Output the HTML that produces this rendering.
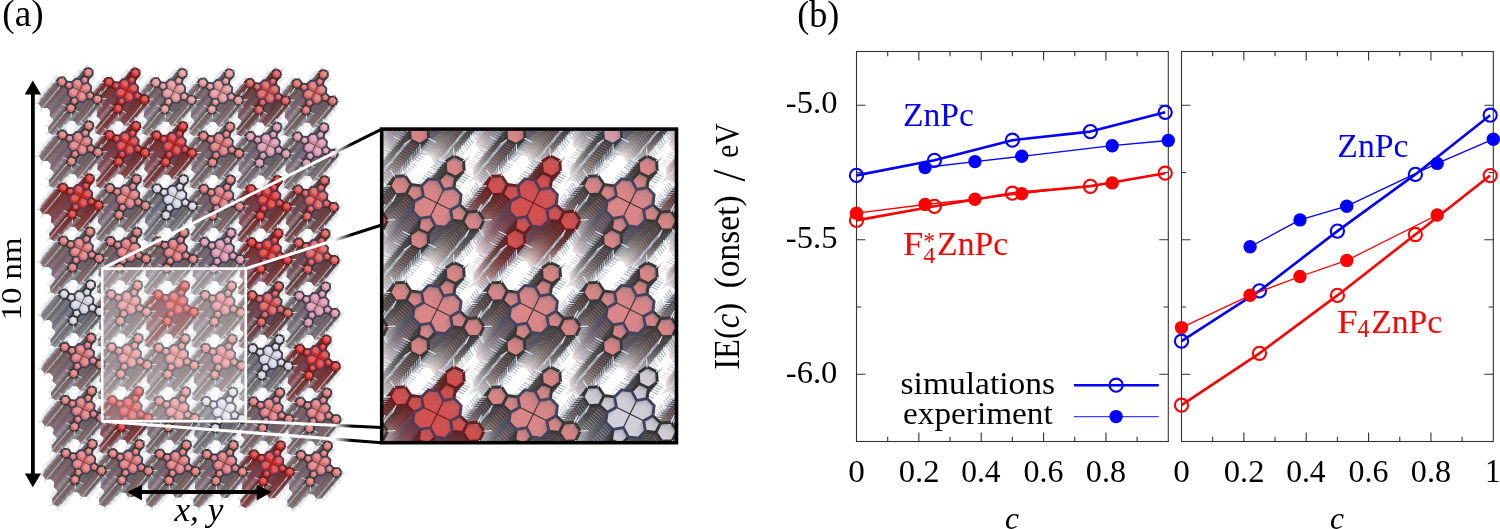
<!DOCTYPE html><html><head><meta charset="utf-8"><style>html,body{margin:0;padding:0;background:#fff;overflow:hidden}svg{display:block;will-change:transform}</style></head><body><svg width="1500" height="529" viewBox="0 0 1500 529" font-family='"Liberation Serif", serif'><defs><g id="bT"><path d="M6.63,3.24L11.19,0.81L14.91,4.40L12.65,9.04L7.53,8.32ZM14.91,4.40L20.06,4.04L22.95,8.32L20.69,12.96L15.53,13.32L12.65,9.04ZM0.00,0.00L6.63,3.24L7.53,8.32L4.06,11.79L-0.81,11.19L-3.24,6.63ZM-3.24,6.63L-0.81,11.19L-4.40,14.91L-9.04,12.65L-8.32,7.53ZM-4.40,14.91L-4.04,20.06L-8.32,22.95L-12.96,20.69L-13.32,15.53L-9.04,12.65ZM-0.00,0.00L-3.24,6.63L-8.32,7.53L-11.79,4.06L-11.19,-0.81L-6.63,-3.24ZM-6.63,-3.24L-11.19,-0.81L-14.91,-4.40L-12.65,-9.04L-7.53,-8.32ZM-14.91,-4.40L-20.06,-4.04L-22.95,-8.32L-20.69,-12.96L-15.53,-13.32L-12.65,-9.04ZM0.00,-0.00L-6.63,-3.24L-7.53,-8.32L-4.06,-11.79L0.81,-11.19L3.24,-6.63ZM3.24,-6.63L0.81,-11.19L4.40,-14.91L9.04,-12.65L8.32,-7.53ZM4.40,-14.91L4.04,-20.06L8.32,-22.95L12.96,-20.69L13.32,-15.53L9.04,-12.65ZM0.00,0.00L3.24,-6.63L8.32,-7.53L11.79,-4.06L11.19,0.81L6.63,3.24Z" style="fill:var(--f)" fill-opacity="0.6" stroke="none"/><path d="M9.03,2.87L11.86,1.36L14.17,3.59L12.76,6.47L9.59,6.02ZM16.91,4.93L20.10,4.70L21.89,7.36L20.49,10.24L17.30,10.46L15.50,7.80ZM1.80,1.51L5.91,3.51L6.47,6.67L4.32,8.82L1.30,8.45L-0.21,5.62ZM-3.07,7.03L-1.56,9.86L-3.79,12.17L-6.67,10.76L-6.22,7.59ZM-5.13,14.91L-4.90,18.10L-7.56,19.89L-10.44,18.49L-10.66,15.30L-8.00,13.50ZM-1.71,-0.20L-3.71,3.91L-6.87,4.47L-9.02,2.32L-8.65,-0.70L-5.82,-2.21ZM-7.23,-5.07L-10.06,-3.56L-12.37,-5.79L-10.96,-8.67L-7.79,-8.22ZM-15.11,-7.13L-18.30,-6.90L-20.09,-9.56L-18.69,-12.44L-15.50,-12.66L-13.70,-10.00ZM0.00,-3.71L-4.11,-5.71L-4.67,-8.87L-2.52,-11.02L0.50,-10.65L2.01,-7.82ZM4.87,-9.23L3.36,-12.06L5.59,-14.37L8.47,-12.96L8.02,-9.79ZM6.93,-17.11L6.70,-20.30L9.36,-22.09L12.24,-20.69L12.46,-17.50L9.80,-15.70ZM3.51,-2.00L5.51,-6.11L8.67,-6.67L10.82,-4.52L10.45,-1.50L7.62,0.01Z" style="fill:var(--l)" fill-opacity="0.55" stroke="none"/><path d="M0.00,0.00L6.63,3.24M0.00,0.00L-3.24,6.63M0.00,0.00L-6.63,-3.24M0.00,0.00L3.24,-6.63" fill="none" style="stroke:var(--c)" stroke-width="0.72"/><path d="M11.19,0.81L14.91,4.40M14.91,4.40L12.65,9.04M12.65,9.04L7.53,8.32M14.91,4.40L20.06,4.04M20.06,4.04L22.95,8.32M22.95,8.32L20.69,12.96M20.69,12.96L15.53,13.32M15.53,13.32L12.65,9.04M12.65,9.04L14.91,4.40M-0.81,11.19L-4.40,14.91M-4.40,14.91L-9.04,12.65M-9.04,12.65L-8.32,7.53M-4.40,14.91L-4.04,20.06M-4.04,20.06L-8.32,22.95M-8.32,22.95L-12.96,20.69M-12.96,20.69L-13.32,15.53M-13.32,15.53L-9.04,12.65M-9.04,12.65L-4.40,14.91M-11.19,-0.81L-14.91,-4.40M-14.91,-4.40L-12.65,-9.04M-12.65,-9.04L-7.53,-8.32M-14.91,-4.40L-20.06,-4.04M-20.06,-4.04L-22.95,-8.32M-22.95,-8.32L-20.69,-12.96M-20.69,-12.96L-15.53,-13.32M-15.53,-13.32L-12.65,-9.04M-12.65,-9.04L-14.91,-4.40M0.81,-11.19L4.40,-14.91M4.40,-14.91L9.04,-12.65M9.04,-12.65L8.32,-7.53M4.40,-14.91L4.04,-20.06M4.04,-20.06L8.32,-22.95M8.32,-22.95L12.96,-20.69M12.96,-20.69L13.32,-15.53M13.32,-15.53L9.04,-12.65M9.04,-12.65L4.40,-14.91" fill="none" style="stroke:var(--c)" stroke-width="1.8" stroke-linecap="round" stroke-linejoin="round"/><path d="M6.63,3.24L11.19,0.81M6.63,3.24L7.53,8.32M7.53,8.32L4.06,11.79M4.06,11.79L-0.81,11.19M-3.24,6.63L-0.81,11.19M-3.24,6.63L-8.32,7.53M-8.32,7.53L-11.79,4.06M-11.79,4.06L-11.19,-0.81M-6.63,-3.24L-11.19,-0.81M-6.63,-3.24L-7.53,-8.32M-7.53,-8.32L-4.06,-11.79M-4.06,-11.79L0.81,-11.19M3.24,-6.63L0.81,-11.19M3.24,-6.63L8.32,-7.53M8.32,-7.53L11.79,-4.06M11.79,-4.06L11.19,0.81" fill="none" style="stroke:var(--n)" stroke-width="1.8" stroke-linecap="round" stroke-linejoin="round"/><path d="M20.06,4.04L21.68,0.72M22.95,8.32L26.63,8.06M20.69,12.96L22.75,16.02M15.53,13.32L13.92,16.64M-4.04,20.06L-0.72,21.68M-8.32,22.95L-8.06,26.63M-12.96,20.69L-16.02,22.75M-13.32,15.53L-16.64,13.92M-20.06,-4.04L-21.68,-0.72M-22.95,-8.32L-26.63,-8.06M-20.69,-12.96L-22.75,-16.02M-15.53,-13.32L-13.92,-16.64M4.04,-20.06L0.72,-21.68M8.32,-22.95L8.06,-26.63M12.96,-20.69L16.02,-22.75M13.32,-15.53L16.64,-13.92" fill="none" style="stroke:var(--h)" stroke-width="0.9" stroke-linecap="round"/></g><g id="bD"><path d="M6.63,3.24L11.19,0.81L14.91,4.40L12.65,9.04L7.53,8.32ZM14.91,4.40L20.06,4.04L22.95,8.32L20.69,12.96L15.53,13.32L12.65,9.04ZM0.00,0.00L6.63,3.24L7.53,8.32L4.06,11.79L-0.81,11.19L-3.24,6.63ZM-3.24,6.63L-0.81,11.19L-4.40,14.91L-9.04,12.65L-8.32,7.53ZM-4.40,14.91L-4.04,20.06L-8.32,22.95L-12.96,20.69L-13.32,15.53L-9.04,12.65ZM-0.00,0.00L-3.24,6.63L-8.32,7.53L-11.79,4.06L-11.19,-0.81L-6.63,-3.24ZM-6.63,-3.24L-11.19,-0.81L-14.91,-4.40L-12.65,-9.04L-7.53,-8.32ZM-14.91,-4.40L-20.06,-4.04L-22.95,-8.32L-20.69,-12.96L-15.53,-13.32L-12.65,-9.04ZM0.00,-0.00L-6.63,-3.24L-7.53,-8.32L-4.06,-11.79L0.81,-11.19L3.24,-6.63ZM3.24,-6.63L0.81,-11.19L4.40,-14.91L9.04,-12.65L8.32,-7.53ZM4.40,-14.91L4.04,-20.06L8.32,-22.95L12.96,-20.69L13.32,-15.53L9.04,-12.65ZM0.00,0.00L3.24,-6.63L8.32,-7.53L11.79,-4.06L11.19,0.81L6.63,3.24Z" style="fill:var(--f)" fill-opacity="1.0" stroke="none"/><path d="M11.19,0.81L14.91,4.40M14.91,4.40L12.65,9.04M12.65,9.04L7.53,8.32M14.91,4.40L20.06,4.04M20.06,4.04L22.95,8.32M22.95,8.32L20.69,12.96M20.69,12.96L15.53,13.32M15.53,13.32L12.65,9.04M12.65,9.04L14.91,4.40M-0.81,11.19L-4.40,14.91M-4.40,14.91L-9.04,12.65M-9.04,12.65L-8.32,7.53M-4.40,14.91L-4.04,20.06M-4.04,20.06L-8.32,22.95M-8.32,22.95L-12.96,20.69M-12.96,20.69L-13.32,15.53M-13.32,15.53L-9.04,12.65M-9.04,12.65L-4.40,14.91M-11.19,-0.81L-14.91,-4.40M-14.91,-4.40L-12.65,-9.04M-12.65,-9.04L-7.53,-8.32M-14.91,-4.40L-20.06,-4.04M-20.06,-4.04L-22.95,-8.32M-22.95,-8.32L-20.69,-12.96M-20.69,-12.96L-15.53,-13.32M-15.53,-13.32L-12.65,-9.04M-12.65,-9.04L-14.91,-4.40M0.81,-11.19L4.40,-14.91M4.40,-14.91L9.04,-12.65M9.04,-12.65L8.32,-7.53M4.40,-14.91L4.04,-20.06M4.04,-20.06L8.32,-22.95M8.32,-22.95L12.96,-20.69M12.96,-20.69L13.32,-15.53M13.32,-15.53L9.04,-12.65M9.04,-12.65L4.40,-14.91" fill="none" style="stroke:var(--c)" stroke-width="1.0" stroke-linecap="round" stroke-linejoin="round"/><path d="M6.63,3.24L11.19,0.81M6.63,3.24L7.53,8.32M7.53,8.32L4.06,11.79M4.06,11.79L-0.81,11.19M-3.24,6.63L-0.81,11.19M-3.24,6.63L-8.32,7.53M-8.32,7.53L-11.79,4.06M-11.79,4.06L-11.19,-0.81M-6.63,-3.24L-11.19,-0.81M-6.63,-3.24L-7.53,-8.32M-7.53,-8.32L-4.06,-11.79M-4.06,-11.79L0.81,-11.19M3.24,-6.63L0.81,-11.19M3.24,-6.63L8.32,-7.53M8.32,-7.53L11.79,-4.06M11.79,-4.06L11.19,0.81" fill="none" style="stroke:var(--n)" stroke-width="1.0" stroke-linecap="round" stroke-linejoin="round"/><path d="M20.06,4.04L21.68,0.72M22.95,8.32L26.63,8.06M20.69,12.96L22.75,16.02M15.53,13.32L13.92,16.64M-4.04,20.06L-0.72,21.68M-8.32,22.95L-8.06,26.63M-12.96,20.69L-16.02,22.75M-13.32,15.53L-16.64,13.92M-20.06,-4.04L-21.68,-0.72M-22.95,-8.32L-26.63,-8.06M-20.69,-12.96L-22.75,-16.02M-15.53,-13.32L-13.92,-16.64M4.04,-20.06L0.72,-21.68M8.32,-22.95L8.06,-26.63M12.96,-20.69L16.02,-22.75M13.32,-15.53L16.64,-13.92" fill="none" style="stroke:var(--h)" stroke-width="0.45" stroke-linecap="round"/></g><g id="iT"><path d="M6.63,3.24L11.19,0.81L14.91,4.40L12.65,9.04L7.53,8.32ZM14.91,4.40L20.06,4.04L22.95,8.32L20.69,12.96L15.53,13.32L12.65,9.04ZM0.00,0.00L6.63,3.24L7.53,8.32L4.06,11.79L-0.81,11.19L-3.24,6.63ZM-3.24,6.63L-0.81,11.19L-4.40,14.91L-9.04,12.65L-8.32,7.53ZM-4.40,14.91L-4.04,20.06L-8.32,22.95L-12.96,20.69L-13.32,15.53L-9.04,12.65ZM-0.00,0.00L-3.24,6.63L-8.32,7.53L-11.79,4.06L-11.19,-0.81L-6.63,-3.24ZM-6.63,-3.24L-11.19,-0.81L-14.91,-4.40L-12.65,-9.04L-7.53,-8.32ZM-14.91,-4.40L-20.06,-4.04L-22.95,-8.32L-20.69,-12.96L-15.53,-13.32L-12.65,-9.04ZM0.00,-0.00L-6.63,-3.24L-7.53,-8.32L-4.06,-11.79L0.81,-11.19L3.24,-6.63ZM3.24,-6.63L0.81,-11.19L4.40,-14.91L9.04,-12.65L8.32,-7.53ZM4.40,-14.91L4.04,-20.06L8.32,-22.95L12.96,-20.69L13.32,-15.53L9.04,-12.65ZM0.00,0.00L3.24,-6.63L8.32,-7.53L11.79,-4.06L11.19,0.81L6.63,3.24Z" style="fill:var(--f)" fill-opacity="0.62" stroke="none"/><path d="M0.00,0.00L6.63,3.24M0.00,0.00L-3.24,6.63M0.00,0.00L-6.63,-3.24M0.00,0.00L3.24,-6.63" fill="none" style="stroke:var(--c)" stroke-width="0.56"/><path d="M11.19,0.81L14.91,4.40M14.91,4.40L12.65,9.04M12.65,9.04L7.53,8.32M14.91,4.40L20.06,4.04M20.06,4.04L22.95,8.32M22.95,8.32L20.69,12.96M20.69,12.96L15.53,13.32M15.53,13.32L12.65,9.04M12.65,9.04L14.91,4.40M-0.81,11.19L-4.40,14.91M-4.40,14.91L-9.04,12.65M-9.04,12.65L-8.32,7.53M-4.40,14.91L-4.04,20.06M-4.04,20.06L-8.32,22.95M-8.32,22.95L-12.96,20.69M-12.96,20.69L-13.32,15.53M-13.32,15.53L-9.04,12.65M-9.04,12.65L-4.40,14.91M-11.19,-0.81L-14.91,-4.40M-14.91,-4.40L-12.65,-9.04M-12.65,-9.04L-7.53,-8.32M-14.91,-4.40L-20.06,-4.04M-20.06,-4.04L-22.95,-8.32M-22.95,-8.32L-20.69,-12.96M-20.69,-12.96L-15.53,-13.32M-15.53,-13.32L-12.65,-9.04M-12.65,-9.04L-14.91,-4.40M0.81,-11.19L4.40,-14.91M4.40,-14.91L9.04,-12.65M9.04,-12.65L8.32,-7.53M4.40,-14.91L4.04,-20.06M4.04,-20.06L8.32,-22.95M8.32,-22.95L12.96,-20.69M12.96,-20.69L13.32,-15.53M13.32,-15.53L9.04,-12.65M9.04,-12.65L4.40,-14.91" fill="none" style="stroke:var(--c)" stroke-width="1.4" stroke-linecap="round" stroke-linejoin="round"/><path d="M6.63,3.24L11.19,0.81M6.63,3.24L7.53,8.32M7.53,8.32L4.06,11.79M4.06,11.79L-0.81,11.19M-3.24,6.63L-0.81,11.19M-3.24,6.63L-8.32,7.53M-8.32,7.53L-11.79,4.06M-11.79,4.06L-11.19,-0.81M-6.63,-3.24L-11.19,-0.81M-6.63,-3.24L-7.53,-8.32M-7.53,-8.32L-4.06,-11.79M-4.06,-11.79L0.81,-11.19M3.24,-6.63L0.81,-11.19M3.24,-6.63L8.32,-7.53M8.32,-7.53L11.79,-4.06M11.79,-4.06L11.19,0.81" fill="none" style="stroke:var(--n)" stroke-width="1.4" stroke-linecap="round" stroke-linejoin="round"/><path d="M20.06,4.04L21.68,0.72M22.95,8.32L26.63,8.06M20.69,12.96L22.75,16.02M15.53,13.32L13.92,16.64M-4.04,20.06L-0.72,21.68M-8.32,22.95L-8.06,26.63M-12.96,20.69L-16.02,22.75M-13.32,15.53L-16.64,13.92M-20.06,-4.04L-21.68,-0.72M-22.95,-8.32L-26.63,-8.06M-20.69,-12.96L-22.75,-16.02M-15.53,-13.32L-13.92,-16.64M4.04,-20.06L0.72,-21.68M8.32,-22.95L8.06,-26.63M12.96,-20.69L16.02,-22.75M13.32,-15.53L16.64,-13.92" fill="none" style="stroke:var(--h)" stroke-width="0.6" stroke-linecap="round"/></g><g id="iD"><path d="M6.63,3.24L11.19,0.81L14.91,4.40L12.65,9.04L7.53,8.32ZM14.91,4.40L20.06,4.04L22.95,8.32L20.69,12.96L15.53,13.32L12.65,9.04ZM0.00,0.00L6.63,3.24L7.53,8.32L4.06,11.79L-0.81,11.19L-3.24,6.63ZM-3.24,6.63L-0.81,11.19L-4.40,14.91L-9.04,12.65L-8.32,7.53ZM-4.40,14.91L-4.04,20.06L-8.32,22.95L-12.96,20.69L-13.32,15.53L-9.04,12.65ZM-0.00,0.00L-3.24,6.63L-8.32,7.53L-11.79,4.06L-11.19,-0.81L-6.63,-3.24ZM-6.63,-3.24L-11.19,-0.81L-14.91,-4.40L-12.65,-9.04L-7.53,-8.32ZM-14.91,-4.40L-20.06,-4.04L-22.95,-8.32L-20.69,-12.96L-15.53,-13.32L-12.65,-9.04ZM0.00,-0.00L-6.63,-3.24L-7.53,-8.32L-4.06,-11.79L0.81,-11.19L3.24,-6.63ZM3.24,-6.63L0.81,-11.19L4.40,-14.91L9.04,-12.65L8.32,-7.53ZM4.40,-14.91L4.04,-20.06L8.32,-22.95L12.96,-20.69L13.32,-15.53L9.04,-12.65ZM0.00,0.00L3.24,-6.63L8.32,-7.53L11.79,-4.06L11.19,0.81L6.63,3.24Z" style="fill:var(--f)" fill-opacity="0.5" stroke="none"/><path d="M11.19,0.81L14.91,4.40M14.91,4.40L12.65,9.04M12.65,9.04L7.53,8.32M14.91,4.40L20.06,4.04M20.06,4.04L22.95,8.32M22.95,8.32L20.69,12.96M20.69,12.96L15.53,13.32M15.53,13.32L12.65,9.04M12.65,9.04L14.91,4.40M-0.81,11.19L-4.40,14.91M-4.40,14.91L-9.04,12.65M-9.04,12.65L-8.32,7.53M-4.40,14.91L-4.04,20.06M-4.04,20.06L-8.32,22.95M-8.32,22.95L-12.96,20.69M-12.96,20.69L-13.32,15.53M-13.32,15.53L-9.04,12.65M-9.04,12.65L-4.40,14.91M-11.19,-0.81L-14.91,-4.40M-14.91,-4.40L-12.65,-9.04M-12.65,-9.04L-7.53,-8.32M-14.91,-4.40L-20.06,-4.04M-20.06,-4.04L-22.95,-8.32M-22.95,-8.32L-20.69,-12.96M-20.69,-12.96L-15.53,-13.32M-15.53,-13.32L-12.65,-9.04M-12.65,-9.04L-14.91,-4.40M0.81,-11.19L4.40,-14.91M4.40,-14.91L9.04,-12.65M9.04,-12.65L8.32,-7.53M4.40,-14.91L4.04,-20.06M4.04,-20.06L8.32,-22.95M8.32,-22.95L12.96,-20.69M12.96,-20.69L13.32,-15.53M13.32,-15.53L9.04,-12.65M9.04,-12.65L4.40,-14.91" fill="none" style="stroke:var(--c)" stroke-width="1.1" stroke-linecap="round" stroke-linejoin="round"/><path d="M6.63,3.24L11.19,0.81M6.63,3.24L7.53,8.32M7.53,8.32L4.06,11.79M4.06,11.79L-0.81,11.19M-3.24,6.63L-0.81,11.19M-3.24,6.63L-8.32,7.53M-8.32,7.53L-11.79,4.06M-11.79,4.06L-11.19,-0.81M-6.63,-3.24L-11.19,-0.81M-6.63,-3.24L-7.53,-8.32M-7.53,-8.32L-4.06,-11.79M-4.06,-11.79L0.81,-11.19M3.24,-6.63L0.81,-11.19M3.24,-6.63L8.32,-7.53M8.32,-7.53L11.79,-4.06M11.79,-4.06L11.19,0.81" fill="none" style="stroke:var(--n)" stroke-width="1.1" stroke-linecap="round" stroke-linejoin="round"/><path d="M20.06,4.04L21.68,0.72M22.95,8.32L26.63,8.06M20.69,12.96L22.75,16.02M15.53,13.32L13.92,16.64M-4.04,20.06L-0.72,21.68M-8.32,22.95L-8.06,26.63M-12.96,20.69L-16.02,22.75M-13.32,15.53L-16.64,13.92M-20.06,-4.04L-21.68,-0.72M-22.95,-8.32L-26.63,-8.06M-20.69,-12.96L-22.75,-16.02M-15.53,-13.32L-13.92,-16.64M4.04,-20.06L0.72,-21.68M8.32,-22.95L8.06,-26.63M12.96,-20.69L16.02,-22.75M13.32,-15.53L16.64,-13.92" fill="none" style="stroke:var(--h)" stroke-width="0.5" stroke-linecap="round"/></g><clipPath id="insclip"><rect x="383" y="131" width="292" height="310"/></clipPath></defs><g id="blk"><use href="#bD" x="61.90" y="111.67" style="--f:#bf777b;--c:#6e6b6b;--h:#b8bac5;--n:#716f7c"/><use href="#bD" x="108.93" y="112.05" style="--f:#b84a4a;--c:#734747;--h:#b8bac5;--n:#755662"/><use href="#bD" x="155.96" y="112.44" style="--f:#c2878b;--c:#6e6b6b;--h:#b8bac5;--n:#716f7c"/><use href="#bD" x="202.99" y="112.81" style="--f:#c2878b;--c:#6e6b6b;--h:#b8bac5;--n:#716f7c"/><use href="#bD" x="250.02" y="113.19" style="--f:#b85f5f;--c:#644f4f;--h:#b8bac5;--n:#6a5b68"/><use href="#bD" x="297.05" y="113.58" style="--f:#bb6d6d;--c:#6e6b6b;--h:#b8bac5;--n:#716f7c"/><use href="#bD" x="62.48" y="164.74" style="--f:#bf777b;--c:#6e6b6b;--h:#b8bac5;--n:#716f7c"/><use href="#bD" x="109.51" y="165.12" style="--f:#b84a4a;--c:#734747;--h:#b8bac5;--n:#755662"/><use href="#bD" x="156.54" y="165.50" style="--f:#b84a4a;--c:#734747;--h:#b8bac5;--n:#755662"/><use href="#bD" x="203.57" y="165.88" style="--f:#bf777b;--c:#6e6b6b;--h:#b8bac5;--n:#716f7c"/><use href="#bD" x="250.60" y="166.25" style="--f:#b48794;--c:#6e6b6b;--h:#b8bac5;--n:#716f7c"/><use href="#bD" x="297.63" y="166.64" style="--f:#b48794;--c:#6e6b6b;--h:#b8bac5;--n:#716f7c"/><use href="#bD" x="63.06" y="217.80" style="--f:#b84a4a;--c:#734747;--h:#b8bac5;--n:#755662"/><use href="#bD" x="110.09" y="218.18" style="--f:#bf777b;--c:#6e6b6b;--h:#b8bac5;--n:#716f7c"/><use href="#bD" x="157.12" y="218.56" style="--f:#aaa5b3;--c:#6e6b6b;--h:#b8bac5;--n:#716f7c"/><use href="#bD" x="204.15" y="218.94" style="--f:#bf777b;--c:#6e6b6b;--h:#b8bac5;--n:#716f7c"/><use href="#bD" x="251.18" y="219.31" style="--f:#b84a4a;--c:#734747;--h:#b8bac5;--n:#755662"/><use href="#bD" x="298.21" y="219.70" style="--f:#b85f5f;--c:#644f4f;--h:#b8bac5;--n:#6a5b68"/><use href="#bD" x="63.64" y="270.86" style="--f:#bf777b;--c:#6e6b6b;--h:#b8bac5;--n:#716f7c"/><use href="#bD" x="110.67" y="271.24" style="--f:#bf777b;--c:#6e6b6b;--h:#b8bac5;--n:#716f7c"/><use href="#bD" x="157.70" y="271.62" style="--f:#bf777b;--c:#6e6b6b;--h:#b8bac5;--n:#716f7c"/><use href="#bD" x="204.73" y="272.00" style="--f:#b48794;--c:#6e6b6b;--h:#b8bac5;--n:#716f7c"/><use href="#bD" x="251.76" y="272.38" style="--f:#b84a4a;--c:#734747;--h:#b8bac5;--n:#755662"/><use href="#bD" x="298.79" y="272.75" style="--f:#b85f5f;--c:#644f4f;--h:#b8bac5;--n:#6a5b68"/><use href="#bD" x="64.22" y="323.92" style="--f:#aaa5b3;--c:#6e6b6b;--h:#b8bac5;--n:#716f7c"/><use href="#bD" x="111.25" y="324.30" style="--f:#bf777b;--c:#6e6b6b;--h:#b8bac5;--n:#716f7c"/><use href="#bD" x="158.28" y="324.68" style="--f:#b84a4a;--c:#734747;--h:#b8bac5;--n:#755662"/><use href="#bD" x="205.31" y="325.06" style="--f:#bf777b;--c:#6e6b6b;--h:#b8bac5;--n:#716f7c"/><use href="#bD" x="252.34" y="325.44" style="--f:#b85f5f;--c:#644f4f;--h:#b8bac5;--n:#6a5b68"/><use href="#bD" x="299.37" y="325.81" style="--f:#b48794;--c:#6e6b6b;--h:#b8bac5;--n:#716f7c"/><use href="#bD" x="64.80" y="376.98" style="--f:#bf777b;--c:#6e6b6b;--h:#b8bac5;--n:#716f7c"/><use href="#bD" x="111.83" y="377.36" style="--f:#bf777b;--c:#6e6b6b;--h:#b8bac5;--n:#716f7c"/><use href="#bD" x="158.86" y="377.74" style="--f:#bf777b;--c:#6e6b6b;--h:#b8bac5;--n:#716f7c"/><use href="#bD" x="205.89" y="378.12" style="--f:#bf777b;--c:#6e6b6b;--h:#b8bac5;--n:#716f7c"/><use href="#bD" x="252.92" y="378.50" style="--f:#aaa5b3;--c:#6e6b6b;--h:#b8bac5;--n:#716f7c"/><use href="#bD" x="299.95" y="378.88" style="--f:#b84a4a;--c:#734747;--h:#b8bac5;--n:#755662"/><use href="#bD" x="65.38" y="430.04" style="--f:#bf777b;--c:#6e6b6b;--h:#b8bac5;--n:#716f7c"/><use href="#bD" x="112.41" y="430.42" style="--f:#b84a4a;--c:#734747;--h:#b8bac5;--n:#755662"/><use href="#bD" x="159.44" y="430.80" style="--f:#bf777b;--c:#6e6b6b;--h:#b8bac5;--n:#716f7c"/><use href="#bD" x="206.47" y="431.18" style="--f:#aaa5b3;--c:#6e6b6b;--h:#b8bac5;--n:#716f7c"/><use href="#bD" x="253.50" y="431.56" style="--f:#bf777b;--c:#6e6b6b;--h:#b8bac5;--n:#716f7c"/><use href="#bD" x="300.53" y="431.94" style="--f:#bf777b;--c:#6e6b6b;--h:#b8bac5;--n:#716f7c"/><use href="#bD" x="65.96" y="483.10" style="--f:#bf777b;--c:#6e6b6b;--h:#b8bac5;--n:#716f7c"/><use href="#bD" x="112.99" y="483.48" style="--f:#bf777b;--c:#6e6b6b;--h:#b8bac5;--n:#716f7c"/><use href="#bD" x="160.02" y="483.86" style="--f:#bf777b;--c:#6e6b6b;--h:#b8bac5;--n:#716f7c"/><use href="#bD" x="207.05" y="484.24" style="--f:#bf777b;--c:#6e6b6b;--h:#b8bac5;--n:#716f7c"/><use href="#bD" x="254.08" y="484.62" style="--f:#b84a4a;--c:#734747;--h:#b8bac5;--n:#755662"/><use href="#bD" x="301.11" y="485.00" style="--f:#bf777b;--c:#6e6b6b;--h:#b8bac5;--n:#716f7c"/><use href="#bD" x="62.70" y="110.71" style="--f:#be767a;--c:#6d6a6a;--h:#b7bac4;--n:#706e7b"/><use href="#bD" x="109.73" y="111.09" style="--f:#b74848;--c:#724545;--h:#b7bac4;--n:#745561"/><use href="#bD" x="156.76" y="111.47" style="--f:#c2868a;--c:#6d6a6a;--h:#b7bac4;--n:#706e7b"/><use href="#bD" x="203.79" y="111.85" style="--f:#c2868a;--c:#6d6a6a;--h:#b7bac4;--n:#706e7b"/><use href="#bD" x="250.82" y="112.23" style="--f:#b75d5d;--c:#634d4d;--h:#b7bac4;--n:#695a66"/><use href="#bD" x="297.85" y="112.61" style="--f:#bb6c6c;--c:#6d6a6a;--h:#b7bac4;--n:#706e7b"/><use href="#bD" x="63.28" y="163.77" style="--f:#be767a;--c:#6d6a6a;--h:#b7bac4;--n:#706e7b"/><use href="#bD" x="110.31" y="164.15" style="--f:#b74848;--c:#724545;--h:#b7bac4;--n:#745561"/><use href="#bD" x="157.34" y="164.53" style="--f:#b74848;--c:#724545;--h:#b7bac4;--n:#745561"/><use href="#bD" x="204.37" y="164.91" style="--f:#be767a;--c:#6d6a6a;--h:#b7bac4;--n:#706e7b"/><use href="#bD" x="251.40" y="165.29" style="--f:#b48693;--c:#6d6a6a;--h:#b7bac4;--n:#706e7b"/><use href="#bD" x="298.43" y="165.67" style="--f:#b48693;--c:#6d6a6a;--h:#b7bac4;--n:#706e7b"/><use href="#bD" x="63.86" y="216.83" style="--f:#b74848;--c:#724545;--h:#b7bac4;--n:#745561"/><use href="#bD" x="110.89" y="217.21" style="--f:#be767a;--c:#6d6a6a;--h:#b7bac4;--n:#706e7b"/><use href="#bD" x="157.92" y="217.59" style="--f:#a9a5b3;--c:#6d6a6a;--h:#b7bac4;--n:#706e7b"/><use href="#bD" x="204.95" y="217.97" style="--f:#be767a;--c:#6d6a6a;--h:#b7bac4;--n:#706e7b"/><use href="#bD" x="251.98" y="218.35" style="--f:#b74848;--c:#724545;--h:#b7bac4;--n:#745561"/><use href="#bD" x="299.01" y="218.73" style="--f:#b75d5d;--c:#634d4d;--h:#b7bac4;--n:#695a66"/><use href="#bD" x="64.44" y="269.89" style="--f:#be767a;--c:#6d6a6a;--h:#b7bac4;--n:#706e7b"/><use href="#bD" x="111.47" y="270.27" style="--f:#be767a;--c:#6d6a6a;--h:#b7bac4;--n:#706e7b"/><use href="#bD" x="158.50" y="270.65" style="--f:#be767a;--c:#6d6a6a;--h:#b7bac4;--n:#706e7b"/><use href="#bD" x="205.53" y="271.03" style="--f:#b48693;--c:#6d6a6a;--h:#b7bac4;--n:#706e7b"/><use href="#bD" x="252.56" y="271.41" style="--f:#b74848;--c:#724545;--h:#b7bac4;--n:#745561"/><use href="#bD" x="299.59" y="271.79" style="--f:#b75d5d;--c:#634d4d;--h:#b7bac4;--n:#695a66"/><use href="#bD" x="65.02" y="322.95" style="--f:#a9a5b3;--c:#6d6a6a;--h:#b7bac4;--n:#706e7b"/><use href="#bD" x="112.05" y="323.33" style="--f:#be767a;--c:#6d6a6a;--h:#b7bac4;--n:#706e7b"/><use href="#bD" x="159.08" y="323.71" style="--f:#b74848;--c:#724545;--h:#b7bac4;--n:#745561"/><use href="#bD" x="206.11" y="324.09" style="--f:#be767a;--c:#6d6a6a;--h:#b7bac4;--n:#706e7b"/><use href="#bD" x="253.14" y="324.47" style="--f:#b75d5d;--c:#634d4d;--h:#b7bac4;--n:#695a66"/><use href="#bD" x="300.17" y="324.85" style="--f:#b48693;--c:#6d6a6a;--h:#b7bac4;--n:#706e7b"/><use href="#bD" x="65.60" y="376.01" style="--f:#be767a;--c:#6d6a6a;--h:#b7bac4;--n:#706e7b"/><use href="#bD" x="112.63" y="376.39" style="--f:#be767a;--c:#6d6a6a;--h:#b7bac4;--n:#706e7b"/><use href="#bD" x="159.66" y="376.77" style="--f:#be767a;--c:#6d6a6a;--h:#b7bac4;--n:#706e7b"/><use href="#bD" x="206.69" y="377.15" style="--f:#be767a;--c:#6d6a6a;--h:#b7bac4;--n:#706e7b"/><use href="#bD" x="253.72" y="377.53" style="--f:#a9a5b3;--c:#6d6a6a;--h:#b7bac4;--n:#706e7b"/><use href="#bD" x="300.75" y="377.91" style="--f:#b74848;--c:#724545;--h:#b7bac4;--n:#745561"/><use href="#bD" x="66.18" y="429.07" style="--f:#be767a;--c:#6d6a6a;--h:#b7bac4;--n:#706e7b"/><use href="#bD" x="113.21" y="429.45" style="--f:#b74848;--c:#724545;--h:#b7bac4;--n:#745561"/><use href="#bD" x="160.24" y="429.83" style="--f:#be767a;--c:#6d6a6a;--h:#b7bac4;--n:#706e7b"/><use href="#bD" x="207.27" y="430.21" style="--f:#a9a5b3;--c:#6d6a6a;--h:#b7bac4;--n:#706e7b"/><use href="#bD" x="254.30" y="430.59" style="--f:#be767a;--c:#6d6a6a;--h:#b7bac4;--n:#706e7b"/><use href="#bD" x="301.33" y="430.97" style="--f:#be767a;--c:#6d6a6a;--h:#b7bac4;--n:#706e7b"/><use href="#bD" x="66.76" y="482.13" style="--f:#be767a;--c:#6d6a6a;--h:#b7bac4;--n:#706e7b"/><use href="#bD" x="113.79" y="482.51" style="--f:#be767a;--c:#6d6a6a;--h:#b7bac4;--n:#706e7b"/><use href="#bD" x="160.82" y="482.89" style="--f:#be767a;--c:#6d6a6a;--h:#b7bac4;--n:#706e7b"/><use href="#bD" x="207.85" y="483.27" style="--f:#be767a;--c:#6d6a6a;--h:#b7bac4;--n:#706e7b"/><use href="#bD" x="254.88" y="483.65" style="--f:#b74848;--c:#724545;--h:#b7bac4;--n:#745561"/><use href="#bD" x="301.91" y="484.03" style="--f:#be767a;--c:#6d6a6a;--h:#b7bac4;--n:#706e7b"/><use href="#bD" x="63.50" y="109.75" style="--f:#be7579;--c:#6b6969;--h:#dfe4ed;--n:#6f6d7a"/><use href="#bD" x="110.53" y="110.13" style="--f:#b74747;--c:#714444;--h:#dfe4ed;--n:#735360"/><use href="#bD" x="157.56" y="110.51" style="--f:#c18589;--c:#6b6969;--h:#dfe4ed;--n:#6f6d7a"/><use href="#bD" x="204.59" y="110.89" style="--f:#c18589;--c:#6b6969;--h:#dfe4ed;--n:#6f6d7a"/><use href="#bD" x="251.62" y="111.27" style="--f:#b75c5c;--c:#624c4c;--h:#dfe4ed;--n:#685965"/><use href="#bD" x="298.65" y="111.65" style="--f:#ba6b6b;--c:#6b6969;--h:#dfe4ed;--n:#6f6d7a"/><use href="#bD" x="64.08" y="162.81" style="--f:#be7579;--c:#6b6969;--h:#dfe4ed;--n:#6f6d7a"/><use href="#bD" x="111.11" y="163.19" style="--f:#b74747;--c:#714444;--h:#dfe4ed;--n:#735360"/><use href="#bD" x="158.14" y="163.57" style="--f:#b74747;--c:#714444;--h:#dfe4ed;--n:#735360"/><use href="#bD" x="205.17" y="163.95" style="--f:#be7579;--c:#6b6969;--h:#dfe4ed;--n:#6f6d7a"/><use href="#bD" x="252.20" y="164.33" style="--f:#b38592;--c:#6b6969;--h:#dfe4ed;--n:#6f6d7a"/><use href="#bD" x="299.23" y="164.71" style="--f:#b38592;--c:#6b6969;--h:#dfe4ed;--n:#6f6d7a"/><use href="#bD" x="64.66" y="215.87" style="--f:#b74747;--c:#714444;--h:#dfe4ed;--n:#735360"/><use href="#bD" x="111.69" y="216.25" style="--f:#be7579;--c:#6b6969;--h:#dfe4ed;--n:#6f6d7a"/><use href="#bD" x="158.72" y="216.63" style="--f:#a8a4b2;--c:#6b6969;--h:#dfe4ed;--n:#6f6d7a"/><use href="#bD" x="205.75" y="217.01" style="--f:#be7579;--c:#6b6969;--h:#dfe4ed;--n:#6f6d7a"/><use href="#bD" x="252.78" y="217.39" style="--f:#b74747;--c:#714444;--h:#dfe4ed;--n:#735360"/><use href="#bD" x="299.81" y="217.77" style="--f:#b75c5c;--c:#624c4c;--h:#dfe4ed;--n:#685965"/><use href="#bD" x="65.24" y="268.93" style="--f:#be7579;--c:#6b6969;--h:#dfe4ed;--n:#6f6d7a"/><use href="#bD" x="112.27" y="269.31" style="--f:#be7579;--c:#6b6969;--h:#dfe4ed;--n:#6f6d7a"/><use href="#bD" x="159.30" y="269.69" style="--f:#be7579;--c:#6b6969;--h:#dfe4ed;--n:#6f6d7a"/><use href="#bD" x="206.33" y="270.07" style="--f:#b38592;--c:#6b6969;--h:#dfe4ed;--n:#6f6d7a"/><use href="#bD" x="253.36" y="270.45" style="--f:#b74747;--c:#714444;--h:#dfe4ed;--n:#735360"/><use href="#bD" x="300.39" y="270.83" style="--f:#b75c5c;--c:#624c4c;--h:#dfe4ed;--n:#685965"/><use href="#bD" x="65.82" y="321.99" style="--f:#a8a4b2;--c:#6b6969;--h:#dfe4ed;--n:#6f6d7a"/><use href="#bD" x="112.85" y="322.37" style="--f:#be7579;--c:#6b6969;--h:#dfe4ed;--n:#6f6d7a"/><use href="#bD" x="159.88" y="322.75" style="--f:#b74747;--c:#714444;--h:#dfe4ed;--n:#735360"/><use href="#bD" x="206.91" y="323.13" style="--f:#be7579;--c:#6b6969;--h:#dfe4ed;--n:#6f6d7a"/><use href="#bD" x="253.94" y="323.51" style="--f:#b75c5c;--c:#624c4c;--h:#dfe4ed;--n:#685965"/><use href="#bD" x="300.97" y="323.89" style="--f:#b38592;--c:#6b6969;--h:#dfe4ed;--n:#6f6d7a"/><use href="#bD" x="66.40" y="375.05" style="--f:#be7579;--c:#6b6969;--h:#dfe4ed;--n:#6f6d7a"/><use href="#bD" x="113.43" y="375.43" style="--f:#be7579;--c:#6b6969;--h:#dfe4ed;--n:#6f6d7a"/><use href="#bD" x="160.46" y="375.81" style="--f:#be7579;--c:#6b6969;--h:#dfe4ed;--n:#6f6d7a"/><use href="#bD" x="207.49" y="376.19" style="--f:#be7579;--c:#6b6969;--h:#dfe4ed;--n:#6f6d7a"/><use href="#bD" x="254.52" y="376.57" style="--f:#a8a4b2;--c:#6b6969;--h:#dfe4ed;--n:#6f6d7a"/><use href="#bD" x="301.55" y="376.95" style="--f:#b74747;--c:#714444;--h:#dfe4ed;--n:#735360"/><use href="#bD" x="66.98" y="428.11" style="--f:#be7579;--c:#6b6969;--h:#dfe4ed;--n:#6f6d7a"/><use href="#bD" x="114.01" y="428.49" style="--f:#b74747;--c:#714444;--h:#dfe4ed;--n:#735360"/><use href="#bD" x="161.04" y="428.87" style="--f:#be7579;--c:#6b6969;--h:#dfe4ed;--n:#6f6d7a"/><use href="#bD" x="208.07" y="429.25" style="--f:#a8a4b2;--c:#6b6969;--h:#dfe4ed;--n:#6f6d7a"/><use href="#bD" x="255.10" y="429.63" style="--f:#be7579;--c:#6b6969;--h:#dfe4ed;--n:#6f6d7a"/><use href="#bD" x="302.13" y="430.01" style="--f:#be7579;--c:#6b6969;--h:#dfe4ed;--n:#6f6d7a"/><use href="#bD" x="67.56" y="481.17" style="--f:#be7579;--c:#6b6969;--h:#dfe4ed;--n:#6f6d7a"/><use href="#bD" x="114.59" y="481.55" style="--f:#be7579;--c:#6b6969;--h:#dfe4ed;--n:#6f6d7a"/><use href="#bD" x="161.62" y="481.93" style="--f:#be7579;--c:#6b6969;--h:#dfe4ed;--n:#6f6d7a"/><use href="#bD" x="208.65" y="482.31" style="--f:#be7579;--c:#6b6969;--h:#dfe4ed;--n:#6f6d7a"/><use href="#bD" x="255.68" y="482.69" style="--f:#b74747;--c:#714444;--h:#dfe4ed;--n:#735360"/><use href="#bD" x="302.71" y="483.07" style="--f:#be7579;--c:#6b6969;--h:#dfe4ed;--n:#6f6d7a"/><use href="#bD" x="64.30" y="108.79" style="--f:#bd7478;--c:#6a6868;--h:#b6b9c4;--n:#6e6c79"/><use href="#bD" x="111.33" y="109.17" style="--f:#b64545;--c:#704343;--h:#b6b9c4;--n:#71525f"/><use href="#bD" x="158.36" y="109.55" style="--f:#c18588;--c:#6a6868;--h:#b6b9c4;--n:#6e6c79"/><use href="#bD" x="205.39" y="109.93" style="--f:#c18588;--c:#6a6868;--h:#b6b9c4;--n:#6e6c79"/><use href="#bD" x="252.42" y="110.31" style="--f:#b65b5b;--c:#604b4b;--h:#b6b9c4;--n:#675764"/><use href="#bD" x="299.45" y="110.69" style="--f:#ba6969;--c:#6a6868;--h:#b6b9c4;--n:#6e6c79"/><use href="#bD" x="64.88" y="161.85" style="--f:#bd7478;--c:#6a6868;--h:#b6b9c4;--n:#6e6c79"/><use href="#bD" x="111.91" y="162.23" style="--f:#b64545;--c:#704343;--h:#b6b9c4;--n:#71525f"/><use href="#bD" x="158.94" y="162.61" style="--f:#b64545;--c:#704343;--h:#b6b9c4;--n:#71525f"/><use href="#bD" x="205.97" y="162.99" style="--f:#bd7478;--c:#6a6868;--h:#b6b9c4;--n:#6e6c79"/><use href="#bD" x="253.00" y="163.37" style="--f:#b38591;--c:#6a6868;--h:#b6b9c4;--n:#6e6c79"/><use href="#bD" x="300.03" y="163.75" style="--f:#b38591;--c:#6a6868;--h:#b6b9c4;--n:#6e6c79"/><use href="#bD" x="65.46" y="214.91" style="--f:#b64545;--c:#704343;--h:#b6b9c4;--n:#71525f"/><use href="#bD" x="112.49" y="215.29" style="--f:#bd7478;--c:#6a6868;--h:#b6b9c4;--n:#6e6c79"/><use href="#bD" x="159.52" y="215.67" style="--f:#a8a3b2;--c:#6a6868;--h:#b6b9c4;--n:#6e6c79"/><use href="#bD" x="206.55" y="216.05" style="--f:#bd7478;--c:#6a6868;--h:#b6b9c4;--n:#6e6c79"/><use href="#bD" x="253.58" y="216.43" style="--f:#b64545;--c:#704343;--h:#b6b9c4;--n:#71525f"/><use href="#bD" x="300.61" y="216.81" style="--f:#b65b5b;--c:#604b4b;--h:#b6b9c4;--n:#675764"/><use href="#bD" x="66.04" y="267.97" style="--f:#bd7478;--c:#6a6868;--h:#b6b9c4;--n:#6e6c79"/><use href="#bD" x="113.07" y="268.35" style="--f:#bd7478;--c:#6a6868;--h:#b6b9c4;--n:#6e6c79"/><use href="#bD" x="160.10" y="268.73" style="--f:#bd7478;--c:#6a6868;--h:#b6b9c4;--n:#6e6c79"/><use href="#bD" x="207.13" y="269.11" style="--f:#b38591;--c:#6a6868;--h:#b6b9c4;--n:#6e6c79"/><use href="#bD" x="254.16" y="269.49" style="--f:#b64545;--c:#704343;--h:#b6b9c4;--n:#71525f"/><use href="#bD" x="301.19" y="269.87" style="--f:#b65b5b;--c:#604b4b;--h:#b6b9c4;--n:#675764"/><use href="#bD" x="66.62" y="321.03" style="--f:#a8a3b2;--c:#6a6868;--h:#b6b9c4;--n:#6e6c79"/><use href="#bD" x="113.65" y="321.41" style="--f:#bd7478;--c:#6a6868;--h:#b6b9c4;--n:#6e6c79"/><use href="#bD" x="160.68" y="321.79" style="--f:#b64545;--c:#704343;--h:#b6b9c4;--n:#71525f"/><use href="#bD" x="207.71" y="322.17" style="--f:#bd7478;--c:#6a6868;--h:#b6b9c4;--n:#6e6c79"/><use href="#bD" x="254.74" y="322.55" style="--f:#b65b5b;--c:#604b4b;--h:#b6b9c4;--n:#675764"/><use href="#bD" x="301.77" y="322.93" style="--f:#b38591;--c:#6a6868;--h:#b6b9c4;--n:#6e6c79"/><use href="#bD" x="67.20" y="374.09" style="--f:#bd7478;--c:#6a6868;--h:#b6b9c4;--n:#6e6c79"/><use href="#bD" x="114.23" y="374.47" style="--f:#bd7478;--c:#6a6868;--h:#b6b9c4;--n:#6e6c79"/><use href="#bD" x="161.26" y="374.85" style="--f:#bd7478;--c:#6a6868;--h:#b6b9c4;--n:#6e6c79"/><use href="#bD" x="208.29" y="375.23" style="--f:#bd7478;--c:#6a6868;--h:#b6b9c4;--n:#6e6c79"/><use href="#bD" x="255.32" y="375.61" style="--f:#a8a3b2;--c:#6a6868;--h:#b6b9c4;--n:#6e6c79"/><use href="#bD" x="302.35" y="375.99" style="--f:#b64545;--c:#704343;--h:#b6b9c4;--n:#71525f"/><use href="#bD" x="67.78" y="427.15" style="--f:#bd7478;--c:#6a6868;--h:#b6b9c4;--n:#6e6c79"/><use href="#bD" x="114.81" y="427.53" style="--f:#b64545;--c:#704343;--h:#b6b9c4;--n:#71525f"/><use href="#bD" x="161.84" y="427.91" style="--f:#bd7478;--c:#6a6868;--h:#b6b9c4;--n:#6e6c79"/><use href="#bD" x="208.87" y="428.29" style="--f:#a8a3b2;--c:#6a6868;--h:#b6b9c4;--n:#6e6c79"/><use href="#bD" x="255.90" y="428.67" style="--f:#bd7478;--c:#6a6868;--h:#b6b9c4;--n:#6e6c79"/><use href="#bD" x="302.93" y="429.05" style="--f:#bd7478;--c:#6a6868;--h:#b6b9c4;--n:#6e6c79"/><use href="#bD" x="68.36" y="480.21" style="--f:#bd7478;--c:#6a6868;--h:#b6b9c4;--n:#6e6c79"/><use href="#bD" x="115.39" y="480.59" style="--f:#bd7478;--c:#6a6868;--h:#b6b9c4;--n:#6e6c79"/><use href="#bD" x="162.42" y="480.97" style="--f:#bd7478;--c:#6a6868;--h:#b6b9c4;--n:#6e6c79"/><use href="#bD" x="209.45" y="481.35" style="--f:#bd7478;--c:#6a6868;--h:#b6b9c4;--n:#6e6c79"/><use href="#bD" x="256.48" y="481.73" style="--f:#b64545;--c:#704343;--h:#b6b9c4;--n:#71525f"/><use href="#bD" x="303.51" y="482.11" style="--f:#bd7478;--c:#6a6868;--h:#b6b9c4;--n:#6e6c79"/><use href="#bD" x="65.10" y="107.83" style="--f:#bd7377;--c:#696767;--h:#b6b9c4;--n:#6d6b78"/><use href="#bD" x="112.13" y="108.20" style="--f:#b64444;--c:#6f4141;--h:#b6b9c4;--n:#70515d"/><use href="#bD" x="159.16" y="108.59" style="--f:#c18487;--c:#696767;--h:#b6b9c4;--n:#6d6b78"/><use href="#bD" x="206.19" y="108.97" style="--f:#c18487;--c:#696767;--h:#b6b9c4;--n:#6d6b78"/><use href="#bD" x="253.22" y="109.34" style="--f:#b65a5a;--c:#5f4949;--h:#b6b9c4;--n:#655663"/><use href="#bD" x="300.25" y="109.73" style="--f:#b96868;--c:#696767;--h:#b6b9c4;--n:#6d6b78"/><use href="#bD" x="65.68" y="160.88" style="--f:#bd7377;--c:#696767;--h:#b6b9c4;--n:#6d6b78"/><use href="#bD" x="112.71" y="161.26" style="--f:#b64444;--c:#6f4141;--h:#b6b9c4;--n:#70515d"/><use href="#bD" x="159.74" y="161.64" style="--f:#b64444;--c:#6f4141;--h:#b6b9c4;--n:#70515d"/><use href="#bD" x="206.77" y="162.02" style="--f:#bd7377;--c:#696767;--h:#b6b9c4;--n:#6d6b78"/><use href="#bD" x="253.80" y="162.40" style="--f:#b28491;--c:#696767;--h:#b6b9c4;--n:#6d6b78"/><use href="#bD" x="300.83" y="162.78" style="--f:#b28491;--c:#696767;--h:#b6b9c4;--n:#6d6b78"/><use href="#bD" x="66.26" y="213.94" style="--f:#b64444;--c:#6f4141;--h:#b6b9c4;--n:#70515d"/><use href="#bD" x="113.29" y="214.32" style="--f:#bd7377;--c:#696767;--h:#b6b9c4;--n:#6d6b78"/><use href="#bD" x="160.32" y="214.70" style="--f:#a7a3b1;--c:#696767;--h:#b6b9c4;--n:#6d6b78"/><use href="#bD" x="207.35" y="215.08" style="--f:#bd7377;--c:#696767;--h:#b6b9c4;--n:#6d6b78"/><use href="#bD" x="254.38" y="215.46" style="--f:#b64444;--c:#6f4141;--h:#b6b9c4;--n:#70515d"/><use href="#bD" x="301.41" y="215.84" style="--f:#b65a5a;--c:#5f4949;--h:#b6b9c4;--n:#655663"/><use href="#bD" x="66.84" y="267.00" style="--f:#bd7377;--c:#696767;--h:#b6b9c4;--n:#6d6b78"/><use href="#bD" x="113.87" y="267.38" style="--f:#bd7377;--c:#696767;--h:#b6b9c4;--n:#6d6b78"/><use href="#bD" x="160.90" y="267.76" style="--f:#bd7377;--c:#696767;--h:#b6b9c4;--n:#6d6b78"/><use href="#bD" x="207.93" y="268.14" style="--f:#b28491;--c:#696767;--h:#b6b9c4;--n:#6d6b78"/><use href="#bD" x="254.96" y="268.52" style="--f:#b64444;--c:#6f4141;--h:#b6b9c4;--n:#70515d"/><use href="#bD" x="301.99" y="268.91" style="--f:#b65a5a;--c:#5f4949;--h:#b6b9c4;--n:#655663"/><use href="#bD" x="67.42" y="320.06" style="--f:#a7a3b1;--c:#696767;--h:#b6b9c4;--n:#6d6b78"/><use href="#bD" x="114.45" y="320.44" style="--f:#bd7377;--c:#696767;--h:#b6b9c4;--n:#6d6b78"/><use href="#bD" x="161.48" y="320.82" style="--f:#b64444;--c:#6f4141;--h:#b6b9c4;--n:#70515d"/><use href="#bD" x="208.51" y="321.20" style="--f:#bd7377;--c:#696767;--h:#b6b9c4;--n:#6d6b78"/><use href="#bD" x="255.54" y="321.58" style="--f:#b65a5a;--c:#5f4949;--h:#b6b9c4;--n:#655663"/><use href="#bD" x="302.57" y="321.96" style="--f:#b28491;--c:#696767;--h:#b6b9c4;--n:#6d6b78"/><use href="#bD" x="68.00" y="373.12" style="--f:#bd7377;--c:#696767;--h:#b6b9c4;--n:#6d6b78"/><use href="#bD" x="115.03" y="373.50" style="--f:#bd7377;--c:#696767;--h:#b6b9c4;--n:#6d6b78"/><use href="#bD" x="162.06" y="373.88" style="--f:#bd7377;--c:#696767;--h:#b6b9c4;--n:#6d6b78"/><use href="#bD" x="209.09" y="374.26" style="--f:#bd7377;--c:#696767;--h:#b6b9c4;--n:#6d6b78"/><use href="#bD" x="256.12" y="374.64" style="--f:#a7a3b1;--c:#696767;--h:#b6b9c4;--n:#6d6b78"/><use href="#bD" x="303.15" y="375.03" style="--f:#b64444;--c:#6f4141;--h:#b6b9c4;--n:#70515d"/><use href="#bD" x="68.58" y="426.19" style="--f:#bd7377;--c:#696767;--h:#b6b9c4;--n:#6d6b78"/><use href="#bD" x="115.61" y="426.56" style="--f:#b64444;--c:#6f4141;--h:#b6b9c4;--n:#70515d"/><use href="#bD" x="162.64" y="426.94" style="--f:#bd7377;--c:#696767;--h:#b6b9c4;--n:#6d6b78"/><use href="#bD" x="209.67" y="427.32" style="--f:#a7a3b1;--c:#696767;--h:#b6b9c4;--n:#6d6b78"/><use href="#bD" x="256.70" y="427.70" style="--f:#bd7377;--c:#696767;--h:#b6b9c4;--n:#6d6b78"/><use href="#bD" x="303.73" y="428.08" style="--f:#bd7377;--c:#696767;--h:#b6b9c4;--n:#6d6b78"/><use href="#bD" x="69.16" y="479.25" style="--f:#bd7377;--c:#696767;--h:#b6b9c4;--n:#6d6b78"/><use href="#bD" x="116.19" y="479.62" style="--f:#bd7377;--c:#696767;--h:#b6b9c4;--n:#6d6b78"/><use href="#bD" x="163.22" y="480.00" style="--f:#bd7377;--c:#696767;--h:#b6b9c4;--n:#6d6b78"/><use href="#bD" x="210.25" y="480.38" style="--f:#bd7377;--c:#696767;--h:#b6b9c4;--n:#6d6b78"/><use href="#bD" x="257.28" y="480.76" style="--f:#b64444;--c:#6f4141;--h:#b6b9c4;--n:#70515d"/><use href="#bD" x="304.31" y="481.15" style="--f:#bd7377;--c:#696767;--h:#b6b9c4;--n:#6d6b78"/><use href="#bD" x="65.90" y="106.86" style="--f:#bd7276;--c:#686666;--h:#b5b8c3;--n:#6c6a77"/><use href="#bD" x="112.93" y="107.24" style="--f:#b54343;--c:#6e4040;--h:#b5b8c3;--n:#6f505c"/><use href="#bD" x="159.96" y="107.62" style="--f:#c08387;--c:#686666;--h:#b5b8c3;--n:#6c6a77"/><use href="#bD" x="206.99" y="108.00" style="--f:#c08387;--c:#686666;--h:#b5b8c3;--n:#6c6a77"/><use href="#bD" x="254.02" y="108.38" style="--f:#b55959;--c:#5e4848;--h:#b5b8c3;--n:#645562"/><use href="#bD" x="301.05" y="108.76" style="--f:#b96767;--c:#686666;--h:#b5b8c3;--n:#6c6a77"/><use href="#bD" x="66.48" y="159.92" style="--f:#bd7276;--c:#686666;--h:#b5b8c3;--n:#6c6a77"/><use href="#bD" x="113.51" y="160.30" style="--f:#b54343;--c:#6e4040;--h:#b5b8c3;--n:#6f505c"/><use href="#bD" x="160.54" y="160.68" style="--f:#b54343;--c:#6e4040;--h:#b5b8c3;--n:#6f505c"/><use href="#bD" x="207.57" y="161.06" style="--f:#bd7276;--c:#686666;--h:#b5b8c3;--n:#6c6a77"/><use href="#bD" x="254.60" y="161.44" style="--f:#b28390;--c:#686666;--h:#b5b8c3;--n:#6c6a77"/><use href="#bD" x="301.63" y="161.82" style="--f:#b28390;--c:#686666;--h:#b5b8c3;--n:#6c6a77"/><use href="#bD" x="67.06" y="212.98" style="--f:#b54343;--c:#6e4040;--h:#b5b8c3;--n:#6f505c"/><use href="#bD" x="114.09" y="213.36" style="--f:#bd7276;--c:#686666;--h:#b5b8c3;--n:#6c6a77"/><use href="#bD" x="161.12" y="213.74" style="--f:#a7a2b1;--c:#686666;--h:#b5b8c3;--n:#6c6a77"/><use href="#bD" x="208.15" y="214.12" style="--f:#bd7276;--c:#686666;--h:#b5b8c3;--n:#6c6a77"/><use href="#bD" x="255.18" y="214.50" style="--f:#b54343;--c:#6e4040;--h:#b5b8c3;--n:#6f505c"/><use href="#bD" x="302.21" y="214.88" style="--f:#b55959;--c:#5e4848;--h:#b5b8c3;--n:#645562"/><use href="#bD" x="67.64" y="266.04" style="--f:#bd7276;--c:#686666;--h:#b5b8c3;--n:#6c6a77"/><use href="#bD" x="114.67" y="266.42" style="--f:#bd7276;--c:#686666;--h:#b5b8c3;--n:#6c6a77"/><use href="#bD" x="161.70" y="266.80" style="--f:#bd7276;--c:#686666;--h:#b5b8c3;--n:#6c6a77"/><use href="#bD" x="208.73" y="267.18" style="--f:#b28390;--c:#686666;--h:#b5b8c3;--n:#6c6a77"/><use href="#bD" x="255.76" y="267.56" style="--f:#b54343;--c:#6e4040;--h:#b5b8c3;--n:#6f505c"/><use href="#bD" x="302.79" y="267.94" style="--f:#b55959;--c:#5e4848;--h:#b5b8c3;--n:#645562"/><use href="#bD" x="68.22" y="319.10" style="--f:#a7a2b1;--c:#686666;--h:#b5b8c3;--n:#6c6a77"/><use href="#bD" x="115.25" y="319.48" style="--f:#bd7276;--c:#686666;--h:#b5b8c3;--n:#6c6a77"/><use href="#bD" x="162.28" y="319.86" style="--f:#b54343;--c:#6e4040;--h:#b5b8c3;--n:#6f505c"/><use href="#bD" x="209.31" y="320.24" style="--f:#bd7276;--c:#686666;--h:#b5b8c3;--n:#6c6a77"/><use href="#bD" x="256.34" y="320.62" style="--f:#b55959;--c:#5e4848;--h:#b5b8c3;--n:#645562"/><use href="#bD" x="303.37" y="321.00" style="--f:#b28390;--c:#686666;--h:#b5b8c3;--n:#6c6a77"/><use href="#bD" x="68.80" y="372.16" style="--f:#bd7276;--c:#686666;--h:#b5b8c3;--n:#6c6a77"/><use href="#bD" x="115.83" y="372.54" style="--f:#bd7276;--c:#686666;--h:#b5b8c3;--n:#6c6a77"/><use href="#bD" x="162.86" y="372.92" style="--f:#bd7276;--c:#686666;--h:#b5b8c3;--n:#6c6a77"/><use href="#bD" x="209.89" y="373.30" style="--f:#bd7276;--c:#686666;--h:#b5b8c3;--n:#6c6a77"/><use href="#bD" x="256.92" y="373.68" style="--f:#a7a2b1;--c:#686666;--h:#b5b8c3;--n:#6c6a77"/><use href="#bD" x="303.95" y="374.06" style="--f:#b54343;--c:#6e4040;--h:#b5b8c3;--n:#6f505c"/><use href="#bD" x="69.38" y="425.22" style="--f:#bd7276;--c:#686666;--h:#b5b8c3;--n:#6c6a77"/><use href="#bD" x="116.41" y="425.60" style="--f:#b54343;--c:#6e4040;--h:#b5b8c3;--n:#6f505c"/><use href="#bD" x="163.44" y="425.98" style="--f:#bd7276;--c:#686666;--h:#b5b8c3;--n:#6c6a77"/><use href="#bD" x="210.47" y="426.36" style="--f:#a7a2b1;--c:#686666;--h:#b5b8c3;--n:#6c6a77"/><use href="#bD" x="257.50" y="426.74" style="--f:#bd7276;--c:#686666;--h:#b5b8c3;--n:#6c6a77"/><use href="#bD" x="304.53" y="427.12" style="--f:#bd7276;--c:#686666;--h:#b5b8c3;--n:#6c6a77"/><use href="#bD" x="69.96" y="478.28" style="--f:#bd7276;--c:#686666;--h:#b5b8c3;--n:#6c6a77"/><use href="#bD" x="116.99" y="478.66" style="--f:#bd7276;--c:#686666;--h:#b5b8c3;--n:#6c6a77"/><use href="#bD" x="164.02" y="479.04" style="--f:#bd7276;--c:#686666;--h:#b5b8c3;--n:#6c6a77"/><use href="#bD" x="211.05" y="479.42" style="--f:#bd7276;--c:#686666;--h:#b5b8c3;--n:#6c6a77"/><use href="#bD" x="258.08" y="479.80" style="--f:#b54343;--c:#6e4040;--h:#b5b8c3;--n:#6f505c"/><use href="#bD" x="305.11" y="480.18" style="--f:#bd7276;--c:#686666;--h:#b5b8c3;--n:#6c6a77"/><use href="#bD" x="66.70" y="105.90" style="--f:#bc7275;--c:#676565;--h:#b5b8c3;--n:#6b6976"/><use href="#bD" x="113.73" y="106.28" style="--f:#b54141;--c:#6d3f3f;--h:#b5b8c3;--n:#6e4e5b"/><use href="#bD" x="160.76" y="106.66" style="--f:#c08286;--c:#676565;--h:#b5b8c3;--n:#6b6976"/><use href="#bD" x="207.79" y="107.04" style="--f:#c08286;--c:#676565;--h:#b5b8c3;--n:#6b6976"/><use href="#bD" x="254.82" y="107.42" style="--f:#b55858;--c:#5d4747;--h:#b5b8c3;--n:#635461"/><use href="#bD" x="301.85" y="107.80" style="--f:#b86666;--c:#676565;--h:#b5b8c3;--n:#6b6976"/><use href="#bD" x="67.28" y="158.96" style="--f:#bc7275;--c:#676565;--h:#b5b8c3;--n:#6b6976"/><use href="#bD" x="114.31" y="159.34" style="--f:#b54141;--c:#6d3f3f;--h:#b5b8c3;--n:#6e4e5b"/><use href="#bD" x="161.34" y="159.72" style="--f:#b54141;--c:#6d3f3f;--h:#b5b8c3;--n:#6e4e5b"/><use href="#bD" x="208.37" y="160.10" style="--f:#bc7275;--c:#676565;--h:#b5b8c3;--n:#6b6976"/><use href="#bD" x="255.40" y="160.48" style="--f:#b1828f;--c:#676565;--h:#b5b8c3;--n:#6b6976"/><use href="#bD" x="302.43" y="160.86" style="--f:#b1828f;--c:#676565;--h:#b5b8c3;--n:#6b6976"/><use href="#bD" x="67.86" y="212.02" style="--f:#b54141;--c:#6d3f3f;--h:#b5b8c3;--n:#6e4e5b"/><use href="#bD" x="114.89" y="212.40" style="--f:#bc7275;--c:#676565;--h:#b5b8c3;--n:#6b6976"/><use href="#bD" x="161.92" y="212.78" style="--f:#a6a2b0;--c:#676565;--h:#b5b8c3;--n:#6b6976"/><use href="#bD" x="208.95" y="213.16" style="--f:#bc7275;--c:#676565;--h:#b5b8c3;--n:#6b6976"/><use href="#bD" x="255.98" y="213.54" style="--f:#b54141;--c:#6d3f3f;--h:#b5b8c3;--n:#6e4e5b"/><use href="#bD" x="303.01" y="213.92" style="--f:#b55858;--c:#5d4747;--h:#b5b8c3;--n:#635461"/><use href="#bD" x="68.44" y="265.08" style="--f:#bc7275;--c:#676565;--h:#b5b8c3;--n:#6b6976"/><use href="#bD" x="115.47" y="265.46" style="--f:#bc7275;--c:#676565;--h:#b5b8c3;--n:#6b6976"/><use href="#bD" x="162.50" y="265.84" style="--f:#bc7275;--c:#676565;--h:#b5b8c3;--n:#6b6976"/><use href="#bD" x="209.53" y="266.22" style="--f:#b1828f;--c:#676565;--h:#b5b8c3;--n:#6b6976"/><use href="#bD" x="256.56" y="266.60" style="--f:#b54141;--c:#6d3f3f;--h:#b5b8c3;--n:#6e4e5b"/><use href="#bD" x="303.59" y="266.98" style="--f:#b55858;--c:#5d4747;--h:#b5b8c3;--n:#635461"/><use href="#bD" x="69.02" y="318.14" style="--f:#a6a2b0;--c:#676565;--h:#b5b8c3;--n:#6b6976"/><use href="#bD" x="116.05" y="318.52" style="--f:#bc7275;--c:#676565;--h:#b5b8c3;--n:#6b6976"/><use href="#bD" x="163.08" y="318.90" style="--f:#b54141;--c:#6d3f3f;--h:#b5b8c3;--n:#6e4e5b"/><use href="#bD" x="210.11" y="319.28" style="--f:#bc7275;--c:#676565;--h:#b5b8c3;--n:#6b6976"/><use href="#bD" x="257.14" y="319.66" style="--f:#b55858;--c:#5d4747;--h:#b5b8c3;--n:#635461"/><use href="#bD" x="304.17" y="320.04" style="--f:#b1828f;--c:#676565;--h:#b5b8c3;--n:#6b6976"/><use href="#bD" x="69.60" y="371.20" style="--f:#bc7275;--c:#676565;--h:#b5b8c3;--n:#6b6976"/><use href="#bD" x="116.63" y="371.58" style="--f:#bc7275;--c:#676565;--h:#b5b8c3;--n:#6b6976"/><use href="#bD" x="163.66" y="371.96" style="--f:#bc7275;--c:#676565;--h:#b5b8c3;--n:#6b6976"/><use href="#bD" x="210.69" y="372.34" style="--f:#bc7275;--c:#676565;--h:#b5b8c3;--n:#6b6976"/><use href="#bD" x="257.72" y="372.72" style="--f:#a6a2b0;--c:#676565;--h:#b5b8c3;--n:#6b6976"/><use href="#bD" x="304.75" y="373.10" style="--f:#b54141;--c:#6d3f3f;--h:#b5b8c3;--n:#6e4e5b"/><use href="#bD" x="70.18" y="424.26" style="--f:#bc7275;--c:#676565;--h:#b5b8c3;--n:#6b6976"/><use href="#bD" x="117.21" y="424.64" style="--f:#b54141;--c:#6d3f3f;--h:#b5b8c3;--n:#6e4e5b"/><use href="#bD" x="164.24" y="425.02" style="--f:#bc7275;--c:#676565;--h:#b5b8c3;--n:#6b6976"/><use href="#bD" x="211.27" y="425.40" style="--f:#a6a2b0;--c:#676565;--h:#b5b8c3;--n:#6b6976"/><use href="#bD" x="258.30" y="425.78" style="--f:#bc7275;--c:#676565;--h:#b5b8c3;--n:#6b6976"/><use href="#bD" x="305.33" y="426.16" style="--f:#bc7275;--c:#676565;--h:#b5b8c3;--n:#6b6976"/><use href="#bD" x="70.76" y="477.32" style="--f:#bc7275;--c:#676565;--h:#b5b8c3;--n:#6b6976"/><use href="#bD" x="117.79" y="477.70" style="--f:#bc7275;--c:#676565;--h:#b5b8c3;--n:#6b6976"/><use href="#bD" x="164.82" y="478.08" style="--f:#bc7275;--c:#676565;--h:#b5b8c3;--n:#6b6976"/><use href="#bD" x="211.85" y="478.46" style="--f:#bc7275;--c:#676565;--h:#b5b8c3;--n:#6b6976"/><use href="#bD" x="258.88" y="478.84" style="--f:#b54141;--c:#6d3f3f;--h:#b5b8c3;--n:#6e4e5b"/><use href="#bD" x="305.91" y="479.22" style="--f:#bc7275;--c:#676565;--h:#b5b8c3;--n:#6b6976"/><use href="#bD" x="67.50" y="104.94" style="--f:#bc7174;--c:#666464;--h:#dee4ee;--n:#6a6875"/><use href="#bD" x="114.53" y="105.32" style="--f:#b44040;--c:#6c3d3d;--h:#dee4ee;--n:#6d4d5a"/><use href="#bD" x="161.56" y="105.70" style="--f:#c08185;--c:#666464;--h:#dee4ee;--n:#6a6875"/><use href="#bD" x="208.59" y="106.08" style="--f:#c08185;--c:#666464;--h:#dee4ee;--n:#6a6875"/><use href="#bD" x="255.62" y="106.46" style="--f:#b45757;--c:#5c4646;--h:#dee4ee;--n:#625360"/><use href="#bD" x="302.65" y="106.84" style="--f:#b86565;--c:#666464;--h:#dee4ee;--n:#6a6875"/><use href="#bD" x="68.08" y="158.00" style="--f:#bc7174;--c:#666464;--h:#dee4ee;--n:#6a6875"/><use href="#bD" x="115.11" y="158.38" style="--f:#b44040;--c:#6c3d3d;--h:#dee4ee;--n:#6d4d5a"/><use href="#bD" x="162.14" y="158.76" style="--f:#b44040;--c:#6c3d3d;--h:#dee4ee;--n:#6d4d5a"/><use href="#bD" x="209.17" y="159.14" style="--f:#bc7174;--c:#666464;--h:#dee4ee;--n:#6a6875"/><use href="#bD" x="256.20" y="159.52" style="--f:#b1818e;--c:#666464;--h:#dee4ee;--n:#6a6875"/><use href="#bD" x="303.23" y="159.90" style="--f:#b1818e;--c:#666464;--h:#dee4ee;--n:#6a6875"/><use href="#bD" x="68.66" y="211.06" style="--f:#b44040;--c:#6c3d3d;--h:#dee4ee;--n:#6d4d5a"/><use href="#bD" x="115.69" y="211.44" style="--f:#bc7174;--c:#666464;--h:#dee4ee;--n:#6a6875"/><use href="#bD" x="162.72" y="211.82" style="--f:#a5a1b0;--c:#666464;--h:#dee4ee;--n:#6a6875"/><use href="#bD" x="209.75" y="212.20" style="--f:#bc7174;--c:#666464;--h:#dee4ee;--n:#6a6875"/><use href="#bD" x="256.78" y="212.58" style="--f:#b44040;--c:#6c3d3d;--h:#dee4ee;--n:#6d4d5a"/><use href="#bD" x="303.81" y="212.96" style="--f:#b45757;--c:#5c4646;--h:#dee4ee;--n:#625360"/><use href="#bD" x="69.24" y="264.12" style="--f:#bc7174;--c:#666464;--h:#dee4ee;--n:#6a6875"/><use href="#bD" x="116.27" y="264.50" style="--f:#bc7174;--c:#666464;--h:#dee4ee;--n:#6a6875"/><use href="#bD" x="163.30" y="264.88" style="--f:#bc7174;--c:#666464;--h:#dee4ee;--n:#6a6875"/><use href="#bD" x="210.33" y="265.26" style="--f:#b1818e;--c:#666464;--h:#dee4ee;--n:#6a6875"/><use href="#bD" x="257.36" y="265.64" style="--f:#b44040;--c:#6c3d3d;--h:#dee4ee;--n:#6d4d5a"/><use href="#bD" x="304.39" y="266.02" style="--f:#b45757;--c:#5c4646;--h:#dee4ee;--n:#625360"/><use href="#bD" x="69.82" y="317.18" style="--f:#a5a1b0;--c:#666464;--h:#dee4ee;--n:#6a6875"/><use href="#bD" x="116.85" y="317.56" style="--f:#bc7174;--c:#666464;--h:#dee4ee;--n:#6a6875"/><use href="#bD" x="163.88" y="317.94" style="--f:#b44040;--c:#6c3d3d;--h:#dee4ee;--n:#6d4d5a"/><use href="#bD" x="210.91" y="318.32" style="--f:#bc7174;--c:#666464;--h:#dee4ee;--n:#6a6875"/><use href="#bD" x="257.94" y="318.70" style="--f:#b45757;--c:#5c4646;--h:#dee4ee;--n:#625360"/><use href="#bD" x="304.97" y="319.08" style="--f:#b1818e;--c:#666464;--h:#dee4ee;--n:#6a6875"/><use href="#bD" x="70.40" y="370.24" style="--f:#bc7174;--c:#666464;--h:#dee4ee;--n:#6a6875"/><use href="#bD" x="117.43" y="370.62" style="--f:#bc7174;--c:#666464;--h:#dee4ee;--n:#6a6875"/><use href="#bD" x="164.46" y="371.00" style="--f:#bc7174;--c:#666464;--h:#dee4ee;--n:#6a6875"/><use href="#bD" x="211.49" y="371.38" style="--f:#bc7174;--c:#666464;--h:#dee4ee;--n:#6a6875"/><use href="#bD" x="258.52" y="371.76" style="--f:#a5a1b0;--c:#666464;--h:#dee4ee;--n:#6a6875"/><use href="#bD" x="305.55" y="372.14" style="--f:#b44040;--c:#6c3d3d;--h:#dee4ee;--n:#6d4d5a"/><use href="#bD" x="70.98" y="423.30" style="--f:#bc7174;--c:#666464;--h:#dee4ee;--n:#6a6875"/><use href="#bD" x="118.01" y="423.68" style="--f:#b44040;--c:#6c3d3d;--h:#dee4ee;--n:#6d4d5a"/><use href="#bD" x="165.04" y="424.06" style="--f:#bc7174;--c:#666464;--h:#dee4ee;--n:#6a6875"/><use href="#bD" x="212.07" y="424.44" style="--f:#a5a1b0;--c:#666464;--h:#dee4ee;--n:#6a6875"/><use href="#bD" x="259.10" y="424.82" style="--f:#bc7174;--c:#666464;--h:#dee4ee;--n:#6a6875"/><use href="#bD" x="306.13" y="425.20" style="--f:#bc7174;--c:#666464;--h:#dee4ee;--n:#6a6875"/><use href="#bD" x="71.56" y="476.36" style="--f:#bc7174;--c:#666464;--h:#dee4ee;--n:#6a6875"/><use href="#bD" x="118.59" y="476.74" style="--f:#bc7174;--c:#666464;--h:#dee4ee;--n:#6a6875"/><use href="#bD" x="165.62" y="477.12" style="--f:#bc7174;--c:#666464;--h:#dee4ee;--n:#6a6875"/><use href="#bD" x="212.65" y="477.50" style="--f:#bc7174;--c:#666464;--h:#dee4ee;--n:#6a6875"/><use href="#bD" x="259.68" y="477.88" style="--f:#b44040;--c:#6c3d3d;--h:#dee4ee;--n:#6d4d5a"/><use href="#bD" x="306.71" y="478.26" style="--f:#bc7174;--c:#666464;--h:#dee4ee;--n:#6a6875"/><use href="#bD" x="68.30" y="103.97" style="--f:#bb7074;--c:#656363;--h:#b4b7c2;--n:#696774"/><use href="#bD" x="115.33" y="104.35" style="--f:#b43f3f;--c:#6b3c3c;--h:#b4b7c2;--n:#6d4c59"/><use href="#bD" x="162.36" y="104.73" style="--f:#bf8184;--c:#656363;--h:#b4b7c2;--n:#696774"/><use href="#bD" x="209.39" y="105.11" style="--f:#bf8184;--c:#656363;--h:#b4b7c2;--n:#696774"/><use href="#bD" x="256.42" y="105.49" style="--f:#b45656;--c:#5b4545;--h:#b4b7c2;--n:#61525f"/><use href="#bD" x="303.45" y="105.88" style="--f:#b86565;--c:#656363;--h:#b4b7c2;--n:#696774"/><use href="#bD" x="68.88" y="157.03" style="--f:#bb7074;--c:#656363;--h:#b4b7c2;--n:#696774"/><use href="#bD" x="115.91" y="157.41" style="--f:#b43f3f;--c:#6b3c3c;--h:#b4b7c2;--n:#6d4c59"/><use href="#bD" x="162.94" y="157.79" style="--f:#b43f3f;--c:#6b3c3c;--h:#b4b7c2;--n:#6d4c59"/><use href="#bD" x="209.97" y="158.17" style="--f:#bb7074;--c:#656363;--h:#b4b7c2;--n:#696774"/><use href="#bD" x="257.00" y="158.55" style="--f:#b0818e;--c:#656363;--h:#b4b7c2;--n:#696774"/><use href="#bD" x="304.03" y="158.94" style="--f:#b0818e;--c:#656363;--h:#b4b7c2;--n:#696774"/><use href="#bD" x="69.46" y="210.09" style="--f:#b43f3f;--c:#6b3c3c;--h:#b4b7c2;--n:#6d4c59"/><use href="#bD" x="116.49" y="210.47" style="--f:#bb7074;--c:#656363;--h:#b4b7c2;--n:#696774"/><use href="#bD" x="163.52" y="210.85" style="--f:#a5a1b0;--c:#656363;--h:#b4b7c2;--n:#696774"/><use href="#bD" x="210.55" y="211.23" style="--f:#bb7074;--c:#656363;--h:#b4b7c2;--n:#696774"/><use href="#bD" x="257.58" y="211.61" style="--f:#b43f3f;--c:#6b3c3c;--h:#b4b7c2;--n:#6d4c59"/><use href="#bD" x="304.61" y="212.00" style="--f:#b45656;--c:#5b4545;--h:#b4b7c2;--n:#61525f"/><use href="#bD" x="70.04" y="263.16" style="--f:#bb7074;--c:#656363;--h:#b4b7c2;--n:#696774"/><use href="#bD" x="117.07" y="263.54" style="--f:#bb7074;--c:#656363;--h:#b4b7c2;--n:#696774"/><use href="#bD" x="164.10" y="263.92" style="--f:#bb7074;--c:#656363;--h:#b4b7c2;--n:#696774"/><use href="#bD" x="211.13" y="264.30" style="--f:#b0818e;--c:#656363;--h:#b4b7c2;--n:#696774"/><use href="#bD" x="258.16" y="264.68" style="--f:#b43f3f;--c:#6b3c3c;--h:#b4b7c2;--n:#6d4c59"/><use href="#bD" x="305.19" y="265.06" style="--f:#b45656;--c:#5b4545;--h:#b4b7c2;--n:#61525f"/><use href="#bD" x="70.62" y="316.22" style="--f:#a5a1b0;--c:#656363;--h:#b4b7c2;--n:#696774"/><use href="#bD" x="117.65" y="316.60" style="--f:#bb7074;--c:#656363;--h:#b4b7c2;--n:#696774"/><use href="#bD" x="164.68" y="316.98" style="--f:#b43f3f;--c:#6b3c3c;--h:#b4b7c2;--n:#6d4c59"/><use href="#bD" x="211.71" y="317.36" style="--f:#bb7074;--c:#656363;--h:#b4b7c2;--n:#696774"/><use href="#bD" x="258.74" y="317.74" style="--f:#b45656;--c:#5b4545;--h:#b4b7c2;--n:#61525f"/><use href="#bD" x="305.77" y="318.12" style="--f:#b0818e;--c:#656363;--h:#b4b7c2;--n:#696774"/><use href="#bD" x="71.20" y="369.28" style="--f:#bb7074;--c:#656363;--h:#b4b7c2;--n:#696774"/><use href="#bD" x="118.23" y="369.66" style="--f:#bb7074;--c:#656363;--h:#b4b7c2;--n:#696774"/><use href="#bD" x="165.26" y="370.04" style="--f:#bb7074;--c:#656363;--h:#b4b7c2;--n:#696774"/><use href="#bD" x="212.29" y="370.42" style="--f:#bb7074;--c:#656363;--h:#b4b7c2;--n:#696774"/><use href="#bD" x="259.32" y="370.80" style="--f:#a5a1b0;--c:#656363;--h:#b4b7c2;--n:#696774"/><use href="#bD" x="306.35" y="371.18" style="--f:#b43f3f;--c:#6b3c3c;--h:#b4b7c2;--n:#6d4c59"/><use href="#bD" x="71.78" y="422.34" style="--f:#bb7074;--c:#656363;--h:#b4b7c2;--n:#696774"/><use href="#bD" x="118.81" y="422.72" style="--f:#b43f3f;--c:#6b3c3c;--h:#b4b7c2;--n:#6d4c59"/><use href="#bD" x="165.84" y="423.10" style="--f:#bb7074;--c:#656363;--h:#b4b7c2;--n:#696774"/><use href="#bD" x="212.87" y="423.48" style="--f:#a5a1b0;--c:#656363;--h:#b4b7c2;--n:#696774"/><use href="#bD" x="259.90" y="423.86" style="--f:#bb7074;--c:#656363;--h:#b4b7c2;--n:#696774"/><use href="#bD" x="306.93" y="424.24" style="--f:#bb7074;--c:#656363;--h:#b4b7c2;--n:#696774"/><use href="#bD" x="72.36" y="475.40" style="--f:#bb7074;--c:#656363;--h:#b4b7c2;--n:#696774"/><use href="#bD" x="119.39" y="475.78" style="--f:#bb7074;--c:#656363;--h:#b4b7c2;--n:#696774"/><use href="#bD" x="166.42" y="476.16" style="--f:#bb7074;--c:#656363;--h:#b4b7c2;--n:#696774"/><use href="#bD" x="213.45" y="476.54" style="--f:#bb7074;--c:#656363;--h:#b4b7c2;--n:#696774"/><use href="#bD" x="260.48" y="476.92" style="--f:#b43f3f;--c:#6b3c3c;--h:#b4b7c2;--n:#6d4c59"/><use href="#bD" x="307.51" y="477.30" style="--f:#bb7074;--c:#656363;--h:#b4b7c2;--n:#696774"/><use href="#bD" x="69.10" y="103.01" style="--f:#bb6f73;--c:#646262;--h:#b3b7c2;--n:#686674"/><use href="#bD" x="116.13" y="103.39" style="--f:#b33e3e;--c:#6a3b3b;--h:#b3b7c2;--n:#6c4b58"/><use href="#bD" x="163.16" y="103.77" style="--f:#bf8084;--c:#646262;--h:#b3b7c2;--n:#686674"/><use href="#bD" x="210.19" y="104.15" style="--f:#bf8084;--c:#646262;--h:#b3b7c2;--n:#686674"/><use href="#bD" x="257.22" y="104.53" style="--f:#b35555;--c:#5a4343;--h:#b3b7c2;--n:#60515e"/><use href="#bD" x="304.25" y="104.91" style="--f:#b76464;--c:#646262;--h:#b3b7c2;--n:#686674"/><use href="#bD" x="69.68" y="156.07" style="--f:#bb6f73;--c:#646262;--h:#b3b7c2;--n:#686674"/><use href="#bD" x="116.71" y="156.45" style="--f:#b33e3e;--c:#6a3b3b;--h:#b3b7c2;--n:#6c4b58"/><use href="#bD" x="163.74" y="156.83" style="--f:#b33e3e;--c:#6a3b3b;--h:#b3b7c2;--n:#6c4b58"/><use href="#bD" x="210.77" y="157.21" style="--f:#bb6f73;--c:#646262;--h:#b3b7c2;--n:#686674"/><use href="#bD" x="257.80" y="157.59" style="--f:#b0808d;--c:#646262;--h:#b3b7c2;--n:#686674"/><use href="#bD" x="304.83" y="157.97" style="--f:#b0808d;--c:#646262;--h:#b3b7c2;--n:#686674"/><use href="#bD" x="70.26" y="209.13" style="--f:#b33e3e;--c:#6a3b3b;--h:#b3b7c2;--n:#6c4b58"/><use href="#bD" x="117.29" y="209.51" style="--f:#bb6f73;--c:#646262;--h:#b3b7c2;--n:#686674"/><use href="#bD" x="164.32" y="209.89" style="--f:#a4a0af;--c:#646262;--h:#b3b7c2;--n:#686674"/><use href="#bD" x="211.35" y="210.27" style="--f:#bb6f73;--c:#646262;--h:#b3b7c2;--n:#686674"/><use href="#bD" x="258.38" y="210.65" style="--f:#b33e3e;--c:#6a3b3b;--h:#b3b7c2;--n:#6c4b58"/><use href="#bD" x="305.41" y="211.03" style="--f:#b35555;--c:#5a4343;--h:#b3b7c2;--n:#60515e"/><use href="#bD" x="70.84" y="262.19" style="--f:#bb6f73;--c:#646262;--h:#b3b7c2;--n:#686674"/><use href="#bD" x="117.87" y="262.57" style="--f:#bb6f73;--c:#646262;--h:#b3b7c2;--n:#686674"/><use href="#bD" x="164.90" y="262.95" style="--f:#bb6f73;--c:#646262;--h:#b3b7c2;--n:#686674"/><use href="#bD" x="211.93" y="263.33" style="--f:#b0808d;--c:#646262;--h:#b3b7c2;--n:#686674"/><use href="#bD" x="258.96" y="263.71" style="--f:#b33e3e;--c:#6a3b3b;--h:#b3b7c2;--n:#6c4b58"/><use href="#bD" x="305.99" y="264.09" style="--f:#b35555;--c:#5a4343;--h:#b3b7c2;--n:#60515e"/><use href="#bD" x="71.42" y="315.25" style="--f:#a4a0af;--c:#646262;--h:#b3b7c2;--n:#686674"/><use href="#bD" x="118.45" y="315.63" style="--f:#bb6f73;--c:#646262;--h:#b3b7c2;--n:#686674"/><use href="#bD" x="165.48" y="316.01" style="--f:#b33e3e;--c:#6a3b3b;--h:#b3b7c2;--n:#6c4b58"/><use href="#bD" x="212.51" y="316.39" style="--f:#bb6f73;--c:#646262;--h:#b3b7c2;--n:#686674"/><use href="#bD" x="259.54" y="316.77" style="--f:#b35555;--c:#5a4343;--h:#b3b7c2;--n:#60515e"/><use href="#bD" x="306.57" y="317.15" style="--f:#b0808d;--c:#646262;--h:#b3b7c2;--n:#686674"/><use href="#bD" x="72.00" y="368.31" style="--f:#bb6f73;--c:#646262;--h:#b3b7c2;--n:#686674"/><use href="#bD" x="119.03" y="368.69" style="--f:#bb6f73;--c:#646262;--h:#b3b7c2;--n:#686674"/><use href="#bD" x="166.06" y="369.07" style="--f:#bb6f73;--c:#646262;--h:#b3b7c2;--n:#686674"/><use href="#bD" x="213.09" y="369.45" style="--f:#bb6f73;--c:#646262;--h:#b3b7c2;--n:#686674"/><use href="#bD" x="260.12" y="369.83" style="--f:#a4a0af;--c:#646262;--h:#b3b7c2;--n:#686674"/><use href="#bD" x="307.15" y="370.21" style="--f:#b33e3e;--c:#6a3b3b;--h:#b3b7c2;--n:#6c4b58"/><use href="#bD" x="72.58" y="421.37" style="--f:#bb6f73;--c:#646262;--h:#b3b7c2;--n:#686674"/><use href="#bD" x="119.61" y="421.75" style="--f:#b33e3e;--c:#6a3b3b;--h:#b3b7c2;--n:#6c4b58"/><use href="#bD" x="166.64" y="422.13" style="--f:#bb6f73;--c:#646262;--h:#b3b7c2;--n:#686674"/><use href="#bD" x="213.67" y="422.51" style="--f:#a4a0af;--c:#646262;--h:#b3b7c2;--n:#686674"/><use href="#bD" x="260.70" y="422.89" style="--f:#bb6f73;--c:#646262;--h:#b3b7c2;--n:#686674"/><use href="#bD" x="307.73" y="423.27" style="--f:#bb6f73;--c:#646262;--h:#b3b7c2;--n:#686674"/><use href="#bD" x="73.16" y="474.43" style="--f:#bb6f73;--c:#646262;--h:#b3b7c2;--n:#686674"/><use href="#bD" x="120.19" y="474.81" style="--f:#bb6f73;--c:#646262;--h:#b3b7c2;--n:#686674"/><use href="#bD" x="167.22" y="475.19" style="--f:#bb6f73;--c:#646262;--h:#b3b7c2;--n:#686674"/><use href="#bD" x="214.25" y="475.57" style="--f:#bb6f73;--c:#646262;--h:#b3b7c2;--n:#686674"/><use href="#bD" x="261.28" y="475.95" style="--f:#b33e3e;--c:#6a3b3b;--h:#b3b7c2;--n:#6c4b58"/><use href="#bD" x="308.31" y="476.33" style="--f:#bb6f73;--c:#646262;--h:#b3b7c2;--n:#686674"/><use href="#bD" x="69.90" y="102.05" style="--f:#bb6e72;--c:#636161;--h:#b3b7c2;--n:#676673"/><use href="#bD" x="116.93" y="102.43" style="--f:#b33d3d;--c:#693a3a;--h:#b3b7c2;--n:#6b4a57"/><use href="#bD" x="163.96" y="102.81" style="--f:#bf7f83;--c:#636161;--h:#b3b7c2;--n:#676673"/><use href="#bD" x="210.99" y="103.19" style="--f:#bf7f83;--c:#636161;--h:#b3b7c2;--n:#676673"/><use href="#bD" x="258.02" y="103.57" style="--f:#b35454;--c:#594242;--h:#b3b7c2;--n:#5f505d"/><use href="#bD" x="305.05" y="103.95" style="--f:#b76363;--c:#636161;--h:#b3b7c2;--n:#676673"/><use href="#bD" x="70.48" y="155.11" style="--f:#bb6e72;--c:#636161;--h:#b3b7c2;--n:#676673"/><use href="#bD" x="117.51" y="155.49" style="--f:#b33d3d;--c:#693a3a;--h:#b3b7c2;--n:#6b4a57"/><use href="#bD" x="164.54" y="155.87" style="--f:#b33d3d;--c:#693a3a;--h:#b3b7c2;--n:#6b4a57"/><use href="#bD" x="211.57" y="156.25" style="--f:#bb6e72;--c:#636161;--h:#b3b7c2;--n:#676673"/><use href="#bD" x="258.60" y="156.63" style="--f:#af7f8d;--c:#636161;--h:#b3b7c2;--n:#676673"/><use href="#bD" x="305.63" y="157.01" style="--f:#af7f8d;--c:#636161;--h:#b3b7c2;--n:#676673"/><use href="#bD" x="71.06" y="208.17" style="--f:#b33d3d;--c:#693a3a;--h:#b3b7c2;--n:#6b4a57"/><use href="#bD" x="118.09" y="208.55" style="--f:#bb6e72;--c:#636161;--h:#b3b7c2;--n:#676673"/><use href="#bD" x="165.12" y="208.93" style="--f:#a4a0af;--c:#636161;--h:#b3b7c2;--n:#676673"/><use href="#bD" x="212.15" y="209.31" style="--f:#bb6e72;--c:#636161;--h:#b3b7c2;--n:#676673"/><use href="#bD" x="259.18" y="209.69" style="--f:#b33d3d;--c:#693a3a;--h:#b3b7c2;--n:#6b4a57"/><use href="#bD" x="306.21" y="210.07" style="--f:#b35454;--c:#594242;--h:#b3b7c2;--n:#5f505d"/><use href="#bD" x="71.64" y="261.23" style="--f:#bb6e72;--c:#636161;--h:#b3b7c2;--n:#676673"/><use href="#bD" x="118.67" y="261.61" style="--f:#bb6e72;--c:#636161;--h:#b3b7c2;--n:#676673"/><use href="#bD" x="165.70" y="261.99" style="--f:#bb6e72;--c:#636161;--h:#b3b7c2;--n:#676673"/><use href="#bD" x="212.73" y="262.37" style="--f:#af7f8d;--c:#636161;--h:#b3b7c2;--n:#676673"/><use href="#bD" x="259.76" y="262.75" style="--f:#b33d3d;--c:#693a3a;--h:#b3b7c2;--n:#6b4a57"/><use href="#bD" x="306.79" y="263.13" style="--f:#b35454;--c:#594242;--h:#b3b7c2;--n:#5f505d"/><use href="#bD" x="72.22" y="314.29" style="--f:#a4a0af;--c:#636161;--h:#b3b7c2;--n:#676673"/><use href="#bD" x="119.25" y="314.67" style="--f:#bb6e72;--c:#636161;--h:#b3b7c2;--n:#676673"/><use href="#bD" x="166.28" y="315.05" style="--f:#b33d3d;--c:#693a3a;--h:#b3b7c2;--n:#6b4a57"/><use href="#bD" x="213.31" y="315.43" style="--f:#bb6e72;--c:#636161;--h:#b3b7c2;--n:#676673"/><use href="#bD" x="260.34" y="315.81" style="--f:#b35454;--c:#594242;--h:#b3b7c2;--n:#5f505d"/><use href="#bD" x="307.37" y="316.19" style="--f:#af7f8d;--c:#636161;--h:#b3b7c2;--n:#676673"/><use href="#bD" x="72.80" y="367.35" style="--f:#bb6e72;--c:#636161;--h:#b3b7c2;--n:#676673"/><use href="#bD" x="119.83" y="367.73" style="--f:#bb6e72;--c:#636161;--h:#b3b7c2;--n:#676673"/><use href="#bD" x="166.86" y="368.11" style="--f:#bb6e72;--c:#636161;--h:#b3b7c2;--n:#676673"/><use href="#bD" x="213.89" y="368.49" style="--f:#bb6e72;--c:#636161;--h:#b3b7c2;--n:#676673"/><use href="#bD" x="260.92" y="368.87" style="--f:#a4a0af;--c:#636161;--h:#b3b7c2;--n:#676673"/><use href="#bD" x="307.95" y="369.25" style="--f:#b33d3d;--c:#693a3a;--h:#b3b7c2;--n:#6b4a57"/><use href="#bD" x="73.38" y="420.41" style="--f:#bb6e72;--c:#636161;--h:#b3b7c2;--n:#676673"/><use href="#bD" x="120.41" y="420.79" style="--f:#b33d3d;--c:#693a3a;--h:#b3b7c2;--n:#6b4a57"/><use href="#bD" x="167.44" y="421.17" style="--f:#bb6e72;--c:#636161;--h:#b3b7c2;--n:#676673"/><use href="#bD" x="214.47" y="421.55" style="--f:#a4a0af;--c:#636161;--h:#b3b7c2;--n:#676673"/><use href="#bD" x="261.50" y="421.93" style="--f:#bb6e72;--c:#636161;--h:#b3b7c2;--n:#676673"/><use href="#bD" x="308.53" y="422.31" style="--f:#bb6e72;--c:#636161;--h:#b3b7c2;--n:#676673"/><use href="#bD" x="73.96" y="473.47" style="--f:#bb6e72;--c:#636161;--h:#b3b7c2;--n:#676673"/><use href="#bD" x="120.99" y="473.85" style="--f:#bb6e72;--c:#636161;--h:#b3b7c2;--n:#676673"/><use href="#bD" x="168.02" y="474.23" style="--f:#bb6e72;--c:#636161;--h:#b3b7c2;--n:#676673"/><use href="#bD" x="215.05" y="474.61" style="--f:#bb6e72;--c:#636161;--h:#b3b7c2;--n:#676673"/><use href="#bD" x="262.08" y="474.99" style="--f:#b33d3d;--c:#693a3a;--h:#b3b7c2;--n:#6b4a57"/><use href="#bD" x="309.11" y="475.37" style="--f:#bb6e72;--c:#636161;--h:#b3b7c2;--n:#676673"/><use href="#bD" x="70.70" y="101.09" style="--f:#ba6d71;--c:#626060;--h:#b3b6c2;--n:#666572"/><use href="#bD" x="117.73" y="101.47" style="--f:#b33c3c;--c:#683939;--h:#b3b6c2;--n:#6a4956"/><use href="#bD" x="164.76" y="101.85" style="--f:#be7f82;--c:#626060;--h:#b3b6c2;--n:#666572"/><use href="#bD" x="211.79" y="102.23" style="--f:#be7f82;--c:#626060;--h:#b3b6c2;--n:#666572"/><use href="#bD" x="258.82" y="102.61" style="--f:#b35353;--c:#584141;--h:#b3b6c2;--n:#5e4f5c"/><use href="#bD" x="305.85" y="102.99" style="--f:#b76262;--c:#626060;--h:#b3b6c2;--n:#666572"/><use href="#bD" x="71.28" y="154.15" style="--f:#ba6d71;--c:#626060;--h:#b3b6c2;--n:#666572"/><use href="#bD" x="118.31" y="154.53" style="--f:#b33c3c;--c:#683939;--h:#b3b6c2;--n:#6a4956"/><use href="#bD" x="165.34" y="154.91" style="--f:#b33c3c;--c:#683939;--h:#b3b6c2;--n:#6a4956"/><use href="#bD" x="212.37" y="155.29" style="--f:#ba6d71;--c:#626060;--h:#b3b6c2;--n:#666572"/><use href="#bD" x="259.40" y="155.67" style="--f:#af7f8c;--c:#626060;--h:#b3b6c2;--n:#666572"/><use href="#bD" x="306.43" y="156.05" style="--f:#af7f8c;--c:#626060;--h:#b3b6c2;--n:#666572"/><use href="#bD" x="71.86" y="207.21" style="--f:#b33c3c;--c:#683939;--h:#b3b6c2;--n:#6a4956"/><use href="#bD" x="118.89" y="207.59" style="--f:#ba6d71;--c:#626060;--h:#b3b6c2;--n:#666572"/><use href="#bD" x="165.92" y="207.97" style="--f:#a39faf;--c:#626060;--h:#b3b6c2;--n:#666572"/><use href="#bD" x="212.95" y="208.35" style="--f:#ba6d71;--c:#626060;--h:#b3b6c2;--n:#666572"/><use href="#bD" x="259.98" y="208.73" style="--f:#b33c3c;--c:#683939;--h:#b3b6c2;--n:#6a4956"/><use href="#bD" x="307.01" y="209.11" style="--f:#b35353;--c:#584141;--h:#b3b6c2;--n:#5e4f5c"/><use href="#bD" x="72.44" y="260.27" style="--f:#ba6d71;--c:#626060;--h:#b3b6c2;--n:#666572"/><use href="#bD" x="119.47" y="260.65" style="--f:#ba6d71;--c:#626060;--h:#b3b6c2;--n:#666572"/><use href="#bD" x="166.50" y="261.03" style="--f:#ba6d71;--c:#626060;--h:#b3b6c2;--n:#666572"/><use href="#bD" x="213.53" y="261.41" style="--f:#af7f8c;--c:#626060;--h:#b3b6c2;--n:#666572"/><use href="#bD" x="260.56" y="261.79" style="--f:#b33c3c;--c:#683939;--h:#b3b6c2;--n:#6a4956"/><use href="#bD" x="307.59" y="262.17" style="--f:#b35353;--c:#584141;--h:#b3b6c2;--n:#5e4f5c"/><use href="#bD" x="73.02" y="313.33" style="--f:#a39faf;--c:#626060;--h:#b3b6c2;--n:#666572"/><use href="#bD" x="120.05" y="313.71" style="--f:#ba6d71;--c:#626060;--h:#b3b6c2;--n:#666572"/><use href="#bD" x="167.08" y="314.09" style="--f:#b33c3c;--c:#683939;--h:#b3b6c2;--n:#6a4956"/><use href="#bD" x="214.11" y="314.47" style="--f:#ba6d71;--c:#626060;--h:#b3b6c2;--n:#666572"/><use href="#bD" x="261.14" y="314.85" style="--f:#b35353;--c:#584141;--h:#b3b6c2;--n:#5e4f5c"/><use href="#bD" x="308.17" y="315.23" style="--f:#af7f8c;--c:#626060;--h:#b3b6c2;--n:#666572"/><use href="#bD" x="73.60" y="366.39" style="--f:#ba6d71;--c:#626060;--h:#b3b6c2;--n:#666572"/><use href="#bD" x="120.63" y="366.77" style="--f:#ba6d71;--c:#626060;--h:#b3b6c2;--n:#666572"/><use href="#bD" x="167.66" y="367.15" style="--f:#ba6d71;--c:#626060;--h:#b3b6c2;--n:#666572"/><use href="#bD" x="214.69" y="367.53" style="--f:#ba6d71;--c:#626060;--h:#b3b6c2;--n:#666572"/><use href="#bD" x="261.72" y="367.91" style="--f:#a39faf;--c:#626060;--h:#b3b6c2;--n:#666572"/><use href="#bD" x="308.75" y="368.29" style="--f:#b33c3c;--c:#683939;--h:#b3b6c2;--n:#6a4956"/><use href="#bD" x="74.18" y="419.45" style="--f:#ba6d71;--c:#626060;--h:#b3b6c2;--n:#666572"/><use href="#bD" x="121.21" y="419.83" style="--f:#b33c3c;--c:#683939;--h:#b3b6c2;--n:#6a4956"/><use href="#bD" x="168.24" y="420.21" style="--f:#ba6d71;--c:#626060;--h:#b3b6c2;--n:#666572"/><use href="#bD" x="215.27" y="420.59" style="--f:#a39faf;--c:#626060;--h:#b3b6c2;--n:#666572"/><use href="#bD" x="262.30" y="420.97" style="--f:#ba6d71;--c:#626060;--h:#b3b6c2;--n:#666572"/><use href="#bD" x="309.33" y="421.35" style="--f:#ba6d71;--c:#626060;--h:#b3b6c2;--n:#666572"/><use href="#bD" x="74.76" y="472.51" style="--f:#ba6d71;--c:#626060;--h:#b3b6c2;--n:#666572"/><use href="#bD" x="121.79" y="472.89" style="--f:#ba6d71;--c:#626060;--h:#b3b6c2;--n:#666572"/><use href="#bD" x="168.82" y="473.27" style="--f:#ba6d71;--c:#626060;--h:#b3b6c2;--n:#666572"/><use href="#bD" x="215.85" y="473.65" style="--f:#ba6d71;--c:#626060;--h:#b3b6c2;--n:#666572"/><use href="#bD" x="262.88" y="474.03" style="--f:#b33c3c;--c:#683939;--h:#b3b6c2;--n:#6a4956"/><use href="#bD" x="309.91" y="474.41" style="--f:#ba6d71;--c:#626060;--h:#b3b6c2;--n:#666572"/><use href="#bD" x="71.50" y="100.12" style="--f:#ba6d71;--c:#615f5f;--h:#dee4ee;--n:#656472"/><use href="#bD" x="118.53" y="100.50" style="--f:#b23b3b;--c:#673838;--h:#dee4ee;--n:#694856"/><use href="#bD" x="165.56" y="100.89" style="--f:#be7e82;--c:#615f5f;--h:#dee4ee;--n:#656472"/><use href="#bD" x="212.59" y="101.27" style="--f:#be7e82;--c:#615f5f;--h:#dee4ee;--n:#656472"/><use href="#bD" x="259.62" y="101.64" style="--f:#b25252;--c:#574040;--h:#dee4ee;--n:#5e4e5b"/><use href="#bD" x="306.65" y="102.03" style="--f:#b66161;--c:#615f5f;--h:#dee4ee;--n:#656472"/><use href="#bD" x="72.08" y="153.19" style="--f:#ba6d71;--c:#615f5f;--h:#dee4ee;--n:#656472"/><use href="#bD" x="119.11" y="153.56" style="--f:#b23b3b;--c:#673838;--h:#dee4ee;--n:#694856"/><use href="#bD" x="166.14" y="153.94" style="--f:#b23b3b;--c:#673838;--h:#dee4ee;--n:#694856"/><use href="#bD" x="213.17" y="154.32" style="--f:#ba6d71;--c:#615f5f;--h:#dee4ee;--n:#656472"/><use href="#bD" x="260.20" y="154.70" style="--f:#af7e8c;--c:#615f5f;--h:#dee4ee;--n:#656472"/><use href="#bD" x="307.23" y="155.09" style="--f:#af7e8c;--c:#615f5f;--h:#dee4ee;--n:#656472"/><use href="#bD" x="72.66" y="206.25" style="--f:#b23b3b;--c:#673838;--h:#dee4ee;--n:#694856"/><use href="#bD" x="119.69" y="206.62" style="--f:#ba6d71;--c:#615f5f;--h:#dee4ee;--n:#656472"/><use href="#bD" x="166.72" y="207.00" style="--f:#a39fae;--c:#615f5f;--h:#dee4ee;--n:#656472"/><use href="#bD" x="213.75" y="207.38" style="--f:#ba6d71;--c:#615f5f;--h:#dee4ee;--n:#656472"/><use href="#bD" x="260.78" y="207.76" style="--f:#b23b3b;--c:#673838;--h:#dee4ee;--n:#694856"/><use href="#bD" x="307.81" y="208.15" style="--f:#b25252;--c:#574040;--h:#dee4ee;--n:#5e4e5b"/><use href="#bD" x="73.24" y="259.31" style="--f:#ba6d71;--c:#615f5f;--h:#dee4ee;--n:#656472"/><use href="#bD" x="120.27" y="259.69" style="--f:#ba6d71;--c:#615f5f;--h:#dee4ee;--n:#656472"/><use href="#bD" x="167.30" y="260.06" style="--f:#ba6d71;--c:#615f5f;--h:#dee4ee;--n:#656472"/><use href="#bD" x="214.33" y="260.44" style="--f:#af7e8c;--c:#615f5f;--h:#dee4ee;--n:#656472"/><use href="#bD" x="261.36" y="260.82" style="--f:#b23b3b;--c:#673838;--h:#dee4ee;--n:#694856"/><use href="#bD" x="308.39" y="261.21" style="--f:#b25252;--c:#574040;--h:#dee4ee;--n:#5e4e5b"/><use href="#bD" x="73.82" y="312.37" style="--f:#a39fae;--c:#615f5f;--h:#dee4ee;--n:#656472"/><use href="#bD" x="120.85" y="312.75" style="--f:#ba6d71;--c:#615f5f;--h:#dee4ee;--n:#656472"/><use href="#bD" x="167.88" y="313.12" style="--f:#b23b3b;--c:#673838;--h:#dee4ee;--n:#694856"/><use href="#bD" x="214.91" y="313.50" style="--f:#ba6d71;--c:#615f5f;--h:#dee4ee;--n:#656472"/><use href="#bD" x="261.94" y="313.88" style="--f:#b25252;--c:#574040;--h:#dee4ee;--n:#5e4e5b"/><use href="#bD" x="308.97" y="314.26" style="--f:#af7e8c;--c:#615f5f;--h:#dee4ee;--n:#656472"/><use href="#bD" x="74.40" y="365.43" style="--f:#ba6d71;--c:#615f5f;--h:#dee4ee;--n:#656472"/><use href="#bD" x="121.43" y="365.81" style="--f:#ba6d71;--c:#615f5f;--h:#dee4ee;--n:#656472"/><use href="#bD" x="168.46" y="366.19" style="--f:#ba6d71;--c:#615f5f;--h:#dee4ee;--n:#656472"/><use href="#bD" x="215.49" y="366.56" style="--f:#ba6d71;--c:#615f5f;--h:#dee4ee;--n:#656472"/><use href="#bD" x="262.52" y="366.94" style="--f:#a39fae;--c:#615f5f;--h:#dee4ee;--n:#656472"/><use href="#bD" x="309.55" y="367.33" style="--f:#b23b3b;--c:#673838;--h:#dee4ee;--n:#694856"/><use href="#bD" x="74.98" y="418.49" style="--f:#ba6d71;--c:#615f5f;--h:#dee4ee;--n:#656472"/><use href="#bD" x="122.01" y="418.87" style="--f:#b23b3b;--c:#673838;--h:#dee4ee;--n:#694856"/><use href="#bD" x="169.04" y="419.25" style="--f:#ba6d71;--c:#615f5f;--h:#dee4ee;--n:#656472"/><use href="#bD" x="216.07" y="419.62" style="--f:#a39fae;--c:#615f5f;--h:#dee4ee;--n:#656472"/><use href="#bD" x="263.10" y="420.00" style="--f:#ba6d71;--c:#615f5f;--h:#dee4ee;--n:#656472"/><use href="#bD" x="310.13" y="420.38" style="--f:#ba6d71;--c:#615f5f;--h:#dee4ee;--n:#656472"/><use href="#bD" x="75.56" y="471.55" style="--f:#ba6d71;--c:#615f5f;--h:#dee4ee;--n:#656472"/><use href="#bD" x="122.59" y="471.93" style="--f:#ba6d71;--c:#615f5f;--h:#dee4ee;--n:#656472"/><use href="#bD" x="169.62" y="472.31" style="--f:#ba6d71;--c:#615f5f;--h:#dee4ee;--n:#656472"/><use href="#bD" x="216.65" y="472.69" style="--f:#ba6d71;--c:#615f5f;--h:#dee4ee;--n:#656472"/><use href="#bD" x="263.68" y="473.06" style="--f:#b23b3b;--c:#673838;--h:#dee4ee;--n:#694856"/><use href="#bD" x="310.71" y="473.45" style="--f:#ba6d71;--c:#615f5f;--h:#dee4ee;--n:#656472"/><use href="#bD" x="72.30" y="99.16" style="--f:#ba6c70;--c:#615e5e;--h:#b2b6c1;--n:#656371"/><use href="#bD" x="119.33" y="99.54" style="--f:#b23a3a;--c:#663737;--h:#b2b6c1;--n:#684755"/><use href="#bD" x="166.36" y="99.92" style="--f:#be7d81;--c:#615e5e;--h:#b2b6c1;--n:#656371"/><use href="#bD" x="213.39" y="100.30" style="--f:#be7d81;--c:#615e5e;--h:#b2b6c1;--n:#656371"/><use href="#bD" x="260.42" y="100.68" style="--f:#b25151;--c:#563f3f;--h:#b2b6c1;--n:#5d4d5b"/><use href="#bD" x="307.45" y="101.06" style="--f:#b66060;--c:#615e5e;--h:#b2b6c1;--n:#656371"/><use href="#bD" x="72.88" y="152.22" style="--f:#ba6c70;--c:#615e5e;--h:#b2b6c1;--n:#656371"/><use href="#bD" x="119.91" y="152.60" style="--f:#b23a3a;--c:#663737;--h:#b2b6c1;--n:#684755"/><use href="#bD" x="166.94" y="152.98" style="--f:#b23a3a;--c:#663737;--h:#b2b6c1;--n:#684755"/><use href="#bD" x="213.97" y="153.36" style="--f:#ba6c70;--c:#615e5e;--h:#b2b6c1;--n:#656371"/><use href="#bD" x="261.00" y="153.74" style="--f:#ae7d8b;--c:#615e5e;--h:#b2b6c1;--n:#656371"/><use href="#bD" x="308.03" y="154.12" style="--f:#ae7d8b;--c:#615e5e;--h:#b2b6c1;--n:#656371"/><use href="#bD" x="73.46" y="205.28" style="--f:#b23a3a;--c:#663737;--h:#b2b6c1;--n:#684755"/><use href="#bD" x="120.49" y="205.66" style="--f:#ba6c70;--c:#615e5e;--h:#b2b6c1;--n:#656371"/><use href="#bD" x="167.52" y="206.04" style="--f:#a39eae;--c:#615e5e;--h:#b2b6c1;--n:#656371"/><use href="#bD" x="214.55" y="206.42" style="--f:#ba6c70;--c:#615e5e;--h:#b2b6c1;--n:#656371"/><use href="#bD" x="261.58" y="206.80" style="--f:#b23a3a;--c:#663737;--h:#b2b6c1;--n:#684755"/><use href="#bD" x="308.61" y="207.18" style="--f:#b25151;--c:#563f3f;--h:#b2b6c1;--n:#5d4d5b"/><use href="#bD" x="74.04" y="258.34" style="--f:#ba6c70;--c:#615e5e;--h:#b2b6c1;--n:#656371"/><use href="#bD" x="121.07" y="258.72" style="--f:#ba6c70;--c:#615e5e;--h:#b2b6c1;--n:#656371"/><use href="#bD" x="168.10" y="259.10" style="--f:#ba6c70;--c:#615e5e;--h:#b2b6c1;--n:#656371"/><use href="#bD" x="215.13" y="259.48" style="--f:#ae7d8b;--c:#615e5e;--h:#b2b6c1;--n:#656371"/><use href="#bD" x="262.16" y="259.86" style="--f:#b23a3a;--c:#663737;--h:#b2b6c1;--n:#684755"/><use href="#bD" x="309.19" y="260.24" style="--f:#b25151;--c:#563f3f;--h:#b2b6c1;--n:#5d4d5b"/><use href="#bD" x="74.62" y="311.40" style="--f:#a39eae;--c:#615e5e;--h:#b2b6c1;--n:#656371"/><use href="#bD" x="121.65" y="311.78" style="--f:#ba6c70;--c:#615e5e;--h:#b2b6c1;--n:#656371"/><use href="#bD" x="168.68" y="312.16" style="--f:#b23a3a;--c:#663737;--h:#b2b6c1;--n:#684755"/><use href="#bD" x="215.71" y="312.54" style="--f:#ba6c70;--c:#615e5e;--h:#b2b6c1;--n:#656371"/><use href="#bD" x="262.74" y="312.92" style="--f:#b25151;--c:#563f3f;--h:#b2b6c1;--n:#5d4d5b"/><use href="#bD" x="309.77" y="313.30" style="--f:#ae7d8b;--c:#615e5e;--h:#b2b6c1;--n:#656371"/><use href="#bD" x="75.20" y="364.46" style="--f:#ba6c70;--c:#615e5e;--h:#b2b6c1;--n:#656371"/><use href="#bD" x="122.23" y="364.84" style="--f:#ba6c70;--c:#615e5e;--h:#b2b6c1;--n:#656371"/><use href="#bD" x="169.26" y="365.22" style="--f:#ba6c70;--c:#615e5e;--h:#b2b6c1;--n:#656371"/><use href="#bD" x="216.29" y="365.60" style="--f:#ba6c70;--c:#615e5e;--h:#b2b6c1;--n:#656371"/><use href="#bD" x="263.32" y="365.98" style="--f:#a39eae;--c:#615e5e;--h:#b2b6c1;--n:#656371"/><use href="#bD" x="310.35" y="366.36" style="--f:#b23a3a;--c:#663737;--h:#b2b6c1;--n:#684755"/><use href="#bD" x="75.78" y="417.52" style="--f:#ba6c70;--c:#615e5e;--h:#b2b6c1;--n:#656371"/><use href="#bD" x="122.81" y="417.90" style="--f:#b23a3a;--c:#663737;--h:#b2b6c1;--n:#684755"/><use href="#bD" x="169.84" y="418.28" style="--f:#ba6c70;--c:#615e5e;--h:#b2b6c1;--n:#656371"/><use href="#bD" x="216.87" y="418.66" style="--f:#a39eae;--c:#615e5e;--h:#b2b6c1;--n:#656371"/><use href="#bD" x="263.90" y="419.04" style="--f:#ba6c70;--c:#615e5e;--h:#b2b6c1;--n:#656371"/><use href="#bD" x="310.93" y="419.42" style="--f:#ba6c70;--c:#615e5e;--h:#b2b6c1;--n:#656371"/><use href="#bD" x="76.36" y="470.58" style="--f:#ba6c70;--c:#615e5e;--h:#b2b6c1;--n:#656371"/><use href="#bD" x="123.39" y="470.96" style="--f:#ba6c70;--c:#615e5e;--h:#b2b6c1;--n:#656371"/><use href="#bD" x="170.42" y="471.34" style="--f:#ba6c70;--c:#615e5e;--h:#b2b6c1;--n:#656371"/><use href="#bD" x="217.45" y="471.72" style="--f:#ba6c70;--c:#615e5e;--h:#b2b6c1;--n:#656371"/><use href="#bD" x="264.48" y="472.10" style="--f:#b23a3a;--c:#663737;--h:#b2b6c1;--n:#684755"/><use href="#bD" x="311.51" y="472.48" style="--f:#ba6c70;--c:#615e5e;--h:#b2b6c1;--n:#656371"/><use href="#bD" x="73.10" y="98.20" style="--f:#b96b6f;--c:#605e5e;--h:#b2b5c1;--n:#646370"/><use href="#bD" x="120.13" y="98.58" style="--f:#b23939;--c:#663636;--h:#b2b5c1;--n:#684654"/><use href="#bD" x="167.16" y="98.96" style="--f:#bd7d81;--c:#605e5e;--h:#b2b5c1;--n:#646370"/><use href="#bD" x="214.19" y="99.34" style="--f:#bd7d81;--c:#605e5e;--h:#b2b5c1;--n:#646370"/><use href="#bD" x="261.22" y="99.72" style="--f:#b25050;--c:#553f3f;--h:#b2b5c1;--n:#5c4c5a"/><use href="#bD" x="308.25" y="100.10" style="--f:#b66060;--c:#605e5e;--h:#b2b5c1;--n:#646370"/><use href="#bD" x="73.68" y="151.26" style="--f:#b96b6f;--c:#605e5e;--h:#b2b5c1;--n:#646370"/><use href="#bD" x="120.71" y="151.64" style="--f:#b23939;--c:#663636;--h:#b2b5c1;--n:#684654"/><use href="#bD" x="167.74" y="152.02" style="--f:#b23939;--c:#663636;--h:#b2b5c1;--n:#684654"/><use href="#bD" x="214.77" y="152.40" style="--f:#b96b6f;--c:#605e5e;--h:#b2b5c1;--n:#646370"/><use href="#bD" x="261.80" y="152.78" style="--f:#ae7d8b;--c:#605e5e;--h:#b2b5c1;--n:#646370"/><use href="#bD" x="308.83" y="153.16" style="--f:#ae7d8b;--c:#605e5e;--h:#b2b5c1;--n:#646370"/><use href="#bD" x="74.26" y="204.32" style="--f:#b23939;--c:#663636;--h:#b2b5c1;--n:#684654"/><use href="#bD" x="121.29" y="204.70" style="--f:#b96b6f;--c:#605e5e;--h:#b2b5c1;--n:#646370"/><use href="#bD" x="168.32" y="205.08" style="--f:#a29eae;--c:#605e5e;--h:#b2b5c1;--n:#646370"/><use href="#bD" x="215.35" y="205.46" style="--f:#b96b6f;--c:#605e5e;--h:#b2b5c1;--n:#646370"/><use href="#bD" x="262.38" y="205.84" style="--f:#b23939;--c:#663636;--h:#b2b5c1;--n:#684654"/><use href="#bD" x="309.41" y="206.22" style="--f:#b25050;--c:#553f3f;--h:#b2b5c1;--n:#5c4c5a"/><use href="#bD" x="74.84" y="257.38" style="--f:#b96b6f;--c:#605e5e;--h:#b2b5c1;--n:#646370"/><use href="#bD" x="121.87" y="257.76" style="--f:#b96b6f;--c:#605e5e;--h:#b2b5c1;--n:#646370"/><use href="#bD" x="168.90" y="258.14" style="--f:#b96b6f;--c:#605e5e;--h:#b2b5c1;--n:#646370"/><use href="#bD" x="215.93" y="258.52" style="--f:#ae7d8b;--c:#605e5e;--h:#b2b5c1;--n:#646370"/><use href="#bD" x="262.96" y="258.90" style="--f:#b23939;--c:#663636;--h:#b2b5c1;--n:#684654"/><use href="#bD" x="309.99" y="259.28" style="--f:#b25050;--c:#553f3f;--h:#b2b5c1;--n:#5c4c5a"/><use href="#bD" x="75.42" y="310.44" style="--f:#a29eae;--c:#605e5e;--h:#b2b5c1;--n:#646370"/><use href="#bD" x="122.45" y="310.82" style="--f:#b96b6f;--c:#605e5e;--h:#b2b5c1;--n:#646370"/><use href="#bD" x="169.48" y="311.20" style="--f:#b23939;--c:#663636;--h:#b2b5c1;--n:#684654"/><use href="#bD" x="216.51" y="311.58" style="--f:#b96b6f;--c:#605e5e;--h:#b2b5c1;--n:#646370"/><use href="#bD" x="263.54" y="311.96" style="--f:#b25050;--c:#553f3f;--h:#b2b5c1;--n:#5c4c5a"/><use href="#bD" x="310.57" y="312.34" style="--f:#ae7d8b;--c:#605e5e;--h:#b2b5c1;--n:#646370"/><use href="#bD" x="76.00" y="363.50" style="--f:#b96b6f;--c:#605e5e;--h:#b2b5c1;--n:#646370"/><use href="#bD" x="123.03" y="363.88" style="--f:#b96b6f;--c:#605e5e;--h:#b2b5c1;--n:#646370"/><use href="#bD" x="170.06" y="364.26" style="--f:#b96b6f;--c:#605e5e;--h:#b2b5c1;--n:#646370"/><use href="#bD" x="217.09" y="364.64" style="--f:#b96b6f;--c:#605e5e;--h:#b2b5c1;--n:#646370"/><use href="#bD" x="264.12" y="365.02" style="--f:#a29eae;--c:#605e5e;--h:#b2b5c1;--n:#646370"/><use href="#bD" x="311.15" y="365.40" style="--f:#b23939;--c:#663636;--h:#b2b5c1;--n:#684654"/><use href="#bD" x="76.58" y="416.56" style="--f:#b96b6f;--c:#605e5e;--h:#b2b5c1;--n:#646370"/><use href="#bD" x="123.61" y="416.94" style="--f:#b23939;--c:#663636;--h:#b2b5c1;--n:#684654"/><use href="#bD" x="170.64" y="417.32" style="--f:#b96b6f;--c:#605e5e;--h:#b2b5c1;--n:#646370"/><use href="#bD" x="217.67" y="417.70" style="--f:#a29eae;--c:#605e5e;--h:#b2b5c1;--n:#646370"/><use href="#bD" x="264.70" y="418.08" style="--f:#b96b6f;--c:#605e5e;--h:#b2b5c1;--n:#646370"/><use href="#bD" x="311.73" y="418.46" style="--f:#b96b6f;--c:#605e5e;--h:#b2b5c1;--n:#646370"/><use href="#bD" x="77.16" y="469.62" style="--f:#b96b6f;--c:#605e5e;--h:#b2b5c1;--n:#646370"/><use href="#bD" x="124.19" y="470.00" style="--f:#b96b6f;--c:#605e5e;--h:#b2b5c1;--n:#646370"/><use href="#bD" x="171.22" y="470.38" style="--f:#b96b6f;--c:#605e5e;--h:#b2b5c1;--n:#646370"/><use href="#bD" x="218.25" y="470.76" style="--f:#b96b6f;--c:#605e5e;--h:#b2b5c1;--n:#646370"/><use href="#bD" x="265.28" y="471.14" style="--f:#b23939;--c:#663636;--h:#b2b5c1;--n:#684654"/><use href="#bD" x="312.31" y="471.52" style="--f:#b96b6f;--c:#605e5e;--h:#b2b5c1;--n:#646370"/><use href="#bD" x="73.90" y="97.24" style="--f:#b96b6f;--c:#5f5d5d;--h:#b1b5c1;--n:#636270"/><use href="#bD" x="120.93" y="97.62" style="--f:#b13838;--c:#653535;--h:#b1b5c1;--n:#674653"/><use href="#bD" x="167.96" y="98.00" style="--f:#bd7c80;--c:#5f5d5d;--h:#b1b5c1;--n:#636270"/><use href="#bD" x="214.99" y="98.38" style="--f:#bd7c80;--c:#5f5d5d;--h:#b1b5c1;--n:#636270"/><use href="#bD" x="262.02" y="98.76" style="--f:#b14f4f;--c:#543e3e;--h:#b1b5c1;--n:#5b4b59"/><use href="#bD" x="309.05" y="99.14" style="--f:#b55f5f;--c:#5f5d5d;--h:#b1b5c1;--n:#636270"/><use href="#bD" x="74.48" y="150.30" style="--f:#b96b6f;--c:#5f5d5d;--h:#b1b5c1;--n:#636270"/><use href="#bD" x="121.51" y="150.68" style="--f:#b13838;--c:#653535;--h:#b1b5c1;--n:#674653"/><use href="#bD" x="168.54" y="151.06" style="--f:#b13838;--c:#653535;--h:#b1b5c1;--n:#674653"/><use href="#bD" x="215.57" y="151.44" style="--f:#b96b6f;--c:#5f5d5d;--h:#b1b5c1;--n:#636270"/><use href="#bD" x="262.60" y="151.82" style="--f:#ad7c8a;--c:#5f5d5d;--h:#b1b5c1;--n:#636270"/><use href="#bD" x="309.63" y="152.20" style="--f:#ad7c8a;--c:#5f5d5d;--h:#b1b5c1;--n:#636270"/><use href="#bD" x="75.06" y="203.36" style="--f:#b13838;--c:#653535;--h:#b1b5c1;--n:#674653"/><use href="#bD" x="122.09" y="203.74" style="--f:#b96b6f;--c:#5f5d5d;--h:#b1b5c1;--n:#636270"/><use href="#bD" x="169.12" y="204.12" style="--f:#a29ead;--c:#5f5d5d;--h:#b1b5c1;--n:#636270"/><use href="#bD" x="216.15" y="204.50" style="--f:#b96b6f;--c:#5f5d5d;--h:#b1b5c1;--n:#636270"/><use href="#bD" x="263.18" y="204.88" style="--f:#b13838;--c:#653535;--h:#b1b5c1;--n:#674653"/><use href="#bD" x="310.21" y="205.26" style="--f:#b14f4f;--c:#543e3e;--h:#b1b5c1;--n:#5b4b59"/><use href="#bD" x="75.64" y="256.42" style="--f:#b96b6f;--c:#5f5d5d;--h:#b1b5c1;--n:#636270"/><use href="#bD" x="122.67" y="256.80" style="--f:#b96b6f;--c:#5f5d5d;--h:#b1b5c1;--n:#636270"/><use href="#bD" x="169.70" y="257.18" style="--f:#b96b6f;--c:#5f5d5d;--h:#b1b5c1;--n:#636270"/><use href="#bD" x="216.73" y="257.56" style="--f:#ad7c8a;--c:#5f5d5d;--h:#b1b5c1;--n:#636270"/><use href="#bD" x="263.76" y="257.94" style="--f:#b13838;--c:#653535;--h:#b1b5c1;--n:#674653"/><use href="#bD" x="310.79" y="258.32" style="--f:#b14f4f;--c:#543e3e;--h:#b1b5c1;--n:#5b4b59"/><use href="#bD" x="76.22" y="309.48" style="--f:#a29ead;--c:#5f5d5d;--h:#b1b5c1;--n:#636270"/><use href="#bD" x="123.25" y="309.86" style="--f:#b96b6f;--c:#5f5d5d;--h:#b1b5c1;--n:#636270"/><use href="#bD" x="170.28" y="310.24" style="--f:#b13838;--c:#653535;--h:#b1b5c1;--n:#674653"/><use href="#bD" x="217.31" y="310.62" style="--f:#b96b6f;--c:#5f5d5d;--h:#b1b5c1;--n:#636270"/><use href="#bD" x="264.34" y="311.00" style="--f:#b14f4f;--c:#543e3e;--h:#b1b5c1;--n:#5b4b59"/><use href="#bD" x="311.37" y="311.38" style="--f:#ad7c8a;--c:#5f5d5d;--h:#b1b5c1;--n:#636270"/><use href="#bD" x="76.80" y="362.54" style="--f:#b96b6f;--c:#5f5d5d;--h:#b1b5c1;--n:#636270"/><use href="#bD" x="123.83" y="362.92" style="--f:#b96b6f;--c:#5f5d5d;--h:#b1b5c1;--n:#636270"/><use href="#bD" x="170.86" y="363.30" style="--f:#b96b6f;--c:#5f5d5d;--h:#b1b5c1;--n:#636270"/><use href="#bD" x="217.89" y="363.68" style="--f:#b96b6f;--c:#5f5d5d;--h:#b1b5c1;--n:#636270"/><use href="#bD" x="264.92" y="364.06" style="--f:#a29ead;--c:#5f5d5d;--h:#b1b5c1;--n:#636270"/><use href="#bD" x="311.95" y="364.44" style="--f:#b13838;--c:#653535;--h:#b1b5c1;--n:#674653"/><use href="#bD" x="77.38" y="415.60" style="--f:#b96b6f;--c:#5f5d5d;--h:#b1b5c1;--n:#636270"/><use href="#bD" x="124.41" y="415.98" style="--f:#b13838;--c:#653535;--h:#b1b5c1;--n:#674653"/><use href="#bD" x="171.44" y="416.36" style="--f:#b96b6f;--c:#5f5d5d;--h:#b1b5c1;--n:#636270"/><use href="#bD" x="218.47" y="416.74" style="--f:#a29ead;--c:#5f5d5d;--h:#b1b5c1;--n:#636270"/><use href="#bD" x="265.50" y="417.12" style="--f:#b96b6f;--c:#5f5d5d;--h:#b1b5c1;--n:#636270"/><use href="#bD" x="312.53" y="417.50" style="--f:#b96b6f;--c:#5f5d5d;--h:#b1b5c1;--n:#636270"/><use href="#bD" x="77.96" y="468.66" style="--f:#b96b6f;--c:#5f5d5d;--h:#b1b5c1;--n:#636270"/><use href="#bD" x="124.99" y="469.04" style="--f:#b96b6f;--c:#5f5d5d;--h:#b1b5c1;--n:#636270"/><use href="#bD" x="172.02" y="469.42" style="--f:#b96b6f;--c:#5f5d5d;--h:#b1b5c1;--n:#636270"/><use href="#bD" x="219.05" y="469.80" style="--f:#b96b6f;--c:#5f5d5d;--h:#b1b5c1;--n:#636270"/><use href="#bD" x="266.08" y="470.18" style="--f:#b13838;--c:#653535;--h:#b1b5c1;--n:#674653"/><use href="#bD" x="313.11" y="470.56" style="--f:#b96b6f;--c:#5f5d5d;--h:#b1b5c1;--n:#636270"/><use href="#bD" x="74.70" y="96.28" style="--f:#b96a6e;--c:#5f5c5c;--h:#b1b5c1;--n:#62616f"/><use href="#bD" x="121.73" y="96.66" style="--f:#b13737;--c:#643434;--h:#b1b5c1;--n:#664553"/><use href="#bD" x="168.76" y="97.04" style="--f:#bd7c80;--c:#5f5c5c;--h:#b1b5c1;--n:#62616f"/><use href="#bD" x="215.79" y="97.42" style="--f:#bd7c80;--c:#5f5c5c;--h:#b1b5c1;--n:#62616f"/><use href="#bD" x="262.82" y="97.80" style="--f:#b14f4f;--c:#543d3d;--h:#b1b5c1;--n:#5b4b58"/><use href="#bD" x="309.85" y="98.18" style="--f:#b55e5e;--c:#5f5c5c;--h:#b1b5c1;--n:#62616f"/><use href="#bD" x="75.28" y="149.34" style="--f:#b96a6e;--c:#5f5c5c;--h:#b1b5c1;--n:#62616f"/><use href="#bD" x="122.31" y="149.72" style="--f:#b13737;--c:#643434;--h:#b1b5c1;--n:#664553"/><use href="#bD" x="169.34" y="150.09" style="--f:#b13737;--c:#643434;--h:#b1b5c1;--n:#664553"/><use href="#bD" x="216.37" y="150.47" style="--f:#b96a6e;--c:#5f5c5c;--h:#b1b5c1;--n:#62616f"/><use href="#bD" x="263.40" y="150.85" style="--f:#ad7c8a;--c:#5f5c5c;--h:#b1b5c1;--n:#62616f"/><use href="#bD" x="310.43" y="151.24" style="--f:#ad7c8a;--c:#5f5c5c;--h:#b1b5c1;--n:#62616f"/><use href="#bD" x="75.86" y="202.40" style="--f:#b13737;--c:#643434;--h:#b1b5c1;--n:#664553"/><use href="#bD" x="122.89" y="202.78" style="--f:#b96a6e;--c:#5f5c5c;--h:#b1b5c1;--n:#62616f"/><use href="#bD" x="169.92" y="203.16" style="--f:#a19dad;--c:#5f5c5c;--h:#b1b5c1;--n:#62616f"/><use href="#bD" x="216.95" y="203.53" style="--f:#b96a6e;--c:#5f5c5c;--h:#b1b5c1;--n:#62616f"/><use href="#bD" x="263.98" y="203.91" style="--f:#b13737;--c:#643434;--h:#b1b5c1;--n:#664553"/><use href="#bD" x="311.01" y="204.30" style="--f:#b14f4f;--c:#543d3d;--h:#b1b5c1;--n:#5b4b58"/><use href="#bD" x="76.44" y="255.46" style="--f:#b96a6e;--c:#5f5c5c;--h:#b1b5c1;--n:#62616f"/><use href="#bD" x="123.47" y="255.84" style="--f:#b96a6e;--c:#5f5c5c;--h:#b1b5c1;--n:#62616f"/><use href="#bD" x="170.50" y="256.21" style="--f:#b96a6e;--c:#5f5c5c;--h:#b1b5c1;--n:#62616f"/><use href="#bD" x="217.53" y="256.59" style="--f:#ad7c8a;--c:#5f5c5c;--h:#b1b5c1;--n:#62616f"/><use href="#bD" x="264.56" y="256.97" style="--f:#b13737;--c:#643434;--h:#b1b5c1;--n:#664553"/><use href="#bD" x="311.59" y="257.36" style="--f:#b14f4f;--c:#543d3d;--h:#b1b5c1;--n:#5b4b58"/><use href="#bD" x="77.02" y="308.51" style="--f:#a19dad;--c:#5f5c5c;--h:#b1b5c1;--n:#62616f"/><use href="#bD" x="124.05" y="308.89" style="--f:#b96a6e;--c:#5f5c5c;--h:#b1b5c1;--n:#62616f"/><use href="#bD" x="171.08" y="309.27" style="--f:#b13737;--c:#643434;--h:#b1b5c1;--n:#664553"/><use href="#bD" x="218.11" y="309.65" style="--f:#b96a6e;--c:#5f5c5c;--h:#b1b5c1;--n:#62616f"/><use href="#bD" x="265.14" y="310.03" style="--f:#b14f4f;--c:#543d3d;--h:#b1b5c1;--n:#5b4b58"/><use href="#bD" x="312.17" y="310.41" style="--f:#ad7c8a;--c:#5f5c5c;--h:#b1b5c1;--n:#62616f"/><use href="#bD" x="77.60" y="361.57" style="--f:#b96a6e;--c:#5f5c5c;--h:#b1b5c1;--n:#62616f"/><use href="#bD" x="124.63" y="361.95" style="--f:#b96a6e;--c:#5f5c5c;--h:#b1b5c1;--n:#62616f"/><use href="#bD" x="171.66" y="362.33" style="--f:#b96a6e;--c:#5f5c5c;--h:#b1b5c1;--n:#62616f"/><use href="#bD" x="218.69" y="362.71" style="--f:#b96a6e;--c:#5f5c5c;--h:#b1b5c1;--n:#62616f"/><use href="#bD" x="265.72" y="363.09" style="--f:#a19dad;--c:#5f5c5c;--h:#b1b5c1;--n:#62616f"/><use href="#bD" x="312.75" y="363.48" style="--f:#b13737;--c:#643434;--h:#b1b5c1;--n:#664553"/><use href="#bD" x="78.18" y="414.63" style="--f:#b96a6e;--c:#5f5c5c;--h:#b1b5c1;--n:#62616f"/><use href="#bD" x="125.21" y="415.01" style="--f:#b13737;--c:#643434;--h:#b1b5c1;--n:#664553"/><use href="#bD" x="172.24" y="415.39" style="--f:#b96a6e;--c:#5f5c5c;--h:#b1b5c1;--n:#62616f"/><use href="#bD" x="219.27" y="415.77" style="--f:#a19dad;--c:#5f5c5c;--h:#b1b5c1;--n:#62616f"/><use href="#bD" x="266.30" y="416.15" style="--f:#b96a6e;--c:#5f5c5c;--h:#b1b5c1;--n:#62616f"/><use href="#bD" x="313.33" y="416.53" style="--f:#b96a6e;--c:#5f5c5c;--h:#b1b5c1;--n:#62616f"/><use href="#bD" x="78.76" y="467.69" style="--f:#b96a6e;--c:#5f5c5c;--h:#b1b5c1;--n:#62616f"/><use href="#bD" x="125.79" y="468.07" style="--f:#b96a6e;--c:#5f5c5c;--h:#b1b5c1;--n:#62616f"/><use href="#bD" x="172.82" y="468.45" style="--f:#b96a6e;--c:#5f5c5c;--h:#b1b5c1;--n:#62616f"/><use href="#bD" x="219.85" y="468.83" style="--f:#b96a6e;--c:#5f5c5c;--h:#b1b5c1;--n:#62616f"/><use href="#bD" x="266.88" y="469.21" style="--f:#b13737;--c:#643434;--h:#b1b5c1;--n:#664553"/><use href="#bD" x="313.91" y="469.60" style="--f:#b96a6e;--c:#5f5c5c;--h:#b1b5c1;--n:#62616f"/><use href="#bD" x="75.50" y="95.31" style="--f:#b96a6e;--c:#5e5c5c;--h:#dde4ee;--n:#62616f"/><use href="#bD" x="122.53" y="95.69" style="--f:#b13636;--c:#643333;--h:#dde4ee;--n:#664452"/><use href="#bD" x="169.56" y="96.07" style="--f:#bd7b7f;--c:#5e5c5c;--h:#dde4ee;--n:#62616f"/><use href="#bD" x="216.59" y="96.45" style="--f:#bd7b7f;--c:#5e5c5c;--h:#dde4ee;--n:#62616f"/><use href="#bD" x="263.62" y="96.83" style="--f:#b14e4e;--c:#533c3c;--h:#dde4ee;--n:#5a4a58"/><use href="#bD" x="310.65" y="97.21" style="--f:#b55e5e;--c:#5e5c5c;--h:#dde4ee;--n:#62616f"/><use href="#bD" x="76.08" y="148.37" style="--f:#b96a6e;--c:#5e5c5c;--h:#dde4ee;--n:#62616f"/><use href="#bD" x="123.11" y="148.75" style="--f:#b13636;--c:#643333;--h:#dde4ee;--n:#664452"/><use href="#bD" x="170.14" y="149.13" style="--f:#b13636;--c:#643333;--h:#dde4ee;--n:#664452"/><use href="#bD" x="217.17" y="149.51" style="--f:#b96a6e;--c:#5e5c5c;--h:#dde4ee;--n:#62616f"/><use href="#bD" x="264.20" y="149.89" style="--f:#ad7b89;--c:#5e5c5c;--h:#dde4ee;--n:#62616f"/><use href="#bD" x="311.23" y="150.27" style="--f:#ad7b89;--c:#5e5c5c;--h:#dde4ee;--n:#62616f"/><use href="#bD" x="76.66" y="201.43" style="--f:#b13636;--c:#643333;--h:#dde4ee;--n:#664452"/><use href="#bD" x="123.69" y="201.81" style="--f:#b96a6e;--c:#5e5c5c;--h:#dde4ee;--n:#62616f"/><use href="#bD" x="170.72" y="202.19" style="--f:#a19dad;--c:#5e5c5c;--h:#dde4ee;--n:#62616f"/><use href="#bD" x="217.75" y="202.57" style="--f:#b96a6e;--c:#5e5c5c;--h:#dde4ee;--n:#62616f"/><use href="#bD" x="264.78" y="202.95" style="--f:#b13636;--c:#643333;--h:#dde4ee;--n:#664452"/><use href="#bD" x="311.81" y="203.33" style="--f:#b14e4e;--c:#533c3c;--h:#dde4ee;--n:#5a4a58"/><use href="#bD" x="77.24" y="254.49" style="--f:#b96a6e;--c:#5e5c5c;--h:#dde4ee;--n:#62616f"/><use href="#bD" x="124.27" y="254.87" style="--f:#b96a6e;--c:#5e5c5c;--h:#dde4ee;--n:#62616f"/><use href="#bD" x="171.30" y="255.25" style="--f:#b96a6e;--c:#5e5c5c;--h:#dde4ee;--n:#62616f"/><use href="#bD" x="218.33" y="255.63" style="--f:#ad7b89;--c:#5e5c5c;--h:#dde4ee;--n:#62616f"/><use href="#bD" x="265.36" y="256.01" style="--f:#b13636;--c:#643333;--h:#dde4ee;--n:#664452"/><use href="#bD" x="312.39" y="256.39" style="--f:#b14e4e;--c:#533c3c;--h:#dde4ee;--n:#5a4a58"/><use href="#bD" x="77.82" y="307.55" style="--f:#a19dad;--c:#5e5c5c;--h:#dde4ee;--n:#62616f"/><use href="#bD" x="124.85" y="307.93" style="--f:#b96a6e;--c:#5e5c5c;--h:#dde4ee;--n:#62616f"/><use href="#bD" x="171.88" y="308.31" style="--f:#b13636;--c:#643333;--h:#dde4ee;--n:#664452"/><use href="#bD" x="218.91" y="308.69" style="--f:#b96a6e;--c:#5e5c5c;--h:#dde4ee;--n:#62616f"/><use href="#bD" x="265.94" y="309.07" style="--f:#b14e4e;--c:#533c3c;--h:#dde4ee;--n:#5a4a58"/><use href="#bD" x="312.97" y="309.45" style="--f:#ad7b89;--c:#5e5c5c;--h:#dde4ee;--n:#62616f"/><use href="#bD" x="78.40" y="360.61" style="--f:#b96a6e;--c:#5e5c5c;--h:#dde4ee;--n:#62616f"/><use href="#bD" x="125.43" y="360.99" style="--f:#b96a6e;--c:#5e5c5c;--h:#dde4ee;--n:#62616f"/><use href="#bD" x="172.46" y="361.37" style="--f:#b96a6e;--c:#5e5c5c;--h:#dde4ee;--n:#62616f"/><use href="#bD" x="219.49" y="361.75" style="--f:#b96a6e;--c:#5e5c5c;--h:#dde4ee;--n:#62616f"/><use href="#bD" x="266.52" y="362.13" style="--f:#a19dad;--c:#5e5c5c;--h:#dde4ee;--n:#62616f"/><use href="#bD" x="313.55" y="362.51" style="--f:#b13636;--c:#643333;--h:#dde4ee;--n:#664452"/><use href="#bD" x="78.98" y="413.67" style="--f:#b96a6e;--c:#5e5c5c;--h:#dde4ee;--n:#62616f"/><use href="#bD" x="126.01" y="414.05" style="--f:#b13636;--c:#643333;--h:#dde4ee;--n:#664452"/><use href="#bD" x="173.04" y="414.43" style="--f:#b96a6e;--c:#5e5c5c;--h:#dde4ee;--n:#62616f"/><use href="#bD" x="220.07" y="414.81" style="--f:#a19dad;--c:#5e5c5c;--h:#dde4ee;--n:#62616f"/><use href="#bD" x="267.10" y="415.19" style="--f:#b96a6e;--c:#5e5c5c;--h:#dde4ee;--n:#62616f"/><use href="#bD" x="314.13" y="415.57" style="--f:#b96a6e;--c:#5e5c5c;--h:#dde4ee;--n:#62616f"/><use href="#bD" x="79.56" y="466.73" style="--f:#b96a6e;--c:#5e5c5c;--h:#dde4ee;--n:#62616f"/><use href="#bD" x="126.59" y="467.11" style="--f:#b96a6e;--c:#5e5c5c;--h:#dde4ee;--n:#62616f"/><use href="#bD" x="173.62" y="467.49" style="--f:#b96a6e;--c:#5e5c5c;--h:#dde4ee;--n:#62616f"/><use href="#bD" x="220.65" y="467.87" style="--f:#b96a6e;--c:#5e5c5c;--h:#dde4ee;--n:#62616f"/><use href="#bD" x="267.68" y="468.25" style="--f:#b13636;--c:#643333;--h:#dde4ee;--n:#664452"/><use href="#bD" x="314.71" y="468.63" style="--f:#b96a6e;--c:#5e5c5c;--h:#dde4ee;--n:#62616f"/><use href="#bD" x="76.30" y="94.35" style="--f:#b9696d;--c:#5d5b5b;--h:#b1b4c0;--n:#61606e"/><use href="#bD" x="123.33" y="94.73" style="--f:#b13636;--c:#633333;--h:#b1b4c0;--n:#654451"/><use href="#bD" x="170.36" y="95.11" style="--f:#bc7b7f;--c:#5d5b5b;--h:#b1b4c0;--n:#61606e"/><use href="#bD" x="217.39" y="95.49" style="--f:#bc7b7f;--c:#5d5b5b;--h:#b1b4c0;--n:#61606e"/><use href="#bD" x="264.42" y="95.87" style="--f:#b14d4d;--c:#523c3c;--h:#b1b4c0;--n:#594957"/><use href="#bD" x="311.45" y="96.25" style="--f:#b55d5d;--c:#5d5b5b;--h:#b1b4c0;--n:#61606e"/><use href="#bD" x="76.88" y="147.41" style="--f:#b9696d;--c:#5d5b5b;--h:#b1b4c0;--n:#61606e"/><use href="#bD" x="123.91" y="147.79" style="--f:#b13636;--c:#633333;--h:#b1b4c0;--n:#654451"/><use href="#bD" x="170.94" y="148.17" style="--f:#b13636;--c:#633333;--h:#b1b4c0;--n:#654451"/><use href="#bD" x="217.97" y="148.55" style="--f:#b9696d;--c:#5d5b5b;--h:#b1b4c0;--n:#61606e"/><use href="#bD" x="265.00" y="148.93" style="--f:#ad7b89;--c:#5d5b5b;--h:#b1b4c0;--n:#61606e"/><use href="#bD" x="312.03" y="149.31" style="--f:#ad7b89;--c:#5d5b5b;--h:#b1b4c0;--n:#61606e"/><use href="#bD" x="77.46" y="200.47" style="--f:#b13636;--c:#633333;--h:#b1b4c0;--n:#654451"/><use href="#bD" x="124.49" y="200.85" style="--f:#b9696d;--c:#5d5b5b;--h:#b1b4c0;--n:#61606e"/><use href="#bD" x="171.52" y="201.23" style="--f:#a19dad;--c:#5d5b5b;--h:#b1b4c0;--n:#61606e"/><use href="#bD" x="218.55" y="201.61" style="--f:#b9696d;--c:#5d5b5b;--h:#b1b4c0;--n:#61606e"/><use href="#bD" x="265.58" y="201.99" style="--f:#b13636;--c:#633333;--h:#b1b4c0;--n:#654451"/><use href="#bD" x="312.61" y="202.37" style="--f:#b14d4d;--c:#523c3c;--h:#b1b4c0;--n:#594957"/><use href="#bD" x="78.04" y="253.53" style="--f:#b9696d;--c:#5d5b5b;--h:#b1b4c0;--n:#61606e"/><use href="#bD" x="125.07" y="253.91" style="--f:#b9696d;--c:#5d5b5b;--h:#b1b4c0;--n:#61606e"/><use href="#bD" x="172.10" y="254.29" style="--f:#b9696d;--c:#5d5b5b;--h:#b1b4c0;--n:#61606e"/><use href="#bD" x="219.13" y="254.67" style="--f:#ad7b89;--c:#5d5b5b;--h:#b1b4c0;--n:#61606e"/><use href="#bD" x="266.16" y="255.05" style="--f:#b13636;--c:#633333;--h:#b1b4c0;--n:#654451"/><use href="#bD" x="313.19" y="255.43" style="--f:#b14d4d;--c:#523c3c;--h:#b1b4c0;--n:#594957"/><use href="#bD" x="78.62" y="306.59" style="--f:#a19dad;--c:#5d5b5b;--h:#b1b4c0;--n:#61606e"/><use href="#bD" x="125.65" y="306.97" style="--f:#b9696d;--c:#5d5b5b;--h:#b1b4c0;--n:#61606e"/><use href="#bD" x="172.68" y="307.35" style="--f:#b13636;--c:#633333;--h:#b1b4c0;--n:#654451"/><use href="#bD" x="219.71" y="307.73" style="--f:#b9696d;--c:#5d5b5b;--h:#b1b4c0;--n:#61606e"/><use href="#bD" x="266.74" y="308.11" style="--f:#b14d4d;--c:#523c3c;--h:#b1b4c0;--n:#594957"/><use href="#bD" x="313.77" y="308.49" style="--f:#ad7b89;--c:#5d5b5b;--h:#b1b4c0;--n:#61606e"/><use href="#bD" x="79.20" y="359.65" style="--f:#b9696d;--c:#5d5b5b;--h:#b1b4c0;--n:#61606e"/><use href="#bD" x="126.23" y="360.03" style="--f:#b9696d;--c:#5d5b5b;--h:#b1b4c0;--n:#61606e"/><use href="#bD" x="173.26" y="360.41" style="--f:#b9696d;--c:#5d5b5b;--h:#b1b4c0;--n:#61606e"/><use href="#bD" x="220.29" y="360.79" style="--f:#b9696d;--c:#5d5b5b;--h:#b1b4c0;--n:#61606e"/><use href="#bD" x="267.32" y="361.17" style="--f:#a19dad;--c:#5d5b5b;--h:#b1b4c0;--n:#61606e"/><use href="#bD" x="314.35" y="361.55" style="--f:#b13636;--c:#633333;--h:#b1b4c0;--n:#654451"/><use href="#bD" x="79.78" y="412.71" style="--f:#b9696d;--c:#5d5b5b;--h:#b1b4c0;--n:#61606e"/><use href="#bD" x="126.81" y="413.09" style="--f:#b13636;--c:#633333;--h:#b1b4c0;--n:#654451"/><use href="#bD" x="173.84" y="413.47" style="--f:#b9696d;--c:#5d5b5b;--h:#b1b4c0;--n:#61606e"/><use href="#bD" x="220.87" y="413.85" style="--f:#a19dad;--c:#5d5b5b;--h:#b1b4c0;--n:#61606e"/><use href="#bD" x="267.90" y="414.23" style="--f:#b9696d;--c:#5d5b5b;--h:#b1b4c0;--n:#61606e"/><use href="#bD" x="314.93" y="414.61" style="--f:#b9696d;--c:#5d5b5b;--h:#b1b4c0;--n:#61606e"/><use href="#bD" x="80.36" y="465.77" style="--f:#b9696d;--c:#5d5b5b;--h:#b1b4c0;--n:#61606e"/><use href="#bD" x="127.39" y="466.15" style="--f:#b9696d;--c:#5d5b5b;--h:#b1b4c0;--n:#61606e"/><use href="#bD" x="174.42" y="466.53" style="--f:#b9696d;--c:#5d5b5b;--h:#b1b4c0;--n:#61606e"/><use href="#bD" x="221.45" y="466.91" style="--f:#b9696d;--c:#5d5b5b;--h:#b1b4c0;--n:#61606e"/><use href="#bD" x="268.48" y="467.29" style="--f:#b13636;--c:#633333;--h:#b1b4c0;--n:#654451"/><use href="#bD" x="315.51" y="467.67" style="--f:#b9696d;--c:#5d5b5b;--h:#b1b4c0;--n:#61606e"/><use href="#bD" x="77.10" y="93.39" style="--f:#b8696d;--c:#5d5b5b;--h:#b0b4c0;--n:#61606e"/><use href="#bD" x="124.13" y="93.77" style="--f:#b03535;--c:#633232;--h:#b0b4c0;--n:#654351"/><use href="#bD" x="171.16" y="94.15" style="--f:#bc7b7f;--c:#5d5b5b;--h:#b0b4c0;--n:#61606e"/><use href="#bD" x="218.19" y="94.53" style="--f:#bc7b7f;--c:#5d5b5b;--h:#b0b4c0;--n:#61606e"/><use href="#bD" x="265.22" y="94.91" style="--f:#b04d4d;--c:#523b3b;--h:#b0b4c0;--n:#594957"/><use href="#bD" x="312.25" y="95.29" style="--f:#b45d5d;--c:#5d5b5b;--h:#b0b4c0;--n:#61606e"/><use href="#bD" x="77.68" y="146.45" style="--f:#b8696d;--c:#5d5b5b;--h:#b0b4c0;--n:#61606e"/><use href="#bD" x="124.71" y="146.83" style="--f:#b03535;--c:#633232;--h:#b0b4c0;--n:#654351"/><use href="#bD" x="171.74" y="147.21" style="--f:#b03535;--c:#633232;--h:#b0b4c0;--n:#654351"/><use href="#bD" x="218.77" y="147.59" style="--f:#b8696d;--c:#5d5b5b;--h:#b0b4c0;--n:#61606e"/><use href="#bD" x="265.80" y="147.97" style="--f:#ac7b89;--c:#5d5b5b;--h:#b0b4c0;--n:#61606e"/><use href="#bD" x="312.83" y="148.35" style="--f:#ac7b89;--c:#5d5b5b;--h:#b0b4c0;--n:#61606e"/><use href="#bD" x="78.26" y="199.51" style="--f:#b03535;--c:#633232;--h:#b0b4c0;--n:#654351"/><use href="#bD" x="125.29" y="199.89" style="--f:#b8696d;--c:#5d5b5b;--h:#b0b4c0;--n:#61606e"/><use href="#bD" x="172.32" y="200.27" style="--f:#a09cac;--c:#5d5b5b;--h:#b0b4c0;--n:#61606e"/><use href="#bD" x="219.35" y="200.65" style="--f:#b8696d;--c:#5d5b5b;--h:#b0b4c0;--n:#61606e"/><use href="#bD" x="266.38" y="201.03" style="--f:#b03535;--c:#633232;--h:#b0b4c0;--n:#654351"/><use href="#bD" x="313.41" y="201.41" style="--f:#b04d4d;--c:#523b3b;--h:#b0b4c0;--n:#594957"/><use href="#bD" x="78.84" y="252.57" style="--f:#b8696d;--c:#5d5b5b;--h:#b0b4c0;--n:#61606e"/><use href="#bD" x="125.87" y="252.95" style="--f:#b8696d;--c:#5d5b5b;--h:#b0b4c0;--n:#61606e"/><use href="#bD" x="172.90" y="253.33" style="--f:#b8696d;--c:#5d5b5b;--h:#b0b4c0;--n:#61606e"/><use href="#bD" x="219.93" y="253.71" style="--f:#ac7b89;--c:#5d5b5b;--h:#b0b4c0;--n:#61606e"/><use href="#bD" x="266.96" y="254.09" style="--f:#b03535;--c:#633232;--h:#b0b4c0;--n:#654351"/><use href="#bD" x="313.99" y="254.47" style="--f:#b04d4d;--c:#523b3b;--h:#b0b4c0;--n:#594957"/><use href="#bD" x="79.42" y="305.63" style="--f:#a09cac;--c:#5d5b5b;--h:#b0b4c0;--n:#61606e"/><use href="#bD" x="126.45" y="306.01" style="--f:#b8696d;--c:#5d5b5b;--h:#b0b4c0;--n:#61606e"/><use href="#bD" x="173.48" y="306.39" style="--f:#b03535;--c:#633232;--h:#b0b4c0;--n:#654351"/><use href="#bD" x="220.51" y="306.77" style="--f:#b8696d;--c:#5d5b5b;--h:#b0b4c0;--n:#61606e"/><use href="#bD" x="267.54" y="307.15" style="--f:#b04d4d;--c:#523b3b;--h:#b0b4c0;--n:#594957"/><use href="#bD" x="314.57" y="307.53" style="--f:#ac7b89;--c:#5d5b5b;--h:#b0b4c0;--n:#61606e"/><use href="#bD" x="80.00" y="358.69" style="--f:#b8696d;--c:#5d5b5b;--h:#b0b4c0;--n:#61606e"/><use href="#bD" x="127.03" y="359.07" style="--f:#b8696d;--c:#5d5b5b;--h:#b0b4c0;--n:#61606e"/><use href="#bD" x="174.06" y="359.45" style="--f:#b8696d;--c:#5d5b5b;--h:#b0b4c0;--n:#61606e"/><use href="#bD" x="221.09" y="359.83" style="--f:#b8696d;--c:#5d5b5b;--h:#b0b4c0;--n:#61606e"/><use href="#bD" x="268.12" y="360.21" style="--f:#a09cac;--c:#5d5b5b;--h:#b0b4c0;--n:#61606e"/><use href="#bD" x="315.15" y="360.59" style="--f:#b03535;--c:#633232;--h:#b0b4c0;--n:#654351"/><use href="#bD" x="80.58" y="411.75" style="--f:#b8696d;--c:#5d5b5b;--h:#b0b4c0;--n:#61606e"/><use href="#bD" x="127.61" y="412.13" style="--f:#b03535;--c:#633232;--h:#b0b4c0;--n:#654351"/><use href="#bD" x="174.64" y="412.51" style="--f:#b8696d;--c:#5d5b5b;--h:#b0b4c0;--n:#61606e"/><use href="#bD" x="221.67" y="412.89" style="--f:#a09cac;--c:#5d5b5b;--h:#b0b4c0;--n:#61606e"/><use href="#bD" x="268.70" y="413.27" style="--f:#b8696d;--c:#5d5b5b;--h:#b0b4c0;--n:#61606e"/><use href="#bD" x="315.73" y="413.65" style="--f:#b8696d;--c:#5d5b5b;--h:#b0b4c0;--n:#61606e"/><use href="#bD" x="81.16" y="464.81" style="--f:#b8696d;--c:#5d5b5b;--h:#b0b4c0;--n:#61606e"/><use href="#bD" x="128.19" y="465.19" style="--f:#b8696d;--c:#5d5b5b;--h:#b0b4c0;--n:#61606e"/><use href="#bD" x="175.22" y="465.57" style="--f:#b8696d;--c:#5d5b5b;--h:#b0b4c0;--n:#61606e"/><use href="#bD" x="222.25" y="465.95" style="--f:#b8696d;--c:#5d5b5b;--h:#b0b4c0;--n:#61606e"/><use href="#bD" x="269.28" y="466.33" style="--f:#b03535;--c:#633232;--h:#b0b4c0;--n:#654351"/><use href="#bD" x="316.31" y="466.71" style="--f:#b8696d;--c:#5d5b5b;--h:#b0b4c0;--n:#61606e"/><use href="#bD" x="77.90" y="92.42" style="--f:#b8686c;--c:#5c5a5a;--h:#b0b4c0;--n:#605f6d"/><use href="#bD" x="124.93" y="92.80" style="--f:#b03535;--c:#623232;--h:#b0b4c0;--n:#644350"/><use href="#bD" x="171.96" y="93.19" style="--f:#bc7a7e;--c:#5c5a5a;--h:#b0b4c0;--n:#605f6d"/><use href="#bD" x="218.99" y="93.56" style="--f:#bc7a7e;--c:#5c5a5a;--h:#b0b4c0;--n:#605f6d"/><use href="#bD" x="266.02" y="93.94" style="--f:#b04d4d;--c:#523b3b;--h:#b0b4c0;--n:#584956"/><use href="#bD" x="313.05" y="94.33" style="--f:#b45c5c;--c:#5c5a5a;--h:#b0b4c0;--n:#605f6d"/><use href="#bD" x="78.48" y="145.49" style="--f:#b8686c;--c:#5c5a5a;--h:#b0b4c0;--n:#605f6d"/><use href="#bD" x="125.51" y="145.87" style="--f:#b03535;--c:#623232;--h:#b0b4c0;--n:#644350"/><use href="#bD" x="172.54" y="146.25" style="--f:#b03535;--c:#623232;--h:#b0b4c0;--n:#644350"/><use href="#bD" x="219.57" y="146.62" style="--f:#b8686c;--c:#5c5a5a;--h:#b0b4c0;--n:#605f6d"/><use href="#bD" x="266.60" y="147.00" style="--f:#ac7a88;--c:#5c5a5a;--h:#b0b4c0;--n:#605f6d"/><use href="#bD" x="313.63" y="147.39" style="--f:#ac7a88;--c:#5c5a5a;--h:#b0b4c0;--n:#605f6d"/><use href="#bD" x="79.06" y="198.55" style="--f:#b03535;--c:#623232;--h:#b0b4c0;--n:#644350"/><use href="#bD" x="126.09" y="198.93" style="--f:#b8686c;--c:#5c5a5a;--h:#b0b4c0;--n:#605f6d"/><use href="#bD" x="173.12" y="199.31" style="--f:#a09cac;--c:#5c5a5a;--h:#b0b4c0;--n:#605f6d"/><use href="#bD" x="220.15" y="199.69" style="--f:#b8686c;--c:#5c5a5a;--h:#b0b4c0;--n:#605f6d"/><use href="#bD" x="267.18" y="200.06" style="--f:#b03535;--c:#623232;--h:#b0b4c0;--n:#644350"/><use href="#bD" x="314.21" y="200.45" style="--f:#b04d4d;--c:#523b3b;--h:#b0b4c0;--n:#584956"/><use href="#bD" x="79.64" y="251.61" style="--f:#b8686c;--c:#5c5a5a;--h:#b0b4c0;--n:#605f6d"/><use href="#bD" x="126.67" y="251.99" style="--f:#b8686c;--c:#5c5a5a;--h:#b0b4c0;--n:#605f6d"/><use href="#bD" x="173.70" y="252.37" style="--f:#b8686c;--c:#5c5a5a;--h:#b0b4c0;--n:#605f6d"/><use href="#bD" x="220.73" y="252.75" style="--f:#ac7a88;--c:#5c5a5a;--h:#b0b4c0;--n:#605f6d"/><use href="#bD" x="267.76" y="253.12" style="--f:#b03535;--c:#623232;--h:#b0b4c0;--n:#644350"/><use href="#bD" x="314.79" y="253.51" style="--f:#b04d4d;--c:#523b3b;--h:#b0b4c0;--n:#584956"/><use href="#bD" x="80.22" y="304.67" style="--f:#a09cac;--c:#5c5a5a;--h:#b0b4c0;--n:#605f6d"/><use href="#bD" x="127.25" y="305.05" style="--f:#b8686c;--c:#5c5a5a;--h:#b0b4c0;--n:#605f6d"/><use href="#bD" x="174.28" y="305.43" style="--f:#b03535;--c:#623232;--h:#b0b4c0;--n:#644350"/><use href="#bD" x="221.31" y="305.81" style="--f:#b8686c;--c:#5c5a5a;--h:#b0b4c0;--n:#605f6d"/><use href="#bD" x="268.34" y="306.19" style="--f:#b04d4d;--c:#523b3b;--h:#b0b4c0;--n:#584956"/><use href="#bD" x="315.37" y="306.56" style="--f:#ac7a88;--c:#5c5a5a;--h:#b0b4c0;--n:#605f6d"/><use href="#bD" x="80.80" y="357.73" style="--f:#b8686c;--c:#5c5a5a;--h:#b0b4c0;--n:#605f6d"/><use href="#bD" x="127.83" y="358.11" style="--f:#b8686c;--c:#5c5a5a;--h:#b0b4c0;--n:#605f6d"/><use href="#bD" x="174.86" y="358.49" style="--f:#b8686c;--c:#5c5a5a;--h:#b0b4c0;--n:#605f6d"/><use href="#bD" x="221.89" y="358.87" style="--f:#b8686c;--c:#5c5a5a;--h:#b0b4c0;--n:#605f6d"/><use href="#bD" x="268.92" y="359.25" style="--f:#a09cac;--c:#5c5a5a;--h:#b0b4c0;--n:#605f6d"/><use href="#bD" x="315.95" y="359.63" style="--f:#b03535;--c:#623232;--h:#b0b4c0;--n:#644350"/><use href="#bD" x="81.38" y="410.79" style="--f:#b8686c;--c:#5c5a5a;--h:#b0b4c0;--n:#605f6d"/><use href="#bD" x="128.41" y="411.17" style="--f:#b03535;--c:#623232;--h:#b0b4c0;--n:#644350"/><use href="#bD" x="175.44" y="411.55" style="--f:#b8686c;--c:#5c5a5a;--h:#b0b4c0;--n:#605f6d"/><use href="#bD" x="222.47" y="411.93" style="--f:#a09cac;--c:#5c5a5a;--h:#b0b4c0;--n:#605f6d"/><use href="#bD" x="269.50" y="412.31" style="--f:#b8686c;--c:#5c5a5a;--h:#b0b4c0;--n:#605f6d"/><use href="#bD" x="316.53" y="412.69" style="--f:#b8686c;--c:#5c5a5a;--h:#b0b4c0;--n:#605f6d"/><use href="#bD" x="81.96" y="463.85" style="--f:#b8686c;--c:#5c5a5a;--h:#b0b4c0;--n:#605f6d"/><use href="#bD" x="128.99" y="464.23" style="--f:#b8686c;--c:#5c5a5a;--h:#b0b4c0;--n:#605f6d"/><use href="#bD" x="176.02" y="464.61" style="--f:#b8686c;--c:#5c5a5a;--h:#b0b4c0;--n:#605f6d"/><use href="#bD" x="223.05" y="464.99" style="--f:#b8686c;--c:#5c5a5a;--h:#b0b4c0;--n:#605f6d"/><use href="#bD" x="270.08" y="465.37" style="--f:#b03535;--c:#623232;--h:#b0b4c0;--n:#644350"/><use href="#bD" x="317.11" y="465.75" style="--f:#b8686c;--c:#5c5a5a;--h:#b0b4c0;--n:#605f6d"/><use href="#bD" x="78.70" y="91.46" style="--f:#b8686c;--c:#5c5a5a;--h:#b0b4c0;--n:#605f6d"/><use href="#bD" x="125.73" y="91.84" style="--f:#b03434;--c:#623131;--h:#b0b4c0;--n:#644250"/><use href="#bD" x="172.76" y="92.22" style="--f:#bc7a7e;--c:#5c5a5a;--h:#b0b4c0;--n:#605f6d"/><use href="#bD" x="219.79" y="92.60" style="--f:#bc7a7e;--c:#5c5a5a;--h:#b0b4c0;--n:#605f6d"/><use href="#bD" x="266.82" y="92.98" style="--f:#b04c4c;--c:#513a3a;--h:#b0b4c0;--n:#584856"/><use href="#bD" x="313.85" y="93.36" style="--f:#b45c5c;--c:#5c5a5a;--h:#b0b4c0;--n:#605f6d"/><use href="#bD" x="79.28" y="144.52" style="--f:#b8686c;--c:#5c5a5a;--h:#b0b4c0;--n:#605f6d"/><use href="#bD" x="126.31" y="144.90" style="--f:#b03434;--c:#623131;--h:#b0b4c0;--n:#644250"/><use href="#bD" x="173.34" y="145.28" style="--f:#b03434;--c:#623131;--h:#b0b4c0;--n:#644250"/><use href="#bD" x="220.37" y="145.66" style="--f:#b8686c;--c:#5c5a5a;--h:#b0b4c0;--n:#605f6d"/><use href="#bD" x="267.40" y="146.04" style="--f:#ac7a88;--c:#5c5a5a;--h:#b0b4c0;--n:#605f6d"/><use href="#bD" x="314.43" y="146.42" style="--f:#ac7a88;--c:#5c5a5a;--h:#b0b4c0;--n:#605f6d"/><use href="#bD" x="79.86" y="197.58" style="--f:#b03434;--c:#623131;--h:#b0b4c0;--n:#644250"/><use href="#bD" x="126.89" y="197.96" style="--f:#b8686c;--c:#5c5a5a;--h:#b0b4c0;--n:#605f6d"/><use href="#bD" x="173.92" y="198.34" style="--f:#a09cac;--c:#5c5a5a;--h:#b0b4c0;--n:#605f6d"/><use href="#bD" x="220.95" y="198.72" style="--f:#b8686c;--c:#5c5a5a;--h:#b0b4c0;--n:#605f6d"/><use href="#bD" x="267.98" y="199.10" style="--f:#b03434;--c:#623131;--h:#b0b4c0;--n:#644250"/><use href="#bD" x="315.01" y="199.48" style="--f:#b04c4c;--c:#513a3a;--h:#b0b4c0;--n:#584856"/><use href="#bD" x="80.44" y="250.64" style="--f:#b8686c;--c:#5c5a5a;--h:#b0b4c0;--n:#605f6d"/><use href="#bD" x="127.47" y="251.02" style="--f:#b8686c;--c:#5c5a5a;--h:#b0b4c0;--n:#605f6d"/><use href="#bD" x="174.50" y="251.40" style="--f:#b8686c;--c:#5c5a5a;--h:#b0b4c0;--n:#605f6d"/><use href="#bD" x="221.53" y="251.78" style="--f:#ac7a88;--c:#5c5a5a;--h:#b0b4c0;--n:#605f6d"/><use href="#bD" x="268.56" y="252.16" style="--f:#b03434;--c:#623131;--h:#b0b4c0;--n:#644250"/><use href="#bD" x="315.59" y="252.54" style="--f:#b04c4c;--c:#513a3a;--h:#b0b4c0;--n:#584856"/><use href="#bD" x="81.02" y="303.70" style="--f:#a09cac;--c:#5c5a5a;--h:#b0b4c0;--n:#605f6d"/><use href="#bD" x="128.05" y="304.08" style="--f:#b8686c;--c:#5c5a5a;--h:#b0b4c0;--n:#605f6d"/><use href="#bD" x="175.08" y="304.46" style="--f:#b03434;--c:#623131;--h:#b0b4c0;--n:#644250"/><use href="#bD" x="222.11" y="304.84" style="--f:#b8686c;--c:#5c5a5a;--h:#b0b4c0;--n:#605f6d"/><use href="#bD" x="269.14" y="305.22" style="--f:#b04c4c;--c:#513a3a;--h:#b0b4c0;--n:#584856"/><use href="#bD" x="316.17" y="305.60" style="--f:#ac7a88;--c:#5c5a5a;--h:#b0b4c0;--n:#605f6d"/><use href="#bD" x="81.60" y="356.76" style="--f:#b8686c;--c:#5c5a5a;--h:#b0b4c0;--n:#605f6d"/><use href="#bD" x="128.63" y="357.14" style="--f:#b8686c;--c:#5c5a5a;--h:#b0b4c0;--n:#605f6d"/><use href="#bD" x="175.66" y="357.52" style="--f:#b8686c;--c:#5c5a5a;--h:#b0b4c0;--n:#605f6d"/><use href="#bD" x="222.69" y="357.90" style="--f:#b8686c;--c:#5c5a5a;--h:#b0b4c0;--n:#605f6d"/><use href="#bD" x="269.72" y="358.28" style="--f:#a09cac;--c:#5c5a5a;--h:#b0b4c0;--n:#605f6d"/><use href="#bD" x="316.75" y="358.66" style="--f:#b03434;--c:#623131;--h:#b0b4c0;--n:#644250"/><use href="#bD" x="82.18" y="409.82" style="--f:#b8686c;--c:#5c5a5a;--h:#b0b4c0;--n:#605f6d"/><use href="#bD" x="129.21" y="410.20" style="--f:#b03434;--c:#623131;--h:#b0b4c0;--n:#644250"/><use href="#bD" x="176.24" y="410.58" style="--f:#b8686c;--c:#5c5a5a;--h:#b0b4c0;--n:#605f6d"/><use href="#bD" x="223.27" y="410.96" style="--f:#a09cac;--c:#5c5a5a;--h:#b0b4c0;--n:#605f6d"/><use href="#bD" x="270.30" y="411.34" style="--f:#b8686c;--c:#5c5a5a;--h:#b0b4c0;--n:#605f6d"/><use href="#bD" x="317.33" y="411.72" style="--f:#b8686c;--c:#5c5a5a;--h:#b0b4c0;--n:#605f6d"/><use href="#bD" x="82.76" y="462.88" style="--f:#b8686c;--c:#5c5a5a;--h:#b0b4c0;--n:#605f6d"/><use href="#bD" x="129.79" y="463.26" style="--f:#b8686c;--c:#5c5a5a;--h:#b0b4c0;--n:#605f6d"/><use href="#bD" x="176.82" y="463.64" style="--f:#b8686c;--c:#5c5a5a;--h:#b0b4c0;--n:#605f6d"/><use href="#bD" x="223.85" y="464.02" style="--f:#b8686c;--c:#5c5a5a;--h:#b0b4c0;--n:#605f6d"/><use href="#bD" x="270.88" y="464.40" style="--f:#b03434;--c:#623131;--h:#b0b4c0;--n:#644250"/><use href="#bD" x="317.91" y="464.78" style="--f:#b8686c;--c:#5c5a5a;--h:#b0b4c0;--n:#605f6d"/><use href="#bT" x="79.50" y="90.50" style="--f:#ea7474;--c:#383838;--h:#dde4ee;--n:#414158;--l:#f3b3b3"/><use href="#bT" x="126.53" y="90.88" style="--f:#e02c2c;--c:#642020;--h:#dde4ee;--n:#57354c;--l:#ee8b8b"/><use href="#bT" x="173.56" y="91.26" style="--f:#ee969a;--c:#404040;--h:#dde4ee;--n:#45455c;--l:#f6c5c7"/><use href="#bT" x="220.59" y="91.64" style="--f:#ee969a;--c:#404040;--h:#dde4ee;--n:#45455c;--l:#f6c5c7"/><use href="#bT" x="267.62" y="92.02" style="--f:#e04e4e;--c:#4c2c2c;--h:#dde4ee;--n:#4b3b52;--l:#ee9e9e"/><use href="#bT" x="314.65" y="92.40" style="--f:#e66666;--c:#403232;--h:#dde4ee;--n:#453e55;--l:#f1abab"/><use href="#bT" x="80.08" y="143.56" style="--f:#ea7474;--c:#383838;--h:#dde4ee;--n:#414158;--l:#f3b3b3"/><use href="#bT" x="127.11" y="143.94" style="--f:#e02c2c;--c:#642020;--h:#dde4ee;--n:#57354c;--l:#ee8b8b"/><use href="#bT" x="174.14" y="144.32" style="--f:#e02c2c;--c:#642020;--h:#dde4ee;--n:#57354c;--l:#ee8b8b"/><use href="#bT" x="221.17" y="144.70" style="--f:#ea7474;--c:#383838;--h:#dde4ee;--n:#414158;--l:#f3b3b3"/><use href="#bT" x="268.20" y="145.08" style="--f:#ea9aac;--c:#3c3c48;--h:#dde4ee;--n:#434360;--l:#f3c7d1"/><use href="#bT" x="315.23" y="145.46" style="--f:#ea9aac;--c:#3c3c48;--h:#dde4ee;--n:#434360;--l:#f3c7d1"/><use href="#bT" x="80.66" y="196.62" style="--f:#e02c2c;--c:#642020;--h:#dde4ee;--n:#57354c;--l:#ee8b8b"/><use href="#bT" x="127.69" y="197.00" style="--f:#ea7474;--c:#383838;--h:#dde4ee;--n:#414158;--l:#f3b3b3"/><use href="#bT" x="174.72" y="197.38" style="--f:#eae8f2;--c:#323232;--h:#dde4ee;--n:#3e3e55;--l:#f3f2f8"/><use href="#bT" x="221.75" y="197.76" style="--f:#ea7474;--c:#383838;--h:#dde4ee;--n:#414158;--l:#f3b3b3"/><use href="#bT" x="268.78" y="198.14" style="--f:#e02c2c;--c:#642020;--h:#dde4ee;--n:#57354c;--l:#ee8b8b"/><use href="#bT" x="315.81" y="198.52" style="--f:#e04e4e;--c:#4c2c2c;--h:#dde4ee;--n:#4b3b52;--l:#ee9e9e"/><use href="#bT" x="81.24" y="249.68" style="--f:#ea7474;--c:#383838;--h:#dde4ee;--n:#414158;--l:#f3b3b3"/><use href="#bT" x="128.27" y="250.06" style="--f:#ea7474;--c:#383838;--h:#dde4ee;--n:#414158;--l:#f3b3b3"/><use href="#bT" x="175.30" y="250.44" style="--f:#ea7474;--c:#383838;--h:#dde4ee;--n:#414158;--l:#f3b3b3"/><use href="#bT" x="222.33" y="250.82" style="--f:#ea9aac;--c:#3c3c48;--h:#dde4ee;--n:#434360;--l:#f3c7d1"/><use href="#bT" x="269.36" y="251.20" style="--f:#e02c2c;--c:#642020;--h:#dde4ee;--n:#57354c;--l:#ee8b8b"/><use href="#bT" x="316.39" y="251.58" style="--f:#e04e4e;--c:#4c2c2c;--h:#dde4ee;--n:#4b3b52;--l:#ee9e9e"/><use href="#bT" x="81.82" y="302.74" style="--f:#eae8f2;--c:#323232;--h:#dde4ee;--n:#3e3e55;--l:#f3f2f8"/><use href="#bT" x="128.85" y="303.12" style="--f:#ea7474;--c:#383838;--h:#dde4ee;--n:#414158;--l:#f3b3b3"/><use href="#bT" x="175.88" y="303.50" style="--f:#e02c2c;--c:#642020;--h:#dde4ee;--n:#57354c;--l:#ee8b8b"/><use href="#bT" x="222.91" y="303.88" style="--f:#ea7474;--c:#383838;--h:#dde4ee;--n:#414158;--l:#f3b3b3"/><use href="#bT" x="269.94" y="304.26" style="--f:#e04e4e;--c:#4c2c2c;--h:#dde4ee;--n:#4b3b52;--l:#ee9e9e"/><use href="#bT" x="316.97" y="304.64" style="--f:#ea9aac;--c:#3c3c48;--h:#dde4ee;--n:#434360;--l:#f3c7d1"/><use href="#bT" x="82.40" y="355.80" style="--f:#ea7474;--c:#383838;--h:#dde4ee;--n:#414158;--l:#f3b3b3"/><use href="#bT" x="129.43" y="356.18" style="--f:#ea7474;--c:#383838;--h:#dde4ee;--n:#414158;--l:#f3b3b3"/><use href="#bT" x="176.46" y="356.56" style="--f:#ea7474;--c:#383838;--h:#dde4ee;--n:#414158;--l:#f3b3b3"/><use href="#bT" x="223.49" y="356.94" style="--f:#ea7474;--c:#383838;--h:#dde4ee;--n:#414158;--l:#f3b3b3"/><use href="#bT" x="270.52" y="357.32" style="--f:#eae8f2;--c:#323232;--h:#dde4ee;--n:#3e3e55;--l:#f3f2f8"/><use href="#bT" x="317.55" y="357.70" style="--f:#e02c2c;--c:#642020;--h:#dde4ee;--n:#57354c;--l:#ee8b8b"/><use href="#bT" x="82.98" y="408.86" style="--f:#ea7474;--c:#383838;--h:#dde4ee;--n:#414158;--l:#f3b3b3"/><use href="#bT" x="130.01" y="409.24" style="--f:#e02c2c;--c:#642020;--h:#dde4ee;--n:#57354c;--l:#ee8b8b"/><use href="#bT" x="177.04" y="409.62" style="--f:#ea7474;--c:#383838;--h:#dde4ee;--n:#414158;--l:#f3b3b3"/><use href="#bT" x="224.07" y="410.00" style="--f:#eae8f2;--c:#323232;--h:#dde4ee;--n:#3e3e55;--l:#f3f2f8"/><use href="#bT" x="271.10" y="410.38" style="--f:#ea7474;--c:#383838;--h:#dde4ee;--n:#414158;--l:#f3b3b3"/><use href="#bT" x="318.13" y="410.76" style="--f:#ea7474;--c:#383838;--h:#dde4ee;--n:#414158;--l:#f3b3b3"/><use href="#bT" x="83.56" y="461.92" style="--f:#ea7474;--c:#383838;--h:#dde4ee;--n:#414158;--l:#f3b3b3"/><use href="#bT" x="130.59" y="462.30" style="--f:#ea7474;--c:#383838;--h:#dde4ee;--n:#414158;--l:#f3b3b3"/><use href="#bT" x="177.62" y="462.68" style="--f:#ea7474;--c:#383838;--h:#dde4ee;--n:#414158;--l:#f3b3b3"/><use href="#bT" x="224.65" y="463.06" style="--f:#ea7474;--c:#383838;--h:#dde4ee;--n:#414158;--l:#f3b3b3"/><use href="#bT" x="271.68" y="463.44" style="--f:#e02c2c;--c:#642020;--h:#dde4ee;--n:#57354c;--l:#ee8b8b"/><use href="#bT" x="318.71" y="463.82" style="--f:#ea7474;--c:#383838;--h:#dde4ee;--n:#414158;--l:#f3b3b3"/></g><rect x="102.2" y="268.6" width="143.6" height="152.6" fill="#fff" fill-opacity="0.3" stroke="#fff" stroke-width="2.6"/><g clip-path="url(#insclip)"><rect x="383" y="131" width="292" height="310" fill="#fff"/><use href="#iD" transform="translate(308.24,136.31) scale(2.05)" style="--f:#eadbdc;--c:#dfd7d7;--h:#e8e2e3;--n:#e0d8da"/><use href="#iD" transform="translate(404.74,136.31) scale(2.05)" style="--f:#eadbdc;--c:#dfd7d7;--h:#e8e2e3;--n:#e0d8da"/><use href="#iD" transform="translate(501.04,136.31) scale(2.05)" style="--f:#eadbdc;--c:#dfd7d7;--h:#e8e2e3;--n:#e0d8da"/><use href="#iD" transform="translate(597.74,136.31) scale(2.05)" style="--f:#e9ddde;--c:#dfd7d7;--h:#e8e2e3;--n:#e0d8da"/><use href="#iD" transform="translate(694.24,136.31) scale(2.05)" style="--f:#ead6d6;--c:#e1d5d5;--h:#e8e2e3;--n:#e2d7d8"/><use href="#iD" transform="translate(308.24,241.81) scale(2.05)" style="--f:#ead8d8;--c:#dfd6d6;--h:#e8e2e3;--n:#e0d8d9"/><use href="#iD" transform="translate(404.74,241.81) scale(2.05)" style="--f:#eadbdc;--c:#dfd7d7;--h:#e8e2e3;--n:#e0d8da"/><use href="#iD" transform="translate(501.04,241.81) scale(2.05)" style="--f:#ead6d6;--c:#e1d5d5;--h:#e8e2e3;--n:#e2d7d8"/><use href="#iD" transform="translate(597.74,241.81) scale(2.05)" style="--f:#eadbdc;--c:#dfd7d7;--h:#e8e2e3;--n:#e0d8da"/><use href="#iD" transform="translate(694.24,241.81) scale(2.05)" style="--f:#ead8d8;--c:#dfd6d6;--h:#e8e2e3;--n:#e0d8d9"/><use href="#iD" transform="translate(308.24,348.31) scale(2.05)" style="--f:#eadbdc;--c:#dfd7d7;--h:#e8e2e3;--n:#e0d8da"/><use href="#iD" transform="translate(404.74,348.31) scale(2.05)" style="--f:#eadbdc;--c:#dfd7d7;--h:#e8e2e3;--n:#e0d8da"/><use href="#iD" transform="translate(501.04,348.31) scale(2.05)" style="--f:#eadbdc;--c:#dfd7d7;--h:#e8e2e3;--n:#e0d8da"/><use href="#iD" transform="translate(597.74,348.31) scale(2.05)" style="--f:#eadbdc;--c:#dfd7d7;--h:#e8e2e3;--n:#e0d8da"/><use href="#iD" transform="translate(694.24,348.31) scale(2.05)" style="--f:#e8e0e2;--c:#dfd7d7;--h:#e8e2e3;--n:#e0d8da"/><use href="#iD" transform="translate(308.24,452.81) scale(2.05)" style="--f:#eadbdc;--c:#dfd7d7;--h:#e8e2e3;--n:#e0d8da"/><use href="#iD" transform="translate(404.74,452.81) scale(2.05)" style="--f:#ead6d6;--c:#e1d5d5;--h:#e8e2e3;--n:#e2d7d8"/><use href="#iD" transform="translate(501.04,452.81) scale(2.05)" style="--f:#eadbdc;--c:#dfd7d7;--h:#e8e2e3;--n:#e0d8da"/><use href="#iD" transform="translate(597.74,452.81) scale(2.05)" style="--f:#e8e0e2;--c:#dfd7d7;--h:#e8e2e3;--n:#e0d8da"/><use href="#iD" transform="translate(694.24,452.81) scale(2.05)" style="--f:#eadbdc;--c:#dfd7d7;--h:#e8e2e3;--n:#e0d8da"/><use href="#iD" transform="translate(308.24,558.31) scale(2.05)" style="--f:#eadbdc;--c:#dfd7d7;--h:#e8e2e3;--n:#e0d8da"/><use href="#iD" transform="translate(404.74,558.31) scale(2.05)" style="--f:#eadbdc;--c:#dfd7d7;--h:#e8e2e3;--n:#e0d8da"/><use href="#iD" transform="translate(501.04,558.31) scale(2.05)" style="--f:#eadbdc;--c:#dfd7d7;--h:#e8e2e3;--n:#e0d8da"/><use href="#iD" transform="translate(597.74,558.31) scale(2.05)" style="--f:#eadbdc;--c:#dfd7d7;--h:#e8e2e3;--n:#e0d8da"/><use href="#iD" transform="translate(694.24,558.31) scale(2.05)" style="--f:#ead6d6;--c:#e1d5d5;--h:#e8e2e3;--n:#e2d7d8"/><use href="#iD" transform="translate(310.04,134.15) scale(2.05)" style="--f:#e5cfd0;--c:#cec7c7;--h:#e0dbdf;--n:#d0c9cc"/><use href="#iD" transform="translate(406.54,134.15) scale(2.05)" style="--f:#e5cfd0;--c:#cec7c7;--h:#e0dbdf;--n:#d0c9cc"/><use href="#iD" transform="translate(502.84,134.15) scale(2.05)" style="--f:#e5cfd0;--c:#cec7c7;--h:#e0dbdf;--n:#d0c9cc"/><use href="#iD" transform="translate(599.54,134.15) scale(2.05)" style="--f:#e3d2d5;--c:#cec7c7;--h:#e0dbdf;--n:#d0c9cc"/><use href="#iD" transform="translate(696.04,134.15) scale(2.05)" style="--f:#e3c4c4;--c:#d2c3c3;--h:#e0dbdf;--n:#d3c6c9"/><use href="#iD" transform="translate(310.04,239.65) scale(2.05)" style="--f:#e3c9c9;--c:#cfc4c4;--h:#e0dbdf;--n:#d1c7ca"/><use href="#iD" transform="translate(406.54,239.65) scale(2.05)" style="--f:#e5cfd0;--c:#cec7c7;--h:#e0dbdf;--n:#d0c9cc"/><use href="#iD" transform="translate(502.84,239.65) scale(2.05)" style="--f:#e3c4c4;--c:#d2c3c3;--h:#e0dbdf;--n:#d3c6c9"/><use href="#iD" transform="translate(599.54,239.65) scale(2.05)" style="--f:#e5cfd0;--c:#cec7c7;--h:#e0dbdf;--n:#d0c9cc"/><use href="#iD" transform="translate(696.04,239.65) scale(2.05)" style="--f:#e3c9c9;--c:#cfc4c4;--h:#e0dbdf;--n:#d1c7ca"/><use href="#iD" transform="translate(310.04,346.15) scale(2.05)" style="--f:#e5cfd0;--c:#cec7c7;--h:#e0dbdf;--n:#d0c9cc"/><use href="#iD" transform="translate(406.54,346.15) scale(2.05)" style="--f:#e5cfd0;--c:#cec7c7;--h:#e0dbdf;--n:#d0c9cc"/><use href="#iD" transform="translate(502.84,346.15) scale(2.05)" style="--f:#e5cfd0;--c:#cec7c7;--h:#e0dbdf;--n:#d0c9cc"/><use href="#iD" transform="translate(599.54,346.15) scale(2.05)" style="--f:#e5cfd0;--c:#cec7c7;--h:#e0dbdf;--n:#d0c9cc"/><use href="#iD" transform="translate(696.04,346.15) scale(2.05)" style="--f:#e0d9dc;--c:#cec7c7;--h:#e0dbdf;--n:#d0c9cc"/><use href="#iD" transform="translate(310.04,450.65) scale(2.05)" style="--f:#e5cfd0;--c:#cec7c7;--h:#e0dbdf;--n:#d0c9cc"/><use href="#iD" transform="translate(406.54,450.65) scale(2.05)" style="--f:#e3c4c4;--c:#d2c3c3;--h:#e0dbdf;--n:#d3c6c9"/><use href="#iD" transform="translate(502.84,450.65) scale(2.05)" style="--f:#e5cfd0;--c:#cec7c7;--h:#e0dbdf;--n:#d0c9cc"/><use href="#iD" transform="translate(599.54,450.65) scale(2.05)" style="--f:#e0d9dc;--c:#cec7c7;--h:#e0dbdf;--n:#d0c9cc"/><use href="#iD" transform="translate(696.04,450.65) scale(2.05)" style="--f:#e5cfd0;--c:#cec7c7;--h:#e0dbdf;--n:#d0c9cc"/><use href="#iD" transform="translate(310.04,556.15) scale(2.05)" style="--f:#e5cfd0;--c:#cec7c7;--h:#e0dbdf;--n:#d0c9cc"/><use href="#iD" transform="translate(406.54,556.15) scale(2.05)" style="--f:#e5cfd0;--c:#cec7c7;--h:#e0dbdf;--n:#d0c9cc"/><use href="#iD" transform="translate(502.84,556.15) scale(2.05)" style="--f:#e5cfd0;--c:#cec7c7;--h:#e0dbdf;--n:#d0c9cc"/><use href="#iD" transform="translate(599.54,556.15) scale(2.05)" style="--f:#e5cfd0;--c:#cec7c7;--h:#e0dbdf;--n:#d0c9cc"/><use href="#iD" transform="translate(696.04,556.15) scale(2.05)" style="--f:#e3c4c4;--c:#d2c3c3;--h:#e0dbdf;--n:#d3c6c9"/><use href="#iD" transform="translate(311.83,132.00) scale(2.05)" style="--f:#e0c3c4;--c:#beb7b7;--h:#d9d6da;--n:#c1bbbf"/><use href="#iD" transform="translate(408.33,132.00) scale(2.05)" style="--f:#e0c3c4;--c:#beb7b7;--h:#d9d6da;--n:#c1bbbf"/><use href="#iD" transform="translate(504.63,132.00) scale(2.05)" style="--f:#e0c3c4;--c:#beb7b7;--h:#d9d6da;--n:#c1bbbf"/><use href="#iD" transform="translate(601.33,132.00) scale(2.05)" style="--f:#dcc8cc;--c:#beb7b7;--h:#d9d6da;--n:#c1bbbf"/><use href="#iD" transform="translate(697.83,132.00) scale(2.05)" style="--f:#deb4b4;--c:#c5b1b1;--h:#d9d6da;--n:#c6b7bb"/><use href="#iD" transform="translate(311.83,237.50) scale(2.05)" style="--f:#debbbb;--c:#c0b3b3;--h:#d9d6da;--n:#c3b8bc"/><use href="#iD" transform="translate(408.33,237.50) scale(2.05)" style="--f:#e0c3c4;--c:#beb7b7;--h:#d9d6da;--n:#c1bbbf"/><use href="#iD" transform="translate(504.63,237.50) scale(2.05)" style="--f:#deb4b4;--c:#c5b1b1;--h:#d9d6da;--n:#c6b7bb"/><use href="#iD" transform="translate(601.33,237.50) scale(2.05)" style="--f:#e0c3c4;--c:#beb7b7;--h:#d9d6da;--n:#c1bbbf"/><use href="#iD" transform="translate(697.83,237.50) scale(2.05)" style="--f:#debbbb;--c:#c0b3b3;--h:#d9d6da;--n:#c3b8bc"/><use href="#iD" transform="translate(311.83,344.00) scale(2.05)" style="--f:#e0c3c4;--c:#beb7b7;--h:#d9d6da;--n:#c1bbbf"/><use href="#iD" transform="translate(408.33,344.00) scale(2.05)" style="--f:#e0c3c4;--c:#beb7b7;--h:#d9d6da;--n:#c1bbbf"/><use href="#iD" transform="translate(504.63,344.00) scale(2.05)" style="--f:#e0c3c4;--c:#beb7b7;--h:#d9d6da;--n:#c1bbbf"/><use href="#iD" transform="translate(601.33,344.00) scale(2.05)" style="--f:#e0c3c4;--c:#beb7b7;--h:#d9d6da;--n:#c1bbbf"/><use href="#iD" transform="translate(697.83,344.00) scale(2.05)" style="--f:#d9d2d7;--c:#beb7b7;--h:#d9d6da;--n:#c1bbbf"/><use href="#iD" transform="translate(311.83,448.50) scale(2.05)" style="--f:#e0c3c4;--c:#beb7b7;--h:#d9d6da;--n:#c1bbbf"/><use href="#iD" transform="translate(408.33,448.50) scale(2.05)" style="--f:#deb4b4;--c:#c5b1b1;--h:#d9d6da;--n:#c6b7bb"/><use href="#iD" transform="translate(504.63,448.50) scale(2.05)" style="--f:#e0c3c4;--c:#beb7b7;--h:#d9d6da;--n:#c1bbbf"/><use href="#iD" transform="translate(601.33,448.50) scale(2.05)" style="--f:#d9d2d7;--c:#beb7b7;--h:#d9d6da;--n:#c1bbbf"/><use href="#iD" transform="translate(697.83,448.50) scale(2.05)" style="--f:#e0c3c4;--c:#beb7b7;--h:#d9d6da;--n:#c1bbbf"/><use href="#iD" transform="translate(311.83,554.00) scale(2.05)" style="--f:#e0c3c4;--c:#beb7b7;--h:#d9d6da;--n:#c1bbbf"/><use href="#iD" transform="translate(408.33,554.00) scale(2.05)" style="--f:#e0c3c4;--c:#beb7b7;--h:#d9d6da;--n:#c1bbbf"/><use href="#iD" transform="translate(504.63,554.00) scale(2.05)" style="--f:#e0c3c4;--c:#beb7b7;--h:#d9d6da;--n:#c1bbbf"/><use href="#iD" transform="translate(601.33,554.00) scale(2.05)" style="--f:#e0c3c4;--c:#beb7b7;--h:#d9d6da;--n:#c1bbbf"/><use href="#iD" transform="translate(697.83,554.00) scale(2.05)" style="--f:#deb4b4;--c:#c5b1b1;--h:#d9d6da;--n:#c6b7bb"/><use href="#iD" transform="translate(313.62,129.84) scale(2.05)" style="--f:#dbb8ba;--c:#afa9a9;--h:#e9e6ea;--n:#b3aeb3"/><use href="#iD" transform="translate(410.12,129.84) scale(2.05)" style="--f:#dbb8ba;--c:#afa9a9;--h:#e9e6ea;--n:#b3aeb3"/><use href="#iD" transform="translate(506.42,129.84) scale(2.05)" style="--f:#dbb8ba;--c:#afa9a9;--h:#e9e6ea;--n:#b3aeb3"/><use href="#iD" transform="translate(603.12,129.84) scale(2.05)" style="--f:#d6bfc4;--c:#afa9a9;--h:#e9e6ea;--n:#b3aeb3"/><use href="#iD" transform="translate(699.62,129.84) scale(2.05)" style="--f:#d8a4a4;--c:#b8a1a1;--h:#e9e6ea;--n:#baa8ad"/><use href="#iD" transform="translate(313.62,235.34) scale(2.05)" style="--f:#d8aeae;--c:#b1a4a4;--h:#e9e6ea;--n:#b5aaaf"/><use href="#iD" transform="translate(410.12,235.34) scale(2.05)" style="--f:#dbb8ba;--c:#afa9a9;--h:#e9e6ea;--n:#b3aeb3"/><use href="#iD" transform="translate(506.42,235.34) scale(2.05)" style="--f:#d8a4a4;--c:#b8a1a1;--h:#e9e6ea;--n:#baa8ad"/><use href="#iD" transform="translate(603.12,235.34) scale(2.05)" style="--f:#dbb8ba;--c:#afa9a9;--h:#e9e6ea;--n:#b3aeb3"/><use href="#iD" transform="translate(699.62,235.34) scale(2.05)" style="--f:#d8aeae;--c:#b1a4a4;--h:#e9e6ea;--n:#b5aaaf"/><use href="#iD" transform="translate(313.62,341.84) scale(2.05)" style="--f:#dbb8ba;--c:#afa9a9;--h:#e9e6ea;--n:#b3aeb3"/><use href="#iD" transform="translate(410.12,341.84) scale(2.05)" style="--f:#dbb8ba;--c:#afa9a9;--h:#e9e6ea;--n:#b3aeb3"/><use href="#iD" transform="translate(506.42,341.84) scale(2.05)" style="--f:#dbb8ba;--c:#afa9a9;--h:#e9e6ea;--n:#b3aeb3"/><use href="#iD" transform="translate(603.12,341.84) scale(2.05)" style="--f:#dbb8ba;--c:#afa9a9;--h:#e9e6ea;--n:#b3aeb3"/><use href="#iD" transform="translate(699.62,341.84) scale(2.05)" style="--f:#d2ccd2;--c:#afa9a9;--h:#e9e6ea;--n:#b3aeb3"/><use href="#iD" transform="translate(313.62,446.34) scale(2.05)" style="--f:#dbb8ba;--c:#afa9a9;--h:#e9e6ea;--n:#b3aeb3"/><use href="#iD" transform="translate(410.12,446.34) scale(2.05)" style="--f:#d8a4a4;--c:#b8a1a1;--h:#e9e6ea;--n:#baa8ad"/><use href="#iD" transform="translate(506.42,446.34) scale(2.05)" style="--f:#dbb8ba;--c:#afa9a9;--h:#e9e6ea;--n:#b3aeb3"/><use href="#iD" transform="translate(603.12,446.34) scale(2.05)" style="--f:#d2ccd2;--c:#afa9a9;--h:#e9e6ea;--n:#b3aeb3"/><use href="#iD" transform="translate(699.62,446.34) scale(2.05)" style="--f:#dbb8ba;--c:#afa9a9;--h:#e9e6ea;--n:#b3aeb3"/><use href="#iD" transform="translate(313.62,551.84) scale(2.05)" style="--f:#dbb8ba;--c:#afa9a9;--h:#e9e6ea;--n:#b3aeb3"/><use href="#iD" transform="translate(410.12,551.84) scale(2.05)" style="--f:#dbb8ba;--c:#afa9a9;--h:#e9e6ea;--n:#b3aeb3"/><use href="#iD" transform="translate(506.42,551.84) scale(2.05)" style="--f:#dbb8ba;--c:#afa9a9;--h:#e9e6ea;--n:#b3aeb3"/><use href="#iD" transform="translate(603.12,551.84) scale(2.05)" style="--f:#dbb8ba;--c:#afa9a9;--h:#e9e6ea;--n:#b3aeb3"/><use href="#iD" transform="translate(699.62,551.84) scale(2.05)" style="--f:#d8a4a4;--c:#b8a1a1;--h:#e9e6ea;--n:#baa8ad"/><use href="#iD" transform="translate(315.41,127.68) scale(2.05)" style="--f:#d6aeb0;--c:#a19b9b;--h:#cccbd2;--n:#a6a1a7"/><use href="#iD" transform="translate(411.91,127.68) scale(2.05)" style="--f:#d6aeb0;--c:#a19b9b;--h:#cccbd2;--n:#a6a1a7"/><use href="#iD" transform="translate(508.21,127.68) scale(2.05)" style="--f:#d6aeb0;--c:#a19b9b;--h:#cccbd2;--n:#a6a1a7"/><use href="#iD" transform="translate(604.91,127.68) scale(2.05)" style="--f:#d1b6bc;--c:#a19b9b;--h:#cccbd2;--n:#a6a1a7"/><use href="#iD" transform="translate(701.41,127.68) scale(2.05)" style="--f:#d39696;--c:#ac9191;--h:#cccbd2;--n:#ae9aa0"/><use href="#iD" transform="translate(315.41,233.18) scale(2.05)" style="--f:#d3a1a1;--c:#a49595;--h:#cccbd2;--n:#a89da3"/><use href="#iD" transform="translate(411.91,233.18) scale(2.05)" style="--f:#d6aeb0;--c:#a19b9b;--h:#cccbd2;--n:#a6a1a7"/><use href="#iD" transform="translate(508.21,233.18) scale(2.05)" style="--f:#d39696;--c:#ac9191;--h:#cccbd2;--n:#ae9aa0"/><use href="#iD" transform="translate(604.91,233.18) scale(2.05)" style="--f:#d6aeb0;--c:#a19b9b;--h:#cccbd2;--n:#a6a1a7"/><use href="#iD" transform="translate(701.41,233.18) scale(2.05)" style="--f:#d3a1a1;--c:#a49595;--h:#cccbd2;--n:#a89da3"/><use href="#iD" transform="translate(315.41,339.68) scale(2.05)" style="--f:#d6aeb0;--c:#a19b9b;--h:#cccbd2;--n:#a6a1a7"/><use href="#iD" transform="translate(411.91,339.68) scale(2.05)" style="--f:#d6aeb0;--c:#a19b9b;--h:#cccbd2;--n:#a6a1a7"/><use href="#iD" transform="translate(508.21,339.68) scale(2.05)" style="--f:#d6aeb0;--c:#a19b9b;--h:#cccbd2;--n:#a6a1a7"/><use href="#iD" transform="translate(604.91,339.68) scale(2.05)" style="--f:#d6aeb0;--c:#a19b9b;--h:#cccbd2;--n:#a6a1a7"/><use href="#iD" transform="translate(701.41,339.68) scale(2.05)" style="--f:#ccc5cd;--c:#a19b9b;--h:#cccbd2;--n:#a6a1a7"/><use href="#iD" transform="translate(315.41,444.18) scale(2.05)" style="--f:#d6aeb0;--c:#a19b9b;--h:#cccbd2;--n:#a6a1a7"/><use href="#iD" transform="translate(411.91,444.18) scale(2.05)" style="--f:#d39696;--c:#ac9191;--h:#cccbd2;--n:#ae9aa0"/><use href="#iD" transform="translate(508.21,444.18) scale(2.05)" style="--f:#d6aeb0;--c:#a19b9b;--h:#cccbd2;--n:#a6a1a7"/><use href="#iD" transform="translate(604.91,444.18) scale(2.05)" style="--f:#ccc5cd;--c:#a19b9b;--h:#cccbd2;--n:#a6a1a7"/><use href="#iD" transform="translate(701.41,444.18) scale(2.05)" style="--f:#d6aeb0;--c:#a19b9b;--h:#cccbd2;--n:#a6a1a7"/><use href="#iD" transform="translate(315.41,549.68) scale(2.05)" style="--f:#d6aeb0;--c:#a19b9b;--h:#cccbd2;--n:#a6a1a7"/><use href="#iD" transform="translate(411.91,549.68) scale(2.05)" style="--f:#d6aeb0;--c:#a19b9b;--h:#cccbd2;--n:#a6a1a7"/><use href="#iD" transform="translate(508.21,549.68) scale(2.05)" style="--f:#d6aeb0;--c:#a19b9b;--h:#cccbd2;--n:#a6a1a7"/><use href="#iD" transform="translate(604.91,549.68) scale(2.05)" style="--f:#d6aeb0;--c:#a19b9b;--h:#cccbd2;--n:#a6a1a7"/><use href="#iD" transform="translate(701.41,549.68) scale(2.05)" style="--f:#d39696;--c:#ac9191;--h:#cccbd2;--n:#ae9aa0"/><use href="#iD" transform="translate(317.20,125.53) scale(2.05)" style="--f:#d2a4a6;--c:#948f8f;--h:#c6c6cf;--n:#9a969d"/><use href="#iD" transform="translate(413.70,125.53) scale(2.05)" style="--f:#d2a4a6;--c:#948f8f;--h:#c6c6cf;--n:#9a969d"/><use href="#iD" transform="translate(510.00,125.53) scale(2.05)" style="--f:#d2a4a6;--c:#948f8f;--h:#c6c6cf;--n:#9a969d"/><use href="#iD" transform="translate(606.70,125.53) scale(2.05)" style="--f:#ccaeb5;--c:#948f8f;--h:#c6c6cf;--n:#9a969d"/><use href="#iD" transform="translate(703.20,125.53) scale(2.05)" style="--f:#ce8888;--c:#a08383;--h:#c6c6cf;--n:#a38d95"/><use href="#iD" transform="translate(317.20,231.03) scale(2.05)" style="--f:#ce9595;--c:#978787;--h:#c6c6cf;--n:#9d9098"/><use href="#iD" transform="translate(413.70,231.03) scale(2.05)" style="--f:#d2a4a6;--c:#948f8f;--h:#c6c6cf;--n:#9a969d"/><use href="#iD" transform="translate(510.00,231.03) scale(2.05)" style="--f:#ce8888;--c:#a08383;--h:#c6c6cf;--n:#a38d95"/><use href="#iD" transform="translate(606.70,231.03) scale(2.05)" style="--f:#d2a4a6;--c:#948f8f;--h:#c6c6cf;--n:#9a969d"/><use href="#iD" transform="translate(703.20,231.03) scale(2.05)" style="--f:#ce9595;--c:#978787;--h:#c6c6cf;--n:#9d9098"/><use href="#iD" transform="translate(317.20,337.53) scale(2.05)" style="--f:#d2a4a6;--c:#948f8f;--h:#c6c6cf;--n:#9a969d"/><use href="#iD" transform="translate(413.70,337.53) scale(2.05)" style="--f:#d2a4a6;--c:#948f8f;--h:#c6c6cf;--n:#9a969d"/><use href="#iD" transform="translate(510.00,337.53) scale(2.05)" style="--f:#d2a4a6;--c:#948f8f;--h:#c6c6cf;--n:#9a969d"/><use href="#iD" transform="translate(606.70,337.53) scale(2.05)" style="--f:#d2a4a6;--c:#948f8f;--h:#c6c6cf;--n:#9a969d"/><use href="#iD" transform="translate(703.20,337.53) scale(2.05)" style="--f:#c6c0c8;--c:#948f8f;--h:#c6c6cf;--n:#9a969d"/><use href="#iD" transform="translate(317.20,442.03) scale(2.05)" style="--f:#d2a4a6;--c:#948f8f;--h:#c6c6cf;--n:#9a969d"/><use href="#iD" transform="translate(413.70,442.03) scale(2.05)" style="--f:#ce8888;--c:#a08383;--h:#c6c6cf;--n:#a38d95"/><use href="#iD" transform="translate(510.00,442.03) scale(2.05)" style="--f:#d2a4a6;--c:#948f8f;--h:#c6c6cf;--n:#9a969d"/><use href="#iD" transform="translate(606.70,442.03) scale(2.05)" style="--f:#c6c0c8;--c:#948f8f;--h:#c6c6cf;--n:#9a969d"/><use href="#iD" transform="translate(703.20,442.03) scale(2.05)" style="--f:#d2a4a6;--c:#948f8f;--h:#c6c6cf;--n:#9a969d"/><use href="#iD" transform="translate(317.20,547.53) scale(2.05)" style="--f:#d2a4a6;--c:#948f8f;--h:#c6c6cf;--n:#9a969d"/><use href="#iD" transform="translate(413.70,547.53) scale(2.05)" style="--f:#d2a4a6;--c:#948f8f;--h:#c6c6cf;--n:#9a969d"/><use href="#iD" transform="translate(510.00,547.53) scale(2.05)" style="--f:#d2a4a6;--c:#948f8f;--h:#c6c6cf;--n:#9a969d"/><use href="#iD" transform="translate(606.70,547.53) scale(2.05)" style="--f:#d2a4a6;--c:#948f8f;--h:#c6c6cf;--n:#9a969d"/><use href="#iD" transform="translate(703.20,547.53) scale(2.05)" style="--f:#ce8888;--c:#a08383;--h:#c6c6cf;--n:#a38d95"/><use href="#iD" transform="translate(319.00,123.37) scale(2.05)" style="--f:#ce9b9e;--c:#888383;--h:#c0c2cb;--n:#8f8b93"/><use href="#iD" transform="translate(415.50,123.37) scale(2.05)" style="--f:#ce9b9e;--c:#888383;--h:#c0c2cb;--n:#8f8b93"/><use href="#iD" transform="translate(511.80,123.37) scale(2.05)" style="--f:#ce9b9e;--c:#888383;--h:#c0c2cb;--n:#8f8b93"/><use href="#iD" transform="translate(608.50,123.37) scale(2.05)" style="--f:#c7a6ae;--c:#888383;--h:#c0c2cb;--n:#8f8b93"/><use href="#iD" transform="translate(705.00,123.37) scale(2.05)" style="--f:#ca7c7c;--c:#967676;--h:#c0c2cb;--n:#99818a"/><use href="#iD" transform="translate(319.00,228.87) scale(2.05)" style="--f:#ca8a8a;--c:#8c7b7b;--h:#c0c2cb;--n:#92858d"/><use href="#iD" transform="translate(415.50,228.87) scale(2.05)" style="--f:#ce9b9e;--c:#888383;--h:#c0c2cb;--n:#8f8b93"/><use href="#iD" transform="translate(511.80,228.87) scale(2.05)" style="--f:#ca7c7c;--c:#967676;--h:#c0c2cb;--n:#99818a"/><use href="#iD" transform="translate(608.50,228.87) scale(2.05)" style="--f:#ce9b9e;--c:#888383;--h:#c0c2cb;--n:#8f8b93"/><use href="#iD" transform="translate(705.00,228.87) scale(2.05)" style="--f:#ca8a8a;--c:#8c7b7b;--h:#c0c2cb;--n:#92858d"/><use href="#iD" transform="translate(319.00,335.37) scale(2.05)" style="--f:#ce9b9e;--c:#888383;--h:#c0c2cb;--n:#8f8b93"/><use href="#iD" transform="translate(415.50,335.37) scale(2.05)" style="--f:#ce9b9e;--c:#888383;--h:#c0c2cb;--n:#8f8b93"/><use href="#iD" transform="translate(511.80,335.37) scale(2.05)" style="--f:#ce9b9e;--c:#888383;--h:#c0c2cb;--n:#8f8b93"/><use href="#iD" transform="translate(608.50,335.37) scale(2.05)" style="--f:#ce9b9e;--c:#888383;--h:#c0c2cb;--n:#8f8b93"/><use href="#iD" transform="translate(705.00,335.37) scale(2.05)" style="--f:#c0bac4;--c:#888383;--h:#c0c2cb;--n:#8f8b93"/><use href="#iD" transform="translate(319.00,439.87) scale(2.05)" style="--f:#ce9b9e;--c:#888383;--h:#c0c2cb;--n:#8f8b93"/><use href="#iD" transform="translate(415.50,439.87) scale(2.05)" style="--f:#ca7c7c;--c:#967676;--h:#c0c2cb;--n:#99818a"/><use href="#iD" transform="translate(511.80,439.87) scale(2.05)" style="--f:#ce9b9e;--c:#888383;--h:#c0c2cb;--n:#8f8b93"/><use href="#iD" transform="translate(608.50,439.87) scale(2.05)" style="--f:#c0bac4;--c:#888383;--h:#c0c2cb;--n:#8f8b93"/><use href="#iD" transform="translate(705.00,439.87) scale(2.05)" style="--f:#ce9b9e;--c:#888383;--h:#c0c2cb;--n:#8f8b93"/><use href="#iD" transform="translate(319.00,545.37) scale(2.05)" style="--f:#ce9b9e;--c:#888383;--h:#c0c2cb;--n:#8f8b93"/><use href="#iD" transform="translate(415.50,545.37) scale(2.05)" style="--f:#ce9b9e;--c:#888383;--h:#c0c2cb;--n:#8f8b93"/><use href="#iD" transform="translate(511.80,545.37) scale(2.05)" style="--f:#ce9b9e;--c:#888383;--h:#c0c2cb;--n:#8f8b93"/><use href="#iD" transform="translate(608.50,545.37) scale(2.05)" style="--f:#ce9b9e;--c:#888383;--h:#c0c2cb;--n:#8f8b93"/><use href="#iD" transform="translate(705.00,545.37) scale(2.05)" style="--f:#ca7c7c;--c:#967676;--h:#c0c2cb;--n:#99818a"/><use href="#iD" transform="translate(320.79,121.22) scale(2.05)" style="--f:#cb9396;--c:#7c7878;--h:#bbbec8;--n:#84818a"/><use href="#iD" transform="translate(417.29,121.22) scale(2.05)" style="--f:#cb9396;--c:#7c7878;--h:#bbbec8;--n:#84818a"/><use href="#iD" transform="translate(513.59,121.22) scale(2.05)" style="--f:#cb9396;--c:#7c7878;--h:#bbbec8;--n:#84818a"/><use href="#iD" transform="translate(610.29,121.22) scale(2.05)" style="--f:#c39fa8;--c:#7c7878;--h:#bbbec8;--n:#84818a"/><use href="#iD" transform="translate(706.79,121.22) scale(2.05)" style="--f:#c67070;--c:#8c6a6a;--h:#bbbec8;--n:#907680"/><use href="#iD" transform="translate(320.79,226.72) scale(2.05)" style="--f:#c68080;--c:#816f6f;--h:#bbbec8;--n:#887a84"/><use href="#iD" transform="translate(417.29,226.72) scale(2.05)" style="--f:#cb9396;--c:#7c7878;--h:#bbbec8;--n:#84818a"/><use href="#iD" transform="translate(513.59,226.72) scale(2.05)" style="--f:#c67070;--c:#8c6a6a;--h:#bbbec8;--n:#907680"/><use href="#iD" transform="translate(610.29,226.72) scale(2.05)" style="--f:#cb9396;--c:#7c7878;--h:#bbbec8;--n:#84818a"/><use href="#iD" transform="translate(706.79,226.72) scale(2.05)" style="--f:#c68080;--c:#816f6f;--h:#bbbec8;--n:#887a84"/><use href="#iD" transform="translate(320.79,333.22) scale(2.05)" style="--f:#cb9396;--c:#7c7878;--h:#bbbec8;--n:#84818a"/><use href="#iD" transform="translate(417.29,333.22) scale(2.05)" style="--f:#cb9396;--c:#7c7878;--h:#bbbec8;--n:#84818a"/><use href="#iD" transform="translate(513.59,333.22) scale(2.05)" style="--f:#cb9396;--c:#7c7878;--h:#bbbec8;--n:#84818a"/><use href="#iD" transform="translate(610.29,333.22) scale(2.05)" style="--f:#cb9396;--c:#7c7878;--h:#bbbec8;--n:#84818a"/><use href="#iD" transform="translate(706.79,333.22) scale(2.05)" style="--f:#bbb6c0;--c:#7c7878;--h:#bbbec8;--n:#84818a"/><use href="#iD" transform="translate(320.79,437.72) scale(2.05)" style="--f:#cb9396;--c:#7c7878;--h:#bbbec8;--n:#84818a"/><use href="#iD" transform="translate(417.29,437.72) scale(2.05)" style="--f:#c67070;--c:#8c6a6a;--h:#bbbec8;--n:#907680"/><use href="#iD" transform="translate(513.59,437.72) scale(2.05)" style="--f:#cb9396;--c:#7c7878;--h:#bbbec8;--n:#84818a"/><use href="#iD" transform="translate(610.29,437.72) scale(2.05)" style="--f:#bbb6c0;--c:#7c7878;--h:#bbbec8;--n:#84818a"/><use href="#iD" transform="translate(706.79,437.72) scale(2.05)" style="--f:#cb9396;--c:#7c7878;--h:#bbbec8;--n:#84818a"/><use href="#iD" transform="translate(320.79,543.22) scale(2.05)" style="--f:#cb9396;--c:#7c7878;--h:#bbbec8;--n:#84818a"/><use href="#iD" transform="translate(417.29,543.22) scale(2.05)" style="--f:#cb9396;--c:#7c7878;--h:#bbbec8;--n:#84818a"/><use href="#iD" transform="translate(513.59,543.22) scale(2.05)" style="--f:#cb9396;--c:#7c7878;--h:#bbbec8;--n:#84818a"/><use href="#iD" transform="translate(610.29,543.22) scale(2.05)" style="--f:#cb9396;--c:#7c7878;--h:#bbbec8;--n:#84818a"/><use href="#iD" transform="translate(706.79,543.22) scale(2.05)" style="--f:#c67070;--c:#8c6a6a;--h:#bbbec8;--n:#907680"/><use href="#iD" transform="translate(322.58,119.06) scale(2.05)" style="--f:#c88c8e;--c:#726f6f;--h:#e2e5ec;--n:#7b7881"/><use href="#iD" transform="translate(419.08,119.06) scale(2.05)" style="--f:#c88c8e;--c:#726f6f;--h:#e2e5ec;--n:#7b7881"/><use href="#iD" transform="translate(515.38,119.06) scale(2.05)" style="--f:#c88c8e;--c:#726f6f;--h:#e2e5ec;--n:#7b7881"/><use href="#iD" transform="translate(612.08,119.06) scale(2.05)" style="--f:#bf99a3;--c:#726f6f;--h:#e2e5ec;--n:#7b7881"/><use href="#iD" transform="translate(708.58,119.06) scale(2.05)" style="--f:#c26666;--c:#845f5f;--h:#e2e5ec;--n:#876d77"/><use href="#iD" transform="translate(322.58,224.56) scale(2.05)" style="--f:#c27777;--c:#776565;--h:#e2e5ec;--n:#7f717b"/><use href="#iD" transform="translate(419.08,224.56) scale(2.05)" style="--f:#c88c8e;--c:#726f6f;--h:#e2e5ec;--n:#7b7881"/><use href="#iD" transform="translate(515.38,224.56) scale(2.05)" style="--f:#c26666;--c:#845f5f;--h:#e2e5ec;--n:#876d77"/><use href="#iD" transform="translate(612.08,224.56) scale(2.05)" style="--f:#c88c8e;--c:#726f6f;--h:#e2e5ec;--n:#7b7881"/><use href="#iD" transform="translate(708.58,224.56) scale(2.05)" style="--f:#c27777;--c:#776565;--h:#e2e5ec;--n:#7f717b"/><use href="#iD" transform="translate(322.58,331.06) scale(2.05)" style="--f:#c88c8e;--c:#726f6f;--h:#e2e5ec;--n:#7b7881"/><use href="#iD" transform="translate(419.08,331.06) scale(2.05)" style="--f:#c88c8e;--c:#726f6f;--h:#e2e5ec;--n:#7b7881"/><use href="#iD" transform="translate(515.38,331.06) scale(2.05)" style="--f:#c88c8e;--c:#726f6f;--h:#e2e5ec;--n:#7b7881"/><use href="#iD" transform="translate(612.08,331.06) scale(2.05)" style="--f:#c88c8e;--c:#726f6f;--h:#e2e5ec;--n:#7b7881"/><use href="#iD" transform="translate(708.58,331.06) scale(2.05)" style="--f:#b6b1bd;--c:#726f6f;--h:#e2e5ec;--n:#7b7881"/><use href="#iD" transform="translate(322.58,435.56) scale(2.05)" style="--f:#c88c8e;--c:#726f6f;--h:#e2e5ec;--n:#7b7881"/><use href="#iD" transform="translate(419.08,435.56) scale(2.05)" style="--f:#c26666;--c:#845f5f;--h:#e2e5ec;--n:#876d77"/><use href="#iD" transform="translate(515.38,435.56) scale(2.05)" style="--f:#c88c8e;--c:#726f6f;--h:#e2e5ec;--n:#7b7881"/><use href="#iD" transform="translate(612.08,435.56) scale(2.05)" style="--f:#b6b1bd;--c:#726f6f;--h:#e2e5ec;--n:#7b7881"/><use href="#iD" transform="translate(708.58,435.56) scale(2.05)" style="--f:#c88c8e;--c:#726f6f;--h:#e2e5ec;--n:#7b7881"/><use href="#iD" transform="translate(322.58,541.06) scale(2.05)" style="--f:#c88c8e;--c:#726f6f;--h:#e2e5ec;--n:#7b7881"/><use href="#iD" transform="translate(419.08,541.06) scale(2.05)" style="--f:#c88c8e;--c:#726f6f;--h:#e2e5ec;--n:#7b7881"/><use href="#iD" transform="translate(515.38,541.06) scale(2.05)" style="--f:#c88c8e;--c:#726f6f;--h:#e2e5ec;--n:#7b7881"/><use href="#iD" transform="translate(612.08,541.06) scale(2.05)" style="--f:#c88c8e;--c:#726f6f;--h:#e2e5ec;--n:#7b7881"/><use href="#iD" transform="translate(708.58,541.06) scale(2.05)" style="--f:#c26666;--c:#845f5f;--h:#e2e5ec;--n:#876d77"/><use href="#iD" transform="translate(324.37,116.90) scale(2.05)" style="--f:#c58588;--c:#696666;--h:#b2b6c3;--n:#72707a"/><use href="#iD" transform="translate(420.87,116.90) scale(2.05)" style="--f:#c58588;--c:#696666;--h:#b2b6c3;--n:#72707a"/><use href="#iD" transform="translate(517.17,116.90) scale(2.05)" style="--f:#c58588;--c:#696666;--h:#b2b6c3;--n:#72707a"/><use href="#iD" transform="translate(613.87,116.90) scale(2.05)" style="--f:#bb939e;--c:#696666;--h:#b2b6c3;--n:#72707a"/><use href="#iD" transform="translate(710.37,116.90) scale(2.05)" style="--f:#be5c5c;--c:#7c5555;--h:#b2b6c3;--n:#80636e"/><use href="#iD" transform="translate(324.37,222.40) scale(2.05)" style="--f:#be6f6f;--c:#6f5b5b;--h:#b2b6c3;--n:#766873"/><use href="#iD" transform="translate(420.87,222.40) scale(2.05)" style="--f:#c58588;--c:#696666;--h:#b2b6c3;--n:#72707a"/><use href="#iD" transform="translate(517.17,222.40) scale(2.05)" style="--f:#be5c5c;--c:#7c5555;--h:#b2b6c3;--n:#80636e"/><use href="#iD" transform="translate(613.87,222.40) scale(2.05)" style="--f:#c58588;--c:#696666;--h:#b2b6c3;--n:#72707a"/><use href="#iD" transform="translate(710.37,222.40) scale(2.05)" style="--f:#be6f6f;--c:#6f5b5b;--h:#b2b6c3;--n:#766873"/><use href="#iD" transform="translate(324.37,328.90) scale(2.05)" style="--f:#c58588;--c:#696666;--h:#b2b6c3;--n:#72707a"/><use href="#iD" transform="translate(420.87,328.90) scale(2.05)" style="--f:#c58588;--c:#696666;--h:#b2b6c3;--n:#72707a"/><use href="#iD" transform="translate(517.17,328.90) scale(2.05)" style="--f:#c58588;--c:#696666;--h:#b2b6c3;--n:#72707a"/><use href="#iD" transform="translate(613.87,328.90) scale(2.05)" style="--f:#c58588;--c:#696666;--h:#b2b6c3;--n:#72707a"/><use href="#iD" transform="translate(710.37,328.90) scale(2.05)" style="--f:#b2adba;--c:#696666;--h:#b2b6c3;--n:#72707a"/><use href="#iD" transform="translate(324.37,433.40) scale(2.05)" style="--f:#c58588;--c:#696666;--h:#b2b6c3;--n:#72707a"/><use href="#iD" transform="translate(420.87,433.40) scale(2.05)" style="--f:#be5c5c;--c:#7c5555;--h:#b2b6c3;--n:#80636e"/><use href="#iD" transform="translate(517.17,433.40) scale(2.05)" style="--f:#c58588;--c:#696666;--h:#b2b6c3;--n:#72707a"/><use href="#iD" transform="translate(613.87,433.40) scale(2.05)" style="--f:#b2adba;--c:#696666;--h:#b2b6c3;--n:#72707a"/><use href="#iD" transform="translate(710.37,433.40) scale(2.05)" style="--f:#c58588;--c:#696666;--h:#b2b6c3;--n:#72707a"/><use href="#iD" transform="translate(324.37,538.90) scale(2.05)" style="--f:#c58588;--c:#696666;--h:#b2b6c3;--n:#72707a"/><use href="#iD" transform="translate(420.87,538.90) scale(2.05)" style="--f:#c58588;--c:#696666;--h:#b2b6c3;--n:#72707a"/><use href="#iD" transform="translate(517.17,538.90) scale(2.05)" style="--f:#c58588;--c:#696666;--h:#b2b6c3;--n:#72707a"/><use href="#iD" transform="translate(613.87,538.90) scale(2.05)" style="--f:#c58588;--c:#696666;--h:#b2b6c3;--n:#72707a"/><use href="#iD" transform="translate(710.37,538.90) scale(2.05)" style="--f:#be5c5c;--c:#7c5555;--h:#b2b6c3;--n:#80636e"/><use href="#iD" transform="translate(326.16,114.75) scale(2.05)" style="--f:#c27f82;--c:#615e5e;--h:#aeb3c1;--n:#6b6973"/><use href="#iD" transform="translate(422.66,114.75) scale(2.05)" style="--f:#c27f82;--c:#615e5e;--h:#aeb3c1;--n:#6b6973"/><use href="#iD" transform="translate(518.96,114.75) scale(2.05)" style="--f:#c27f82;--c:#615e5e;--h:#aeb3c1;--n:#6b6973"/><use href="#iD" transform="translate(615.66,114.75) scale(2.05)" style="--f:#b88e99;--c:#615e5e;--h:#aeb3c1;--n:#6b6973"/><use href="#iD" transform="translate(712.16,114.75) scale(2.05)" style="--f:#bb5454;--c:#754c4c;--h:#aeb3c1;--n:#795b67"/><use href="#iD" transform="translate(326.16,220.25) scale(2.05)" style="--f:#bb6868;--c:#675252;--h:#aeb3c1;--n:#6f606c"/><use href="#iD" transform="translate(422.66,220.25) scale(2.05)" style="--f:#c27f82;--c:#615e5e;--h:#aeb3c1;--n:#6b6973"/><use href="#iD" transform="translate(518.96,220.25) scale(2.05)" style="--f:#bb5454;--c:#754c4c;--h:#aeb3c1;--n:#795b67"/><use href="#iD" transform="translate(615.66,220.25) scale(2.05)" style="--f:#c27f82;--c:#615e5e;--h:#aeb3c1;--n:#6b6973"/><use href="#iD" transform="translate(712.16,220.25) scale(2.05)" style="--f:#bb6868;--c:#675252;--h:#aeb3c1;--n:#6f606c"/><use href="#iD" transform="translate(326.16,326.75) scale(2.05)" style="--f:#c27f82;--c:#615e5e;--h:#aeb3c1;--n:#6b6973"/><use href="#iD" transform="translate(422.66,326.75) scale(2.05)" style="--f:#c27f82;--c:#615e5e;--h:#aeb3c1;--n:#6b6973"/><use href="#iD" transform="translate(518.96,326.75) scale(2.05)" style="--f:#c27f82;--c:#615e5e;--h:#aeb3c1;--n:#6b6973"/><use href="#iD" transform="translate(615.66,326.75) scale(2.05)" style="--f:#c27f82;--c:#615e5e;--h:#aeb3c1;--n:#6b6973"/><use href="#iD" transform="translate(712.16,326.75) scale(2.05)" style="--f:#aeaab7;--c:#615e5e;--h:#aeb3c1;--n:#6b6973"/><use href="#iD" transform="translate(326.16,431.25) scale(2.05)" style="--f:#c27f82;--c:#615e5e;--h:#aeb3c1;--n:#6b6973"/><use href="#iD" transform="translate(422.66,431.25) scale(2.05)" style="--f:#bb5454;--c:#754c4c;--h:#aeb3c1;--n:#795b67"/><use href="#iD" transform="translate(518.96,431.25) scale(2.05)" style="--f:#c27f82;--c:#615e5e;--h:#aeb3c1;--n:#6b6973"/><use href="#iD" transform="translate(615.66,431.25) scale(2.05)" style="--f:#aeaab7;--c:#615e5e;--h:#aeb3c1;--n:#6b6973"/><use href="#iD" transform="translate(712.16,431.25) scale(2.05)" style="--f:#c27f82;--c:#615e5e;--h:#aeb3c1;--n:#6b6973"/><use href="#iD" transform="translate(326.16,536.75) scale(2.05)" style="--f:#c27f82;--c:#615e5e;--h:#aeb3c1;--n:#6b6973"/><use href="#iD" transform="translate(422.66,536.75) scale(2.05)" style="--f:#c27f82;--c:#615e5e;--h:#aeb3c1;--n:#6b6973"/><use href="#iD" transform="translate(518.96,536.75) scale(2.05)" style="--f:#c27f82;--c:#615e5e;--h:#aeb3c1;--n:#6b6973"/><use href="#iD" transform="translate(615.66,536.75) scale(2.05)" style="--f:#c27f82;--c:#615e5e;--h:#aeb3c1;--n:#6b6973"/><use href="#iD" transform="translate(712.16,536.75) scale(2.05)" style="--f:#bb5454;--c:#754c4c;--h:#aeb3c1;--n:#795b67"/><use href="#iD" transform="translate(327.96,112.59) scale(2.05)" style="--f:#c0797d;--c:#5a5757;--h:#abb1bf;--n:#64626d"/><use href="#iD" transform="translate(424.46,112.59) scale(2.05)" style="--f:#c0797d;--c:#5a5757;--h:#abb1bf;--n:#64626d"/><use href="#iD" transform="translate(520.76,112.59) scale(2.05)" style="--f:#c0797d;--c:#5a5757;--h:#abb1bf;--n:#64626d"/><use href="#iD" transform="translate(617.46,112.59) scale(2.05)" style="--f:#b58995;--c:#5a5757;--h:#abb1bf;--n:#64626d"/><use href="#iD" transform="translate(713.96,112.59) scale(2.05)" style="--f:#b94c4c;--c:#6e4444;--h:#abb1bf;--n:#735460"/><use href="#iD" transform="translate(327.96,218.09) scale(2.05)" style="--f:#b96161;--c:#604b4b;--h:#abb1bf;--n:#685966"/><use href="#iD" transform="translate(424.46,218.09) scale(2.05)" style="--f:#c0797d;--c:#5a5757;--h:#abb1bf;--n:#64626d"/><use href="#iD" transform="translate(520.76,218.09) scale(2.05)" style="--f:#b94c4c;--c:#6e4444;--h:#abb1bf;--n:#735460"/><use href="#iD" transform="translate(617.46,218.09) scale(2.05)" style="--f:#c0797d;--c:#5a5757;--h:#abb1bf;--n:#64626d"/><use href="#iD" transform="translate(713.96,218.09) scale(2.05)" style="--f:#b96161;--c:#604b4b;--h:#abb1bf;--n:#685966"/><use href="#iD" transform="translate(327.96,324.59) scale(2.05)" style="--f:#c0797d;--c:#5a5757;--h:#abb1bf;--n:#64626d"/><use href="#iD" transform="translate(424.46,324.59) scale(2.05)" style="--f:#c0797d;--c:#5a5757;--h:#abb1bf;--n:#64626d"/><use href="#iD" transform="translate(520.76,324.59) scale(2.05)" style="--f:#c0797d;--c:#5a5757;--h:#abb1bf;--n:#64626d"/><use href="#iD" transform="translate(617.46,324.59) scale(2.05)" style="--f:#c0797d;--c:#5a5757;--h:#abb1bf;--n:#64626d"/><use href="#iD" transform="translate(713.96,324.59) scale(2.05)" style="--f:#aba6b4;--c:#5a5757;--h:#abb1bf;--n:#64626d"/><use href="#iD" transform="translate(327.96,429.09) scale(2.05)" style="--f:#c0797d;--c:#5a5757;--h:#abb1bf;--n:#64626d"/><use href="#iD" transform="translate(424.46,429.09) scale(2.05)" style="--f:#b94c4c;--c:#6e4444;--h:#abb1bf;--n:#735460"/><use href="#iD" transform="translate(520.76,429.09) scale(2.05)" style="--f:#c0797d;--c:#5a5757;--h:#abb1bf;--n:#64626d"/><use href="#iD" transform="translate(617.46,429.09) scale(2.05)" style="--f:#aba6b4;--c:#5a5757;--h:#abb1bf;--n:#64626d"/><use href="#iD" transform="translate(713.96,429.09) scale(2.05)" style="--f:#c0797d;--c:#5a5757;--h:#abb1bf;--n:#64626d"/><use href="#iD" transform="translate(327.96,534.59) scale(2.05)" style="--f:#c0797d;--c:#5a5757;--h:#abb1bf;--n:#64626d"/><use href="#iD" transform="translate(424.46,534.59) scale(2.05)" style="--f:#c0797d;--c:#5a5757;--h:#abb1bf;--n:#64626d"/><use href="#iD" transform="translate(520.76,534.59) scale(2.05)" style="--f:#c0797d;--c:#5a5757;--h:#abb1bf;--n:#64626d"/><use href="#iD" transform="translate(617.46,534.59) scale(2.05)" style="--f:#c0797d;--c:#5a5757;--h:#abb1bf;--n:#64626d"/><use href="#iD" transform="translate(713.96,534.59) scale(2.05)" style="--f:#b94c4c;--c:#6e4444;--h:#abb1bf;--n:#735460"/><use href="#iD" transform="translate(329.75,110.44) scale(2.05)" style="--f:#be7578;--c:#535151;--h:#a8aebd;--n:#5e5c68"/><use href="#iD" transform="translate(426.25,110.44) scale(2.05)" style="--f:#be7578;--c:#535151;--h:#a8aebd;--n:#5e5c68"/><use href="#iD" transform="translate(522.55,110.44) scale(2.05)" style="--f:#be7578;--c:#535151;--h:#a8aebd;--n:#5e5c68"/><use href="#iD" transform="translate(619.25,110.44) scale(2.05)" style="--f:#b38592;--c:#535151;--h:#a8aebd;--n:#5e5c68"/><use href="#iD" transform="translate(715.75,110.44) scale(2.05)" style="--f:#b64646;--c:#693d3d;--h:#a8aebd;--n:#6e4e5b"/><use href="#iD" transform="translate(329.75,215.94) scale(2.05)" style="--f:#b65c5c;--c:#5a4444;--h:#a8aebd;--n:#635460"/><use href="#iD" transform="translate(426.25,215.94) scale(2.05)" style="--f:#be7578;--c:#535151;--h:#a8aebd;--n:#5e5c68"/><use href="#iD" transform="translate(522.55,215.94) scale(2.05)" style="--f:#b64646;--c:#693d3d;--h:#a8aebd;--n:#6e4e5b"/><use href="#iD" transform="translate(619.25,215.94) scale(2.05)" style="--f:#be7578;--c:#535151;--h:#a8aebd;--n:#5e5c68"/><use href="#iD" transform="translate(715.75,215.94) scale(2.05)" style="--f:#b65c5c;--c:#5a4444;--h:#a8aebd;--n:#635460"/><use href="#iD" transform="translate(329.75,322.44) scale(2.05)" style="--f:#be7578;--c:#535151;--h:#a8aebd;--n:#5e5c68"/><use href="#iD" transform="translate(426.25,322.44) scale(2.05)" style="--f:#be7578;--c:#535151;--h:#a8aebd;--n:#5e5c68"/><use href="#iD" transform="translate(522.55,322.44) scale(2.05)" style="--f:#be7578;--c:#535151;--h:#a8aebd;--n:#5e5c68"/><use href="#iD" transform="translate(619.25,322.44) scale(2.05)" style="--f:#be7578;--c:#535151;--h:#a8aebd;--n:#5e5c68"/><use href="#iD" transform="translate(715.75,322.44) scale(2.05)" style="--f:#a8a4b2;--c:#535151;--h:#a8aebd;--n:#5e5c68"/><use href="#iD" transform="translate(329.75,426.94) scale(2.05)" style="--f:#be7578;--c:#535151;--h:#a8aebd;--n:#5e5c68"/><use href="#iD" transform="translate(426.25,426.94) scale(2.05)" style="--f:#b64646;--c:#693d3d;--h:#a8aebd;--n:#6e4e5b"/><use href="#iD" transform="translate(522.55,426.94) scale(2.05)" style="--f:#be7578;--c:#535151;--h:#a8aebd;--n:#5e5c68"/><use href="#iD" transform="translate(619.25,426.94) scale(2.05)" style="--f:#a8a4b2;--c:#535151;--h:#a8aebd;--n:#5e5c68"/><use href="#iD" transform="translate(715.75,426.94) scale(2.05)" style="--f:#be7578;--c:#535151;--h:#a8aebd;--n:#5e5c68"/><use href="#iD" transform="translate(329.75,532.44) scale(2.05)" style="--f:#be7578;--c:#535151;--h:#a8aebd;--n:#5e5c68"/><use href="#iD" transform="translate(426.25,532.44) scale(2.05)" style="--f:#be7578;--c:#535151;--h:#a8aebd;--n:#5e5c68"/><use href="#iD" transform="translate(522.55,532.44) scale(2.05)" style="--f:#be7578;--c:#535151;--h:#a8aebd;--n:#5e5c68"/><use href="#iD" transform="translate(619.25,532.44) scale(2.05)" style="--f:#be7578;--c:#535151;--h:#a8aebd;--n:#5e5c68"/><use href="#iD" transform="translate(715.75,532.44) scale(2.05)" style="--f:#b64646;--c:#693d3d;--h:#a8aebd;--n:#6e4e5b"/><use href="#iD" transform="translate(331.54,108.28) scale(2.05)" style="--f:#bc7175;--c:#4e4c4c;--h:#dee4ee;--n:#595864"/><use href="#iD" transform="translate(428.04,108.28) scale(2.05)" style="--f:#bc7175;--c:#4e4c4c;--h:#dee4ee;--n:#595864"/><use href="#iD" transform="translate(524.34,108.28) scale(2.05)" style="--f:#bc7175;--c:#4e4c4c;--h:#dee4ee;--n:#595864"/><use href="#iD" transform="translate(621.04,108.28) scale(2.05)" style="--f:#b1828f;--c:#4e4c4c;--h:#dee4ee;--n:#595864"/><use href="#iD" transform="translate(717.54,108.28) scale(2.05)" style="--f:#b44040;--c:#643737;--h:#dee4ee;--n:#694956"/><use href="#iD" transform="translate(331.54,213.78) scale(2.05)" style="--f:#b45757;--c:#553f3f;--h:#dee4ee;--n:#5e4e5b"/><use href="#iD" transform="translate(428.04,213.78) scale(2.05)" style="--f:#bc7175;--c:#4e4c4c;--h:#dee4ee;--n:#595864"/><use href="#iD" transform="translate(524.34,213.78) scale(2.05)" style="--f:#b44040;--c:#643737;--h:#dee4ee;--n:#694956"/><use href="#iD" transform="translate(621.04,213.78) scale(2.05)" style="--f:#bc7175;--c:#4e4c4c;--h:#dee4ee;--n:#595864"/><use href="#iD" transform="translate(717.54,213.78) scale(2.05)" style="--f:#b45757;--c:#553f3f;--h:#dee4ee;--n:#5e4e5b"/><use href="#iD" transform="translate(331.54,320.28) scale(2.05)" style="--f:#bc7175;--c:#4e4c4c;--h:#dee4ee;--n:#595864"/><use href="#iD" transform="translate(428.04,320.28) scale(2.05)" style="--f:#bc7175;--c:#4e4c4c;--h:#dee4ee;--n:#595864"/><use href="#iD" transform="translate(524.34,320.28) scale(2.05)" style="--f:#bc7175;--c:#4e4c4c;--h:#dee4ee;--n:#595864"/><use href="#iD" transform="translate(621.04,320.28) scale(2.05)" style="--f:#bc7175;--c:#4e4c4c;--h:#dee4ee;--n:#595864"/><use href="#iD" transform="translate(717.54,320.28) scale(2.05)" style="--f:#a6a1b0;--c:#4e4c4c;--h:#dee4ee;--n:#595864"/><use href="#iD" transform="translate(331.54,424.78) scale(2.05)" style="--f:#bc7175;--c:#4e4c4c;--h:#dee4ee;--n:#595864"/><use href="#iD" transform="translate(428.04,424.78) scale(2.05)" style="--f:#b44040;--c:#643737;--h:#dee4ee;--n:#694956"/><use href="#iD" transform="translate(524.34,424.78) scale(2.05)" style="--f:#bc7175;--c:#4e4c4c;--h:#dee4ee;--n:#595864"/><use href="#iD" transform="translate(621.04,424.78) scale(2.05)" style="--f:#a6a1b0;--c:#4e4c4c;--h:#dee4ee;--n:#595864"/><use href="#iD" transform="translate(717.54,424.78) scale(2.05)" style="--f:#bc7175;--c:#4e4c4c;--h:#dee4ee;--n:#595864"/><use href="#iD" transform="translate(331.54,530.28) scale(2.05)" style="--f:#bc7175;--c:#4e4c4c;--h:#dee4ee;--n:#595864"/><use href="#iD" transform="translate(428.04,530.28) scale(2.05)" style="--f:#bc7175;--c:#4e4c4c;--h:#dee4ee;--n:#595864"/><use href="#iD" transform="translate(524.34,530.28) scale(2.05)" style="--f:#bc7175;--c:#4e4c4c;--h:#dee4ee;--n:#595864"/><use href="#iD" transform="translate(621.04,530.28) scale(2.05)" style="--f:#bc7175;--c:#4e4c4c;--h:#dee4ee;--n:#595864"/><use href="#iD" transform="translate(717.54,530.28) scale(2.05)" style="--f:#b44040;--c:#643737;--h:#dee4ee;--n:#694956"/><use href="#iD" transform="translate(333.33,106.12) scale(2.05)" style="--f:#ba6e72;--c:#4a4747;--h:#a4abba;--n:#555460"/><use href="#iD" transform="translate(429.83,106.12) scale(2.05)" style="--f:#ba6e72;--c:#4a4747;--h:#a4abba;--n:#555460"/><use href="#iD" transform="translate(526.13,106.12) scale(2.05)" style="--f:#ba6e72;--c:#4a4747;--h:#a4abba;--n:#555460"/><use href="#iD" transform="translate(622.83,106.12) scale(2.05)" style="--f:#af7f8c;--c:#4a4747;--h:#a4abba;--n:#555460"/><use href="#iD" transform="translate(719.33,106.12) scale(2.05)" style="--f:#b33c3c;--c:#613232;--h:#a4abba;--n:#654552"/><use href="#iD" transform="translate(333.33,211.62) scale(2.05)" style="--f:#b35353;--c:#503a3a;--h:#a4abba;--n:#5a4a58"/><use href="#iD" transform="translate(429.83,211.62) scale(2.05)" style="--f:#ba6e72;--c:#4a4747;--h:#a4abba;--n:#555460"/><use href="#iD" transform="translate(526.13,211.62) scale(2.05)" style="--f:#b33c3c;--c:#613232;--h:#a4abba;--n:#654552"/><use href="#iD" transform="translate(622.83,211.62) scale(2.05)" style="--f:#ba6e72;--c:#4a4747;--h:#a4abba;--n:#555460"/><use href="#iD" transform="translate(719.33,211.62) scale(2.05)" style="--f:#b35353;--c:#503a3a;--h:#a4abba;--n:#5a4a58"/><use href="#iD" transform="translate(333.33,318.12) scale(2.05)" style="--f:#ba6e72;--c:#4a4747;--h:#a4abba;--n:#555460"/><use href="#iD" transform="translate(429.83,318.12) scale(2.05)" style="--f:#ba6e72;--c:#4a4747;--h:#a4abba;--n:#555460"/><use href="#iD" transform="translate(526.13,318.12) scale(2.05)" style="--f:#ba6e72;--c:#4a4747;--h:#a4abba;--n:#555460"/><use href="#iD" transform="translate(622.83,318.12) scale(2.05)" style="--f:#ba6e72;--c:#4a4747;--h:#a4abba;--n:#555460"/><use href="#iD" transform="translate(719.33,318.12) scale(2.05)" style="--f:#a49faf;--c:#4a4747;--h:#a4abba;--n:#555460"/><use href="#iD" transform="translate(333.33,422.62) scale(2.05)" style="--f:#ba6e72;--c:#4a4747;--h:#a4abba;--n:#555460"/><use href="#iD" transform="translate(429.83,422.62) scale(2.05)" style="--f:#b33c3c;--c:#613232;--h:#a4abba;--n:#654552"/><use href="#iD" transform="translate(526.13,422.62) scale(2.05)" style="--f:#ba6e72;--c:#4a4747;--h:#a4abba;--n:#555460"/><use href="#iD" transform="translate(622.83,422.62) scale(2.05)" style="--f:#a49faf;--c:#4a4747;--h:#a4abba;--n:#555460"/><use href="#iD" transform="translate(719.33,422.62) scale(2.05)" style="--f:#ba6e72;--c:#4a4747;--h:#a4abba;--n:#555460"/><use href="#iD" transform="translate(333.33,528.12) scale(2.05)" style="--f:#ba6e72;--c:#4a4747;--h:#a4abba;--n:#555460"/><use href="#iD" transform="translate(429.83,528.12) scale(2.05)" style="--f:#ba6e72;--c:#4a4747;--h:#a4abba;--n:#555460"/><use href="#iD" transform="translate(526.13,528.12) scale(2.05)" style="--f:#ba6e72;--c:#4a4747;--h:#a4abba;--n:#555460"/><use href="#iD" transform="translate(622.83,528.12) scale(2.05)" style="--f:#ba6e72;--c:#4a4747;--h:#a4abba;--n:#555460"/><use href="#iD" transform="translate(719.33,528.12) scale(2.05)" style="--f:#b33c3c;--c:#613232;--h:#a4abba;--n:#654552"/><use href="#iD" transform="translate(335.12,103.97) scale(2.05)" style="--f:#b96b6f;--c:#464444;--h:#a2aab9;--n:#52515e"/><use href="#iD" transform="translate(431.62,103.97) scale(2.05)" style="--f:#b96b6f;--c:#464444;--h:#a2aab9;--n:#52515e"/><use href="#iD" transform="translate(527.92,103.97) scale(2.05)" style="--f:#b96b6f;--c:#464444;--h:#a2aab9;--n:#52515e"/><use href="#iD" transform="translate(624.62,103.97) scale(2.05)" style="--f:#ae7d8a;--c:#464444;--h:#a2aab9;--n:#52515e"/><use href="#iD" transform="translate(721.12,103.97) scale(2.05)" style="--f:#b23838;--c:#5e2f2f;--h:#a2aab9;--n:#63414f"/><use href="#iD" transform="translate(335.12,209.47) scale(2.05)" style="--f:#b25050;--c:#4d3737;--h:#a2aab9;--n:#574755"/><use href="#iD" transform="translate(431.62,209.47) scale(2.05)" style="--f:#b96b6f;--c:#464444;--h:#a2aab9;--n:#52515e"/><use href="#iD" transform="translate(527.92,209.47) scale(2.05)" style="--f:#b23838;--c:#5e2f2f;--h:#a2aab9;--n:#63414f"/><use href="#iD" transform="translate(624.62,209.47) scale(2.05)" style="--f:#b96b6f;--c:#464444;--h:#a2aab9;--n:#52515e"/><use href="#iD" transform="translate(721.12,209.47) scale(2.05)" style="--f:#b25050;--c:#4d3737;--h:#a2aab9;--n:#574755"/><use href="#iD" transform="translate(335.12,315.97) scale(2.05)" style="--f:#b96b6f;--c:#464444;--h:#a2aab9;--n:#52515e"/><use href="#iD" transform="translate(431.62,315.97) scale(2.05)" style="--f:#b96b6f;--c:#464444;--h:#a2aab9;--n:#52515e"/><use href="#iD" transform="translate(527.92,315.97) scale(2.05)" style="--f:#b96b6f;--c:#464444;--h:#a2aab9;--n:#52515e"/><use href="#iD" transform="translate(624.62,315.97) scale(2.05)" style="--f:#b96b6f;--c:#464444;--h:#a2aab9;--n:#52515e"/><use href="#iD" transform="translate(721.12,315.97) scale(2.05)" style="--f:#a29eae;--c:#464444;--h:#a2aab9;--n:#52515e"/><use href="#iD" transform="translate(335.12,420.47) scale(2.05)" style="--f:#b96b6f;--c:#464444;--h:#a2aab9;--n:#52515e"/><use href="#iD" transform="translate(431.62,420.47) scale(2.05)" style="--f:#b23838;--c:#5e2f2f;--h:#a2aab9;--n:#63414f"/><use href="#iD" transform="translate(527.92,420.47) scale(2.05)" style="--f:#b96b6f;--c:#464444;--h:#a2aab9;--n:#52515e"/><use href="#iD" transform="translate(624.62,420.47) scale(2.05)" style="--f:#a29eae;--c:#464444;--h:#a2aab9;--n:#52515e"/><use href="#iD" transform="translate(721.12,420.47) scale(2.05)" style="--f:#b96b6f;--c:#464444;--h:#a2aab9;--n:#52515e"/><use href="#iD" transform="translate(335.12,525.97) scale(2.05)" style="--f:#b96b6f;--c:#464444;--h:#a2aab9;--n:#52515e"/><use href="#iD" transform="translate(431.62,525.97) scale(2.05)" style="--f:#b96b6f;--c:#464444;--h:#a2aab9;--n:#52515e"/><use href="#iD" transform="translate(527.92,525.97) scale(2.05)" style="--f:#b96b6f;--c:#464444;--h:#a2aab9;--n:#52515e"/><use href="#iD" transform="translate(624.62,525.97) scale(2.05)" style="--f:#b96b6f;--c:#464444;--h:#a2aab9;--n:#52515e"/><use href="#iD" transform="translate(721.12,525.97) scale(2.05)" style="--f:#b23838;--c:#5e2f2f;--h:#a2aab9;--n:#63414f"/><use href="#iD" transform="translate(336.92,101.81) scale(2.05)" style="--f:#b9696d;--c:#444242;--h:#a1a9b9;--n:#504f5c"/><use href="#iD" transform="translate(433.42,101.81) scale(2.05)" style="--f:#b9696d;--c:#444242;--h:#a1a9b9;--n:#504f5c"/><use href="#iD" transform="translate(529.72,101.81) scale(2.05)" style="--f:#b9696d;--c:#444242;--h:#a1a9b9;--n:#504f5c"/><use href="#iD" transform="translate(626.42,101.81) scale(2.05)" style="--f:#ad7b89;--c:#444242;--h:#a1a9b9;--n:#504f5c"/><use href="#iD" transform="translate(722.92,101.81) scale(2.05)" style="--f:#b13636;--c:#5c2c2c;--h:#a1a9b9;--n:#613f4d"/><use href="#iD" transform="translate(336.92,207.31) scale(2.05)" style="--f:#b14e4e;--c:#4b3434;--h:#a1a9b9;--n:#554553"/><use href="#iD" transform="translate(433.42,207.31) scale(2.05)" style="--f:#b9696d;--c:#444242;--h:#a1a9b9;--n:#504f5c"/><use href="#iD" transform="translate(529.72,207.31) scale(2.05)" style="--f:#b13636;--c:#5c2c2c;--h:#a1a9b9;--n:#613f4d"/><use href="#iD" transform="translate(626.42,207.31) scale(2.05)" style="--f:#b9696d;--c:#444242;--h:#a1a9b9;--n:#504f5c"/><use href="#iD" transform="translate(722.92,207.31) scale(2.05)" style="--f:#b14e4e;--c:#4b3434;--h:#a1a9b9;--n:#554553"/><use href="#iD" transform="translate(336.92,313.81) scale(2.05)" style="--f:#b9696d;--c:#444242;--h:#a1a9b9;--n:#504f5c"/><use href="#iD" transform="translate(433.42,313.81) scale(2.05)" style="--f:#b9696d;--c:#444242;--h:#a1a9b9;--n:#504f5c"/><use href="#iD" transform="translate(529.72,313.81) scale(2.05)" style="--f:#b9696d;--c:#444242;--h:#a1a9b9;--n:#504f5c"/><use href="#iD" transform="translate(626.42,313.81) scale(2.05)" style="--f:#b9696d;--c:#444242;--h:#a1a9b9;--n:#504f5c"/><use href="#iD" transform="translate(722.92,313.81) scale(2.05)" style="--f:#a19dad;--c:#444242;--h:#a1a9b9;--n:#504f5c"/><use href="#iD" transform="translate(336.92,418.31) scale(2.05)" style="--f:#b9696d;--c:#444242;--h:#a1a9b9;--n:#504f5c"/><use href="#iD" transform="translate(433.42,418.31) scale(2.05)" style="--f:#b13636;--c:#5c2c2c;--h:#a1a9b9;--n:#613f4d"/><use href="#iD" transform="translate(529.72,418.31) scale(2.05)" style="--f:#b9696d;--c:#444242;--h:#a1a9b9;--n:#504f5c"/><use href="#iD" transform="translate(626.42,418.31) scale(2.05)" style="--f:#a19dad;--c:#444242;--h:#a1a9b9;--n:#504f5c"/><use href="#iD" transform="translate(722.92,418.31) scale(2.05)" style="--f:#b9696d;--c:#444242;--h:#a1a9b9;--n:#504f5c"/><use href="#iD" transform="translate(336.92,523.81) scale(2.05)" style="--f:#b9696d;--c:#444242;--h:#a1a9b9;--n:#504f5c"/><use href="#iD" transform="translate(433.42,523.81) scale(2.05)" style="--f:#b9696d;--c:#444242;--h:#a1a9b9;--n:#504f5c"/><use href="#iD" transform="translate(529.72,523.81) scale(2.05)" style="--f:#b9696d;--c:#444242;--h:#a1a9b9;--n:#504f5c"/><use href="#iD" transform="translate(626.42,523.81) scale(2.05)" style="--f:#b9696d;--c:#444242;--h:#a1a9b9;--n:#504f5c"/><use href="#iD" transform="translate(722.92,523.81) scale(2.05)" style="--f:#b13636;--c:#5c2c2c;--h:#a1a9b9;--n:#613f4d"/><use href="#iD" transform="translate(338.71,99.66) scale(2.05)" style="--f:#b8686c;--c:#424040;--h:#a0a8b8;--n:#4e4d5a"/><use href="#iD" transform="translate(435.21,99.66) scale(2.05)" style="--f:#b8686c;--c:#424040;--h:#a0a8b8;--n:#4e4d5a"/><use href="#iD" transform="translate(531.51,99.66) scale(2.05)" style="--f:#b8686c;--c:#424040;--h:#a0a8b8;--n:#4e4d5a"/><use href="#iD" transform="translate(628.21,99.66) scale(2.05)" style="--f:#ac7a88;--c:#424040;--h:#a0a8b8;--n:#4e4d5a"/><use href="#iD" transform="translate(724.71,99.66) scale(2.05)" style="--f:#b03434;--c:#5a2b2b;--h:#a0a8b8;--n:#5f3d4b"/><use href="#iD" transform="translate(338.71,205.16) scale(2.05)" style="--f:#b04c4c;--c:#493333;--h:#a0a8b8;--n:#534351"/><use href="#iD" transform="translate(435.21,205.16) scale(2.05)" style="--f:#b8686c;--c:#424040;--h:#a0a8b8;--n:#4e4d5a"/><use href="#iD" transform="translate(531.51,205.16) scale(2.05)" style="--f:#b03434;--c:#5a2b2b;--h:#a0a8b8;--n:#5f3d4b"/><use href="#iD" transform="translate(628.21,205.16) scale(2.05)" style="--f:#b8686c;--c:#424040;--h:#a0a8b8;--n:#4e4d5a"/><use href="#iD" transform="translate(724.71,205.16) scale(2.05)" style="--f:#b04c4c;--c:#493333;--h:#a0a8b8;--n:#534351"/><use href="#iD" transform="translate(338.71,311.66) scale(2.05)" style="--f:#b8686c;--c:#424040;--h:#a0a8b8;--n:#4e4d5a"/><use href="#iD" transform="translate(435.21,311.66) scale(2.05)" style="--f:#b8686c;--c:#424040;--h:#a0a8b8;--n:#4e4d5a"/><use href="#iD" transform="translate(531.51,311.66) scale(2.05)" style="--f:#b8686c;--c:#424040;--h:#a0a8b8;--n:#4e4d5a"/><use href="#iD" transform="translate(628.21,311.66) scale(2.05)" style="--f:#b8686c;--c:#424040;--h:#a0a8b8;--n:#4e4d5a"/><use href="#iD" transform="translate(724.71,311.66) scale(2.05)" style="--f:#a09cac;--c:#424040;--h:#a0a8b8;--n:#4e4d5a"/><use href="#iD" transform="translate(338.71,416.16) scale(2.05)" style="--f:#b8686c;--c:#424040;--h:#a0a8b8;--n:#4e4d5a"/><use href="#iD" transform="translate(435.21,416.16) scale(2.05)" style="--f:#b03434;--c:#5a2b2b;--h:#a0a8b8;--n:#5f3d4b"/><use href="#iD" transform="translate(531.51,416.16) scale(2.05)" style="--f:#b8686c;--c:#424040;--h:#a0a8b8;--n:#4e4d5a"/><use href="#iD" transform="translate(628.21,416.16) scale(2.05)" style="--f:#a09cac;--c:#424040;--h:#a0a8b8;--n:#4e4d5a"/><use href="#iD" transform="translate(724.71,416.16) scale(2.05)" style="--f:#b8686c;--c:#424040;--h:#a0a8b8;--n:#4e4d5a"/><use href="#iD" transform="translate(338.71,521.66) scale(2.05)" style="--f:#b8686c;--c:#424040;--h:#a0a8b8;--n:#4e4d5a"/><use href="#iD" transform="translate(435.21,521.66) scale(2.05)" style="--f:#b8686c;--c:#424040;--h:#a0a8b8;--n:#4e4d5a"/><use href="#iD" transform="translate(531.51,521.66) scale(2.05)" style="--f:#b8686c;--c:#424040;--h:#a0a8b8;--n:#4e4d5a"/><use href="#iD" transform="translate(628.21,521.66) scale(2.05)" style="--f:#b8686c;--c:#424040;--h:#a0a8b8;--n:#4e4d5a"/><use href="#iD" transform="translate(724.71,521.66) scale(2.05)" style="--f:#b03434;--c:#5a2b2b;--h:#a0a8b8;--n:#5f3d4b"/><use href="#iT" transform="translate(340.50,97.50) scale(2.05)" style="--f:#ef9797;--c:#383838;--h:#dde4ee;--n:#43435e;--l:#f3b3b3"/><use href="#iT" transform="translate(437.00,97.50) scale(2.05)" style="--f:#ef9797;--c:#383838;--h:#dde4ee;--n:#43435e;--l:#f3b3b3"/><use href="#iT" transform="translate(533.30,97.50) scale(2.05)" style="--f:#ef9797;--c:#383838;--h:#dde4ee;--n:#43435e;--l:#f3b3b3"/><use href="#iT" transform="translate(630.00,97.50) scale(2.05)" style="--f:#efb3c1;--c:#3c3c48;--h:#dde4ee;--n:#444465;--l:#f3c7d1"/><use href="#iT" transform="translate(726.50,97.50) scale(2.05)" style="--f:#e86161;--c:#642020;--h:#dde4ee;--n:#543955;--l:#ee8b8b"/><use href="#iT" transform="translate(340.50,203.00) scale(2.05)" style="--f:#e87a7a;--c:#4c2c2c;--h:#dde4ee;--n:#4b3e5a;--l:#ee9e9e"/><use href="#iT" transform="translate(437.00,203.00) scale(2.05)" style="--f:#ef9797;--c:#383838;--h:#dde4ee;--n:#43435e;--l:#f3b3b3"/><use href="#iT" transform="translate(533.30,203.00) scale(2.05)" style="--f:#e86161;--c:#642020;--h:#dde4ee;--n:#543955;--l:#ee8b8b"/><use href="#iT" transform="translate(630.00,203.00) scale(2.05)" style="--f:#ef9797;--c:#383838;--h:#dde4ee;--n:#43435e;--l:#f3b3b3"/><use href="#iT" transform="translate(726.50,203.00) scale(2.05)" style="--f:#e87a7a;--c:#4c2c2c;--h:#dde4ee;--n:#4b3e5a;--l:#ee9e9e"/><use href="#iT" transform="translate(340.50,309.50) scale(2.05)" style="--f:#ef9797;--c:#383838;--h:#dde4ee;--n:#43435e;--l:#f3b3b3"/><use href="#iT" transform="translate(437.00,309.50) scale(2.05)" style="--f:#ef9797;--c:#383838;--h:#dde4ee;--n:#43435e;--l:#f3b3b3"/><use href="#iT" transform="translate(533.30,309.50) scale(2.05)" style="--f:#ef9797;--c:#383838;--h:#dde4ee;--n:#43435e;--l:#f3b3b3"/><use href="#iT" transform="translate(630.00,309.50) scale(2.05)" style="--f:#ef9797;--c:#383838;--h:#dde4ee;--n:#43435e;--l:#f3b3b3"/><use href="#iT" transform="translate(726.50,309.50) scale(2.05)" style="--f:#efeef5;--c:#323232;--h:#dde4ee;--n:#40405c;--l:#f3f2f8"/><use href="#iT" transform="translate(340.50,414.00) scale(2.05)" style="--f:#ef9797;--c:#383838;--h:#dde4ee;--n:#43435e;--l:#f3b3b3"/><use href="#iT" transform="translate(437.00,414.00) scale(2.05)" style="--f:#e86161;--c:#642020;--h:#dde4ee;--n:#543955;--l:#ee8b8b"/><use href="#iT" transform="translate(533.30,414.00) scale(2.05)" style="--f:#ef9797;--c:#383838;--h:#dde4ee;--n:#43435e;--l:#f3b3b3"/><use href="#iT" transform="translate(630.00,414.00) scale(2.05)" style="--f:#efeef5;--c:#323232;--h:#dde4ee;--n:#40405c;--l:#f3f2f8"/><use href="#iT" transform="translate(726.50,414.00) scale(2.05)" style="--f:#ef9797;--c:#383838;--h:#dde4ee;--n:#43435e;--l:#f3b3b3"/><use href="#iT" transform="translate(340.50,519.50) scale(2.05)" style="--f:#ef9797;--c:#383838;--h:#dde4ee;--n:#43435e;--l:#f3b3b3"/><use href="#iT" transform="translate(437.00,519.50) scale(2.05)" style="--f:#ef9797;--c:#383838;--h:#dde4ee;--n:#43435e;--l:#f3b3b3"/><use href="#iT" transform="translate(533.30,519.50) scale(2.05)" style="--f:#ef9797;--c:#383838;--h:#dde4ee;--n:#43435e;--l:#f3b3b3"/><use href="#iT" transform="translate(630.00,519.50) scale(2.05)" style="--f:#ef9797;--c:#383838;--h:#dde4ee;--n:#43435e;--l:#f3b3b3"/><use href="#iT" transform="translate(726.50,519.50) scale(2.05)" style="--f:#e86161;--c:#642020;--h:#dde4ee;--n:#543955;--l:#ee8b8b"/></g><rect x="381.7" y="129.1" width="294.8" height="313.6" fill="none" stroke="#000" stroke-width="3.6"/><linearGradient id="lg" gradientUnits="userSpaceOnUse" x1="334" y1="0" x2="352" y2="0"><stop offset="0" stop-color="#fff"/><stop offset="1" stop-color="#000"/></linearGradient><path d="M102.2,268.6L381.7,129.1M245.8,268.6L381.7,225M245.8,421.2L381.7,427.5M102.2,421.2L381.7,442.7" stroke="url(#lg)" stroke-width="3" fill="none"/><path d="M32.9,92V476" stroke="#000" stroke-width="3.8"/><path d="M32.8,80.6L41.1,94.6L24.7,94.6Z M32.8,487.3L41,473.6L24.9,473.6Z" fill="#000"/><path d="M140,492H259" stroke="#000" stroke-width="3.8"/><path d="M127,492L142,484.8L142,500.4Z M271.7,492L256.7,484.8L256.7,500.4Z" fill="#000"/><rect x="856.5" y="51.5" width="311.80" height="390.0" fill="none" stroke="#333" stroke-width="1.1"/><path d="M887.68,441.5v-4.7M887.68,51.5v4.7M918.86,441.5v-9M918.86,51.5v9M950.04,441.5v-4.7M950.04,51.5v4.7M981.22,441.5v-9M981.22,51.5v9M1012.40,441.5v-4.7M1012.40,51.5v4.7M1043.58,441.5v-9M1043.58,51.5v9M1074.76,441.5v-4.7M1074.76,51.5v4.7M1105.94,441.5v-9M1105.94,51.5v9M1137.12,441.5v-4.7M1137.12,51.5v4.7M856.5,105.29h9M1168.3,105.29h-9M856.5,172.53h4.7M1168.3,172.53h-4.7M856.5,239.78h9M1168.3,239.78h-9M856.5,307.02h4.7M1168.3,307.02h-4.7M856.5,374.26h9M1168.3,374.26h-9" stroke="#333" stroke-width="1.1" fill="none"/><rect x="1181.5" y="51.5" width="311.80" height="390.0" fill="none" stroke="#333" stroke-width="1.1"/><path d="M1212.68,441.5v-4.7M1212.68,51.5v4.7M1243.86,441.5v-9M1243.86,51.5v9M1275.04,441.5v-4.7M1275.04,51.5v4.7M1306.22,441.5v-9M1306.22,51.5v9M1337.40,441.5v-4.7M1337.40,51.5v4.7M1368.58,441.5v-9M1368.58,51.5v9M1399.76,441.5v-4.7M1399.76,51.5v4.7M1430.94,441.5v-9M1430.94,51.5v9M1462.12,441.5v-4.7M1462.12,51.5v4.7M1181.5,105.29h9M1493.3,105.29h-9M1181.5,172.53h4.7M1493.3,172.53h-4.7M1181.5,239.78h9M1493.3,239.78h-9M1181.5,307.02h4.7M1493.3,307.02h-4.7M1181.5,374.26h9M1493.3,374.26h-9" stroke="#333" stroke-width="1.1" fill="none"/><path d="M856.50,175.40L934.45,160.30L1012.40,140.20L1090.35,131.60L1165.18,112.30" stroke="#0000ff" stroke-width="2.6" fill="none" stroke-linejoin="round"/><circle cx="856.50" cy="175.40" r="6.6" fill="none" stroke="#0000ff" stroke-width="2.1"/><circle cx="934.45" cy="160.30" r="6.6" fill="none" stroke="#0000ff" stroke-width="2.1"/><circle cx="1012.40" cy="140.20" r="6.6" fill="none" stroke="#0000ff" stroke-width="2.1"/><circle cx="1090.35" cy="131.60" r="6.6" fill="none" stroke="#0000ff" stroke-width="2.1"/><circle cx="1165.18" cy="112.30" r="6.6" fill="none" stroke="#0000ff" stroke-width="2.1"/><path d="M925.10,167.50L974.98,161.60L1021.75,156.30L1112.18,145.70L1168.30,140.50" stroke="#0000ff" stroke-width="1.3" fill="none" stroke-linejoin="round"/><circle cx="925.10" cy="167.50" r="6.7" fill="#0000ff"/><circle cx="974.98" cy="161.60" r="6.7" fill="#0000ff"/><circle cx="1021.75" cy="156.30" r="6.7" fill="#0000ff"/><circle cx="1112.18" cy="145.70" r="6.7" fill="#0000ff"/><circle cx="1168.30" cy="140.50" r="6.7" fill="#0000ff"/><path d="M856.50,220.40L934.45,206.30L1012.40,193.20L1090.35,186.30L1165.18,173.20" stroke="#ff0000" stroke-width="2.6" fill="none" stroke-linejoin="round"/><circle cx="856.50" cy="220.40" r="6.6" fill="none" stroke="#ff0000" stroke-width="2.1"/><circle cx="934.45" cy="206.30" r="6.6" fill="none" stroke="#ff0000" stroke-width="2.1"/><circle cx="1012.40" cy="193.20" r="6.6" fill="none" stroke="#ff0000" stroke-width="2.1"/><circle cx="1090.35" cy="186.30" r="6.6" fill="none" stroke="#ff0000" stroke-width="2.1"/><circle cx="1165.18" cy="173.20" r="6.6" fill="none" stroke="#ff0000" stroke-width="2.1"/><path d="M856.50,213.20L925.10,204.50L974.98,199.20L1021.75,193.70L1112.18,182.90" stroke="#ff0000" stroke-width="1.3" fill="none" stroke-linejoin="round"/><circle cx="856.50" cy="213.20" r="6.7" fill="#ff0000"/><circle cx="925.10" cy="204.50" r="6.7" fill="#ff0000"/><circle cx="974.98" cy="199.20" r="6.7" fill="#ff0000"/><circle cx="1021.75" cy="193.70" r="6.7" fill="#ff0000"/><circle cx="1112.18" cy="182.90" r="6.7" fill="#ff0000"/><path d="M1181.50,341.20L1259.45,290.90L1337.40,231.10L1415.35,174.40L1490.18,115.20" stroke="#0000ff" stroke-width="2.6" fill="none" stroke-linejoin="round"/><circle cx="1181.50" cy="341.20" r="6.6" fill="none" stroke="#0000ff" stroke-width="2.1"/><circle cx="1259.45" cy="290.90" r="6.6" fill="none" stroke="#0000ff" stroke-width="2.1"/><circle cx="1337.40" cy="231.10" r="6.6" fill="none" stroke="#0000ff" stroke-width="2.1"/><circle cx="1415.35" cy="174.40" r="6.6" fill="none" stroke="#0000ff" stroke-width="2.1"/><circle cx="1490.18" cy="115.20" r="6.6" fill="none" stroke="#0000ff" stroke-width="2.1"/><path d="M1250.10,246.80L1299.98,219.90L1346.75,206.20L1437.18,163.40L1493.30,139.20" stroke="#0000ff" stroke-width="1.3" fill="none" stroke-linejoin="round"/><circle cx="1250.10" cy="246.80" r="6.7" fill="#0000ff"/><circle cx="1299.98" cy="219.90" r="6.7" fill="#0000ff"/><circle cx="1346.75" cy="206.20" r="6.7" fill="#0000ff"/><circle cx="1437.18" cy="163.40" r="6.7" fill="#0000ff"/><circle cx="1493.30" cy="139.20" r="6.7" fill="#0000ff"/><path d="M1181.50,405.20L1259.45,353.30L1337.40,295.40L1415.35,234.50L1490.18,175.60" stroke="#ff0000" stroke-width="2.6" fill="none" stroke-linejoin="round"/><circle cx="1181.50" cy="405.20" r="6.6" fill="none" stroke="#ff0000" stroke-width="2.1"/><circle cx="1259.45" cy="353.30" r="6.6" fill="none" stroke="#ff0000" stroke-width="2.1"/><circle cx="1337.40" cy="295.40" r="6.6" fill="none" stroke="#ff0000" stroke-width="2.1"/><circle cx="1415.35" cy="234.50" r="6.6" fill="none" stroke="#ff0000" stroke-width="2.1"/><circle cx="1490.18" cy="175.60" r="6.6" fill="none" stroke="#ff0000" stroke-width="2.1"/><path d="M1181.50,327.60L1250.10,295.30L1299.98,276.50L1346.75,260.40L1437.18,215.00" stroke="#ff0000" stroke-width="1.3" fill="none" stroke-linejoin="round"/><circle cx="1181.50" cy="327.60" r="6.7" fill="#ff0000"/><circle cx="1250.10" cy="295.30" r="6.7" fill="#ff0000"/><circle cx="1299.98" cy="276.50" r="6.7" fill="#ff0000"/><circle cx="1346.75" cy="260.40" r="6.7" fill="#ff0000"/><circle cx="1437.18" cy="215.00" r="6.7" fill="#ff0000"/><path d="M1073.9,385.2H1158.8" stroke="#0000ff" stroke-width="2.6"/><circle cx="1116.1" cy="385.2" r="6.6" fill="none" stroke="#0000ff" stroke-width="2.1"/><path d="M1073.9,416.6H1158.8" stroke="#4040ff" stroke-width="1.3"/><circle cx="1116.1" cy="416.6" r="6.7" fill="#0000ff"/><text transform="translate(4.00,-0.60) scale(0.18627,0.19444) translate(-9.0,138.0)" font-size="200" fill="#000">(a)</text><text transform="translate(798.80,-0.20) scale(0.18102,0.19337) translate(-9.0,139.0)" font-size="200" fill="#000">(b)</text><text transform="translate(787.00,91.80) scale(0.16291,0.16029) translate(-7.0,133.0)" font-size="200" fill="#000">-5.0</text><text transform="translate(787.00,226.80) scale(0.16291,0.16269) translate(-7.0,131.0)" font-size="200" fill="#000">-5.5</text><text transform="translate(787.00,361.20) scale(0.16291,0.16103) translate(-7.0,133.0)" font-size="200" fill="#000">-6.0</text><text transform="translate(849.35,460.20) scale(0.16628,0.16222) translate(-7.0,133.0)" font-size="200" fill="#000">0</text><text transform="translate(899.91,460.20) scale(0.16336,0.16103) translate(-7.0,133.0)" font-size="200" fill="#000">0.2</text><text transform="translate(962.27,460.20) scale(0.15792,0.16103) translate(-7.0,133.0)" font-size="200" fill="#000">0.4</text><text transform="translate(1024.63,460.20) scale(0.15992,0.16103) translate(-7.0,133.0)" font-size="200" fill="#000">0.6</text><text transform="translate(1086.99,460.20) scale(0.16059,0.16103) translate(-7.0,133.0)" font-size="200" fill="#000">0.8</text><text transform="translate(1174.35,460.20) scale(0.16628,0.16222) translate(-7.0,133.0)" font-size="200" fill="#000">0</text><text transform="translate(1224.91,460.20) scale(0.16336,0.16103) translate(-7.0,133.0)" font-size="200" fill="#000">0.2</text><text transform="translate(1287.27,460.20) scale(0.15792,0.16103) translate(-7.0,133.0)" font-size="200" fill="#000">0.4</text><text transform="translate(1349.63,460.20) scale(0.15992,0.16103) translate(-7.0,133.0)" font-size="200" fill="#000">0.6</text><text transform="translate(1411.99,460.20) scale(0.16059,0.16103) translate(-7.0,133.0)" font-size="200" fill="#000">0.8</text><text transform="translate(1487.75,460.20) scale(0.15634,0.16591) translate(-17.0,132.0)" font-size="200" fill="#000">1</text><text transform="translate(1006.00,514.20) scale(0.15802,0.16042) translate(-6.0,94.0)" font-size="200" fill="#000" font-style="italic">c</text><text transform="translate(1331.00,514.20) scale(0.15802,0.16042) translate(-6.0,94.0)" font-size="200" fill="#000" font-style="italic">c</text><text transform="translate(904.50,104.10) scale(0.16806,0.16767) translate(-9.0,131.0)" font-size="200" fill="#0000ff">ZnPc</text><text transform="translate(904.00,232.90) scale(0.18265,0.17023) translate(-6.0,131.0)" font-size="200" fill="#ff0000">F</text><text transform="translate(924.40,232.70) scale(0.11875,0.13108) translate(-10.0,131.0)" font-size="200" fill="#ff0000">*</text><text transform="translate(923.70,247.60) scale(0.12043,0.11742) translate(-4.0,132.0)" font-size="200" fill="#ff0000">4</text><text transform="translate(938.60,233.00) scale(0.16830,0.16842) translate(-9.0,131.0)" font-size="200" fill="#ff0000">ZnPc</text><text transform="translate(1338.80,135.10) scale(0.16880,0.16617) translate(-9.0,131.0)" font-size="200" fill="#0000ff">ZnPc</text><text transform="translate(1338.00,310.90) scale(0.18673,0.17023) translate(-6.0,131.0)" font-size="200" fill="#ff0000">F</text><text transform="translate(1358.10,321.50) scale(0.11935,0.12121) translate(-4.0,132.0)" font-size="200" fill="#ff0000">4</text><text transform="translate(1372.70,311.00) scale(0.16830,0.16842) translate(-9.0,131.0)" font-size="200" fill="#ff0000">ZnPc</text><text transform="translate(901.90,371.30) scale(0.16759,0.16099) translate(-8.0,139.0)" font-size="200" fill="#000">simulations</text><text transform="translate(904.30,403.50) scale(0.16655,0.15632) translate(-8.0,132.0)" font-size="200" fill="#000">experiment</text><text transform="translate(714.00,368.70) rotate(-90) scale(0.16329,0.17778) translate(-7.0,138.0)" font-size="200" fill="#000">IE(<tspan font-style="italic">c</tspan>)</text><text transform="translate(714.00,286.80) rotate(-90) scale(0.16747,0.17778) translate(-9.0,138.0)" font-size="200" fill="#000">(onset)</text><text transform="translate(714.40,181.40) rotate(-90) scale(0.21636,0.23433) translate(-0.0,132.0)" font-size="200" fill="#000">/</text><text transform="translate(716.10,156.80) rotate(-90) scale(0.14888,0.17090) translate(-8.0,131.0)" font-size="200" fill="#000">eV</text><text transform="translate(1.60,317.70) rotate(-90) scale(0.16420,0.14667) translate(-17.0,133.0)" font-size="200" fill="#000">10 nm</text><text transform="translate(173.90,505.60) scale(0.17651,0.16444) translate(3.0,92.0)" font-size="200" fill="#000" font-style="italic">x, y</text></svg></body></html>
